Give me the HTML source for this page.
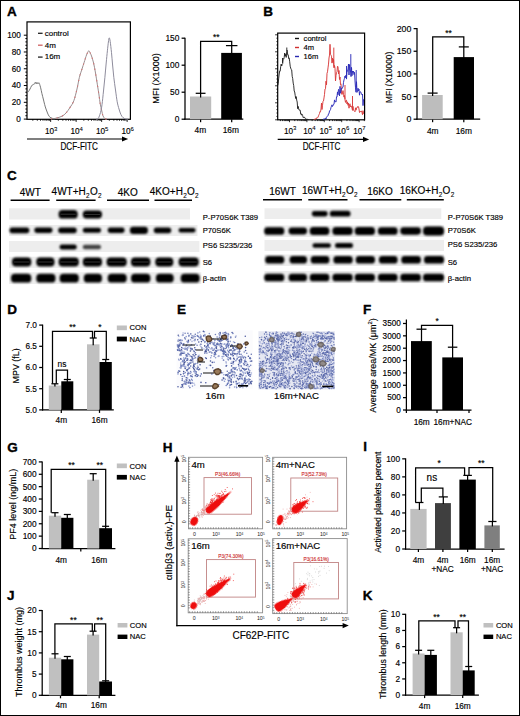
<!DOCTYPE html>
<html><head><meta charset="utf-8"><style>
html,body{margin:0;padding:0;background:#fff;}
body{width:520px;height:716px;overflow:hidden;position:relative;}
svg{position:absolute;left:0;top:0;}
text{font-family:"Liberation Sans",sans-serif;}
.frame{position:absolute;left:0;top:0;width:518px;height:714px;border:1px solid #000;pointer-events:none;}
</style></head><body>
<svg width="520" height="716" viewBox="0 0 520 716" font-family="Liberation Sans, sans-serif">
<defs><filter id="bl" x="-20%" y="-60%" width="140%" height="220%"><feGaussianBlur stdDeviation="0.85"/></filter><filter id="bl2" x="-5%" y="-30%" width="110%" height="160%"><feGaussianBlur stdDeviation="0.7"/></filter><filter id="bl3" x="-50%" y="-50%" width="200%" height="200%"><feGaussianBlur stdDeviation="0.5"/></filter></defs>
<text x="6.89" y="15.81" font-size="13.5" font-weight="bold" stroke="#000" stroke-width="0.35">A</text>
<rect x="27.00" y="21.90" width="103.40" height="97.40" fill="none" stroke="#000" stroke-width="1.2" />
<line x1="23.80" y1="119.10" x2="27.00" y2="119.10" stroke="#000" stroke-width="1.0" />
<line x1="25.40" y1="115.74" x2="27.00" y2="115.74" stroke="#000" stroke-width="1.0" />
<line x1="25.40" y1="112.39" x2="27.00" y2="112.39" stroke="#000" stroke-width="1.0" />
<line x1="25.40" y1="109.03" x2="27.00" y2="109.03" stroke="#000" stroke-width="1.0" />
<line x1="25.40" y1="105.68" x2="27.00" y2="105.68" stroke="#000" stroke-width="1.0" />
<line x1="23.80" y1="102.32" x2="27.00" y2="102.32" stroke="#000" stroke-width="1.0" />
<line x1="25.40" y1="98.96" x2="27.00" y2="98.96" stroke="#000" stroke-width="1.0" />
<line x1="25.40" y1="95.61" x2="27.00" y2="95.61" stroke="#000" stroke-width="1.0" />
<line x1="25.40" y1="92.25" x2="27.00" y2="92.25" stroke="#000" stroke-width="1.0" />
<line x1="25.40" y1="88.90" x2="27.00" y2="88.90" stroke="#000" stroke-width="1.0" />
<line x1="23.80" y1="85.54" x2="27.00" y2="85.54" stroke="#000" stroke-width="1.0" />
<line x1="25.40" y1="82.18" x2="27.00" y2="82.18" stroke="#000" stroke-width="1.0" />
<line x1="25.40" y1="78.83" x2="27.00" y2="78.83" stroke="#000" stroke-width="1.0" />
<line x1="25.40" y1="75.47" x2="27.00" y2="75.47" stroke="#000" stroke-width="1.0" />
<line x1="25.40" y1="72.12" x2="27.00" y2="72.12" stroke="#000" stroke-width="1.0" />
<line x1="23.80" y1="68.76" x2="27.00" y2="68.76" stroke="#000" stroke-width="1.0" />
<line x1="25.40" y1="65.40" x2="27.00" y2="65.40" stroke="#000" stroke-width="1.0" />
<line x1="25.40" y1="62.05" x2="27.00" y2="62.05" stroke="#000" stroke-width="1.0" />
<line x1="25.40" y1="58.69" x2="27.00" y2="58.69" stroke="#000" stroke-width="1.0" />
<line x1="25.40" y1="55.34" x2="27.00" y2="55.34" stroke="#000" stroke-width="1.0" />
<line x1="23.80" y1="51.98" x2="27.00" y2="51.98" stroke="#000" stroke-width="1.0" />
<line x1="25.40" y1="48.62" x2="27.00" y2="48.62" stroke="#000" stroke-width="1.0" />
<line x1="25.40" y1="45.27" x2="27.00" y2="45.27" stroke="#000" stroke-width="1.0" />
<line x1="25.40" y1="41.91" x2="27.00" y2="41.91" stroke="#000" stroke-width="1.0" />
<line x1="25.40" y1="38.56" x2="27.00" y2="38.56" stroke="#000" stroke-width="1.0" />
<line x1="23.80" y1="35.20" x2="27.00" y2="35.20" stroke="#000" stroke-width="1.0" />
<text x="20.90" y="121.93" font-size="8.2" text-anchor="end" font-weight="normal" fill="#000" stroke="#000" stroke-width="0.15" >0</text>
<text x="20.90" y="105.15" font-size="8.2" text-anchor="end" font-weight="normal" fill="#000" stroke="#000" stroke-width="0.15" >20</text>
<text x="20.90" y="88.37" font-size="8.2" text-anchor="end" font-weight="normal" fill="#000" stroke="#000" stroke-width="0.15" >40</text>
<text x="20.90" y="71.59" font-size="8.2" text-anchor="end" font-weight="normal" fill="#000" stroke="#000" stroke-width="0.15" >60</text>
<text x="20.90" y="54.81" font-size="8.2" text-anchor="end" font-weight="normal" fill="#000" stroke="#000" stroke-width="0.15" >80</text>
<text x="20.90" y="38.03" font-size="8.2" text-anchor="end" font-weight="normal" fill="#000" stroke="#000" stroke-width="0.15" >100</text>
<line x1="32.83" y1="119.30" x2="32.83" y2="120.70" stroke="#000" stroke-width="0.9" />
<line x1="37.32" y1="119.30" x2="37.32" y2="120.70" stroke="#000" stroke-width="0.9" />
<line x1="40.50" y1="119.30" x2="40.50" y2="120.70" stroke="#000" stroke-width="0.9" />
<line x1="42.97" y1="119.30" x2="42.97" y2="120.70" stroke="#000" stroke-width="0.9" />
<line x1="44.99" y1="119.30" x2="44.99" y2="120.70" stroke="#000" stroke-width="0.9" />
<line x1="46.70" y1="119.30" x2="46.70" y2="120.70" stroke="#000" stroke-width="0.9" />
<line x1="48.18" y1="119.30" x2="48.18" y2="120.70" stroke="#000" stroke-width="0.9" />
<line x1="49.48" y1="119.30" x2="49.48" y2="120.70" stroke="#000" stroke-width="0.9" />
<line x1="50.65" y1="119.30" x2="50.65" y2="121.90" stroke="#000" stroke-width="0.9" />
<line x1="58.33" y1="119.30" x2="58.33" y2="120.70" stroke="#000" stroke-width="0.9" />
<line x1="62.82" y1="119.30" x2="62.82" y2="120.70" stroke="#000" stroke-width="0.9" />
<line x1="66.00" y1="119.30" x2="66.00" y2="120.70" stroke="#000" stroke-width="0.9" />
<line x1="68.47" y1="119.30" x2="68.47" y2="120.70" stroke="#000" stroke-width="0.9" />
<line x1="70.49" y1="119.30" x2="70.49" y2="120.70" stroke="#000" stroke-width="0.9" />
<line x1="72.20" y1="119.30" x2="72.20" y2="120.70" stroke="#000" stroke-width="0.9" />
<line x1="73.68" y1="119.30" x2="73.68" y2="120.70" stroke="#000" stroke-width="0.9" />
<line x1="74.98" y1="119.30" x2="74.98" y2="120.70" stroke="#000" stroke-width="0.9" />
<line x1="76.15" y1="119.30" x2="76.15" y2="121.90" stroke="#000" stroke-width="0.9" />
<line x1="83.83" y1="119.30" x2="83.83" y2="120.70" stroke="#000" stroke-width="0.9" />
<line x1="88.32" y1="119.30" x2="88.32" y2="120.70" stroke="#000" stroke-width="0.9" />
<line x1="91.50" y1="119.30" x2="91.50" y2="120.70" stroke="#000" stroke-width="0.9" />
<line x1="93.97" y1="119.30" x2="93.97" y2="120.70" stroke="#000" stroke-width="0.9" />
<line x1="95.99" y1="119.30" x2="95.99" y2="120.70" stroke="#000" stroke-width="0.9" />
<line x1="97.70" y1="119.30" x2="97.70" y2="120.70" stroke="#000" stroke-width="0.9" />
<line x1="99.18" y1="119.30" x2="99.18" y2="120.70" stroke="#000" stroke-width="0.9" />
<line x1="100.48" y1="119.30" x2="100.48" y2="120.70" stroke="#000" stroke-width="0.9" />
<line x1="101.65" y1="119.30" x2="101.65" y2="121.90" stroke="#000" stroke-width="0.9" />
<line x1="109.33" y1="119.30" x2="109.33" y2="120.70" stroke="#000" stroke-width="0.9" />
<line x1="113.82" y1="119.30" x2="113.82" y2="120.70" stroke="#000" stroke-width="0.9" />
<line x1="117.00" y1="119.30" x2="117.00" y2="120.70" stroke="#000" stroke-width="0.9" />
<line x1="119.47" y1="119.30" x2="119.47" y2="120.70" stroke="#000" stroke-width="0.9" />
<line x1="121.49" y1="119.30" x2="121.49" y2="120.70" stroke="#000" stroke-width="0.9" />
<line x1="123.20" y1="119.30" x2="123.20" y2="120.70" stroke="#000" stroke-width="0.9" />
<line x1="124.68" y1="119.30" x2="124.68" y2="120.70" stroke="#000" stroke-width="0.9" />
<line x1="125.98" y1="119.30" x2="125.98" y2="120.70" stroke="#000" stroke-width="0.9" />
<line x1="127.15" y1="119.30" x2="127.15" y2="121.90" stroke="#000" stroke-width="0.9" />
<text x="51.15" y="134.20" font-size="8.2" text-anchor="middle" fill="#000" stroke="#000" stroke-width="0.15" >10<tspan dy="-3.4" font-size="6.0" stroke-width="0.08">3</tspan></text>
<text x="76.65" y="134.20" font-size="8.2" text-anchor="middle" fill="#000" stroke="#000" stroke-width="0.15" >10<tspan dy="-3.4" font-size="6.0" stroke-width="0.08">4</tspan></text>
<text x="102.15" y="134.20" font-size="8.2" text-anchor="middle" fill="#000" stroke="#000" stroke-width="0.15" >10<tspan dy="-3.4" font-size="6.0" stroke-width="0.08">5</tspan></text>
<text x="127.65" y="134.20" font-size="8.2" text-anchor="middle" fill="#000" stroke="#000" stroke-width="0.15" >10<tspan dy="-3.4" font-size="6.0" stroke-width="0.08">6</tspan></text>
<line x1="27.00" y1="139.00" x2="124.00" y2="139.00" stroke="#000" stroke-width="1.2" />
<path d="M122,136.4 L128.2,139 L122,141.6 Z" stroke="#000" stroke-width="0" fill="#000" />
<text transform="translate(79.20,149.82) scale(0.8,1)" font-size="10.2" text-anchor="middle" font-weight="normal" fill="#000" stroke="#000" stroke-width="0.15" >DCF-FITC</text>
<line x1="38.00" y1="33.30" x2="42.60" y2="33.30" stroke="#222" stroke-width="1.3" />
<text x="44.70" y="35.60" font-size="8.0" text-anchor="start" font-weight="normal" fill="#000" stroke="#000" stroke-width="0.15" >control</text>
<line x1="38.00" y1="45.20" x2="42.60" y2="45.20" stroke="#d06060" stroke-width="1.3" />
<text x="44.70" y="47.50" font-size="8.0" text-anchor="start" font-weight="normal" fill="#000" stroke="#000" stroke-width="0.15" >4m</text>
<line x1="38.00" y1="57.10" x2="42.60" y2="57.10" stroke="#222" stroke-width="1.3" />
<text x="44.70" y="59.40" font-size="8.0" text-anchor="start" font-weight="normal" fill="#000" stroke="#000" stroke-width="0.15" >16m</text>
<path d="M27.60,92.50 C27.77,92.32 28.20,91.98 28.60,91.40 C29.00,90.82 29.52,89.90 30.00,89.00 C30.48,88.10 31.00,86.75 31.50,86.00 C32.00,85.25 32.50,84.83 33.00,84.50 C33.50,84.17 34.08,84.42 34.50,84.00 C34.92,83.58 35.20,82.00 35.50,82.00 C35.80,82.00 36.05,83.93 36.30,84.00 C36.55,84.07 36.72,82.40 37.00,82.40 C37.28,82.40 37.67,83.93 38.00,84.00 C38.33,84.07 38.58,82.27 39.00,82.80 C39.42,83.33 40.02,85.42 40.50,87.20 C40.98,88.98 41.43,91.53 41.90,93.50 C42.37,95.47 42.83,97.13 43.30,99.00 C43.77,100.87 44.25,103.03 44.70,104.70 C45.15,106.37 45.53,107.62 46.00,109.00 C46.47,110.38 46.97,111.77 47.50,113.00 C48.03,114.23 48.62,115.60 49.20,116.40 C49.78,117.20 50.37,117.43 51.00,117.80 C51.63,118.17 52.33,118.43 53.00,118.60 C53.67,118.77 54.67,118.77 55.00,118.80" stroke="#777777" stroke-width="1.0" fill="none" />
<path d="M51.00,118.90 C51.83,118.78 54.17,118.65 56.00,118.20 C57.83,117.75 60.33,117.07 62.00,116.20 C63.67,115.33 64.67,114.45 66.00,113.00 C67.33,111.55 68.70,109.53 70.00,107.50 C71.30,105.47 72.63,103.88 73.80,100.80 C74.97,97.72 76.07,92.92 77.00,89.00 C77.93,85.08 78.57,80.63 79.40,77.30 C80.23,73.97 81.20,71.52 82.00,69.00 C82.80,66.48 83.45,64.53 84.20,62.20 C84.95,59.87 85.83,56.78 86.50,55.00 C87.17,53.22 87.78,52.20 88.20,51.50 C88.62,50.80 88.70,50.63 89.00,50.80 C89.30,50.97 89.58,51.63 90.00,52.50 C90.42,53.37 90.90,54.23 91.50,56.00 C92.10,57.77 92.93,60.27 93.60,63.10 C94.27,65.93 94.87,69.38 95.50,73.00 C96.13,76.62 96.82,81.13 97.40,84.80 C97.98,88.47 98.53,91.85 99.00,95.00 C99.47,98.15 99.73,101.03 100.20,103.70 C100.67,106.37 101.33,108.97 101.80,111.00 C102.27,113.03 102.47,114.63 103.00,115.90 C103.53,117.17 104.33,118.07 105.00,118.60 C105.67,119.13 106.67,119.02 107.00,119.10" stroke="#9a8e90" stroke-width="1.0" fill="none" />
<path d="M51.00,118.90 C51.83,118.78 54.17,118.65 56.00,118.20 C57.83,117.75 60.33,117.07 62.00,116.20 C63.67,115.33 64.67,114.45 66.00,113.00 C67.33,111.55 68.70,109.53 70.00,107.50 C71.30,105.47 72.63,103.88 73.80,100.80 C74.97,97.72 76.07,92.92 77.00,89.00 C77.93,85.08 78.57,80.63 79.40,77.30 C80.23,73.97 81.20,71.52 82.00,69.00 C82.80,66.48 83.45,64.53 84.20,62.20 C84.95,59.87 85.83,56.78 86.50,55.00 C87.17,53.22 87.78,52.20 88.20,51.50 C88.62,50.80 88.70,50.63 89.00,50.80 C89.30,50.97 89.58,51.63 90.00,52.50 C90.42,53.37 90.90,54.23 91.50,56.00 C92.10,57.77 92.93,60.27 93.60,63.10 C94.27,65.93 94.87,69.38 95.50,73.00 C96.13,76.62 96.82,81.13 97.40,84.80 C97.98,88.47 98.53,91.85 99.00,95.00 C99.47,98.15 99.73,101.03 100.20,103.70 C100.67,106.37 101.33,108.97 101.80,111.00 C102.27,113.03 102.47,114.63 103.00,115.90 C103.53,117.17 104.33,118.07 105.00,118.60 C105.67,119.13 106.67,119.02 107.00,119.10" stroke="#d87070" stroke-width="1.1" fill="none" stroke-dasharray="1.2,4.5"/>
<path d="M96.00,119.20 C96.38,119.07 97.55,119.52 98.30,118.40 C99.05,117.28 99.88,114.78 100.50,112.50 C101.12,110.22 101.50,108.28 102.00,104.70 C102.50,101.12 103.02,95.57 103.50,91.00 C103.98,86.43 104.45,81.97 104.90,77.30 C105.35,72.63 105.78,67.42 106.20,63.00 C106.62,58.58 107.03,54.30 107.40,50.80 C107.77,47.30 108.10,44.17 108.40,42.00 C108.70,39.83 108.90,37.88 109.20,37.80 C109.50,37.72 109.82,39.02 110.20,41.50 C110.58,43.98 111.10,48.78 111.50,52.70 C111.90,56.62 112.22,60.90 112.60,65.00 C112.98,69.10 113.32,73.13 113.80,77.30 C114.28,81.47 114.93,85.92 115.50,90.00 C116.07,94.08 116.62,98.63 117.20,101.80 C117.78,104.97 118.38,106.88 119.00,109.00 C119.62,111.12 120.23,113.07 120.90,114.50 C121.57,115.93 122.23,116.87 123.00,117.60 C123.77,118.33 124.67,118.63 125.50,118.90 C126.33,119.17 127.58,119.15 128.00,119.20" stroke="#8e8c9c" stroke-width="1.0" fill="none" />
<line x1="185.00" y1="37.70" x2="185.00" y2="119.80" stroke="#000" stroke-width="1.25" />
<line x1="181.60" y1="119.20" x2="185.00" y2="119.20" stroke="#000" stroke-width="1.25" />
<text x="179.40" y="122.10" font-size="8.4" text-anchor="end" font-weight="normal" fill="#000" stroke="#000" stroke-width="0.15" >0</text>
<line x1="181.60" y1="92.20" x2="185.00" y2="92.20" stroke="#000" stroke-width="1.25" />
<text x="179.40" y="95.10" font-size="8.4" text-anchor="end" font-weight="normal" fill="#000" stroke="#000" stroke-width="0.15" >50</text>
<line x1="181.60" y1="65.20" x2="185.00" y2="65.20" stroke="#000" stroke-width="1.25" />
<text x="179.40" y="68.10" font-size="8.4" text-anchor="end" font-weight="normal" fill="#000" stroke="#000" stroke-width="0.15" >100</text>
<line x1="181.60" y1="38.20" x2="185.00" y2="38.20" stroke="#000" stroke-width="1.25" />
<text x="179.40" y="41.10" font-size="8.4" text-anchor="end" font-weight="normal" fill="#000" stroke="#000" stroke-width="0.15" >150</text>
<line x1="184.40" y1="119.20" x2="243.30" y2="119.20" stroke="#000" stroke-width="1.25" />
<line x1="200.60" y1="119.20" x2="200.60" y2="122.20" stroke="#000" stroke-width="1.25" />
<line x1="231.70" y1="119.20" x2="231.70" y2="122.20" stroke="#000" stroke-width="1.25" />
<rect x="190.00" y="96.50" width="21.20" height="22.70" fill="#bdbdbd" stroke="none" stroke-width="1" />
<rect x="221.20" y="52.90" width="20.70" height="66.30" fill="#000" stroke="none" stroke-width="1" />
<line x1="200.60" y1="97.50" x2="200.60" y2="93.30" stroke="#000" stroke-width="1.25" />
<line x1="195.70" y1="93.30" x2="205.50" y2="93.30" stroke="#000" stroke-width="1.25" />
<line x1="231.70" y1="53.90" x2="231.70" y2="45.60" stroke="#000" stroke-width="1.25" />
<line x1="225.95" y1="45.60" x2="237.45" y2="45.60" stroke="#000" stroke-width="1.25" />
<path d="M200.6,93.3 L200.6,41.3 L231.7,41.3 L231.7,45.6" stroke="#000" stroke-width="1.25" fill="none" />
<text x="216.30" y="39.79" font-size="8.5" text-anchor="middle" font-weight="normal" fill="#000" stroke="#000" stroke-width="0.15" >**</text>
<text x="200.40" y="133.30" font-size="8.4" text-anchor="middle" font-weight="normal" fill="#000" stroke="#000" stroke-width="0.15" >4m</text>
<text x="230.80" y="133.30" font-size="8.4" text-anchor="middle" font-weight="normal" fill="#000" stroke="#000" stroke-width="0.15" >16m</text>
<text transform="translate(158.94,78.40) rotate(-90)" font-size="9.1" text-anchor="middle" font-weight="normal" fill="#000" stroke="#000" stroke-width="0.15" >MFI (X1000)</text>
<text x="263.20" y="15.71" font-size="13.5" font-weight="bold" stroke="#000" stroke-width="0.35">B</text>
<rect x="277.70" y="33.10" width="86.90" height="86.70" fill="none" stroke="#000" stroke-width="1.2" />
<line x1="275.10" y1="119.80" x2="277.70" y2="119.80" stroke="#000" stroke-width="0.8" />
<line x1="276.40" y1="116.40" x2="277.70" y2="116.40" stroke="#000" stroke-width="0.8" />
<line x1="276.40" y1="113.00" x2="277.70" y2="113.00" stroke="#000" stroke-width="0.8" />
<line x1="276.40" y1="109.60" x2="277.70" y2="109.60" stroke="#000" stroke-width="0.8" />
<line x1="276.40" y1="106.20" x2="277.70" y2="106.20" stroke="#000" stroke-width="0.8" />
<line x1="275.10" y1="102.80" x2="277.70" y2="102.80" stroke="#000" stroke-width="0.8" />
<line x1="276.40" y1="99.40" x2="277.70" y2="99.40" stroke="#000" stroke-width="0.8" />
<line x1="276.40" y1="96.00" x2="277.70" y2="96.00" stroke="#000" stroke-width="0.8" />
<line x1="276.40" y1="92.60" x2="277.70" y2="92.60" stroke="#000" stroke-width="0.8" />
<line x1="276.40" y1="89.20" x2="277.70" y2="89.20" stroke="#000" stroke-width="0.8" />
<line x1="275.10" y1="85.80" x2="277.70" y2="85.80" stroke="#000" stroke-width="0.8" />
<line x1="276.40" y1="82.40" x2="277.70" y2="82.40" stroke="#000" stroke-width="0.8" />
<line x1="276.40" y1="79.00" x2="277.70" y2="79.00" stroke="#000" stroke-width="0.8" />
<line x1="276.40" y1="75.60" x2="277.70" y2="75.60" stroke="#000" stroke-width="0.8" />
<line x1="276.40" y1="72.20" x2="277.70" y2="72.20" stroke="#000" stroke-width="0.8" />
<line x1="275.10" y1="68.80" x2="277.70" y2="68.80" stroke="#000" stroke-width="0.8" />
<line x1="276.40" y1="65.40" x2="277.70" y2="65.40" stroke="#000" stroke-width="0.8" />
<line x1="276.40" y1="62.00" x2="277.70" y2="62.00" stroke="#000" stroke-width="0.8" />
<line x1="276.40" y1="58.60" x2="277.70" y2="58.60" stroke="#000" stroke-width="0.8" />
<line x1="276.40" y1="55.20" x2="277.70" y2="55.20" stroke="#000" stroke-width="0.8" />
<line x1="275.10" y1="51.80" x2="277.70" y2="51.80" stroke="#000" stroke-width="0.8" />
<line x1="276.40" y1="48.40" x2="277.70" y2="48.40" stroke="#000" stroke-width="0.8" />
<line x1="276.40" y1="45.00" x2="277.70" y2="45.00" stroke="#000" stroke-width="0.8" />
<line x1="276.40" y1="41.60" x2="277.70" y2="41.60" stroke="#000" stroke-width="0.8" />
<line x1="276.40" y1="38.20" x2="277.70" y2="38.20" stroke="#000" stroke-width="0.8" />
<line x1="275.10" y1="34.80" x2="277.70" y2="34.80" stroke="#000" stroke-width="0.8" />
<line x1="280.40" y1="119.80" x2="280.40" y2="121.10" stroke="#000" stroke-width="0.8" />
<line x1="282.58" y1="119.80" x2="282.58" y2="121.10" stroke="#000" stroke-width="0.8" />
<line x1="284.26" y1="119.80" x2="284.26" y2="121.10" stroke="#000" stroke-width="0.8" />
<line x1="285.64" y1="119.80" x2="285.64" y2="121.10" stroke="#000" stroke-width="0.8" />
<line x1="286.80" y1="119.80" x2="286.80" y2="121.10" stroke="#000" stroke-width="0.8" />
<line x1="287.81" y1="119.80" x2="287.81" y2="121.10" stroke="#000" stroke-width="0.8" />
<line x1="288.70" y1="119.80" x2="288.70" y2="121.10" stroke="#000" stroke-width="0.8" />
<line x1="289.50" y1="119.80" x2="289.50" y2="122.20" stroke="#000" stroke-width="0.8" />
<line x1="294.74" y1="119.80" x2="294.74" y2="121.10" stroke="#000" stroke-width="0.8" />
<line x1="297.80" y1="119.80" x2="297.80" y2="121.10" stroke="#000" stroke-width="0.8" />
<line x1="299.98" y1="119.80" x2="299.98" y2="121.10" stroke="#000" stroke-width="0.8" />
<line x1="301.66" y1="119.80" x2="301.66" y2="121.10" stroke="#000" stroke-width="0.8" />
<line x1="303.04" y1="119.80" x2="303.04" y2="121.10" stroke="#000" stroke-width="0.8" />
<line x1="304.20" y1="119.80" x2="304.20" y2="121.10" stroke="#000" stroke-width="0.8" />
<line x1="305.21" y1="119.80" x2="305.21" y2="121.10" stroke="#000" stroke-width="0.8" />
<line x1="306.10" y1="119.80" x2="306.10" y2="121.10" stroke="#000" stroke-width="0.8" />
<line x1="306.90" y1="119.80" x2="306.90" y2="122.20" stroke="#000" stroke-width="0.8" />
<line x1="312.14" y1="119.80" x2="312.14" y2="121.10" stroke="#000" stroke-width="0.8" />
<line x1="315.20" y1="119.80" x2="315.20" y2="121.10" stroke="#000" stroke-width="0.8" />
<line x1="317.38" y1="119.80" x2="317.38" y2="121.10" stroke="#000" stroke-width="0.8" />
<line x1="319.06" y1="119.80" x2="319.06" y2="121.10" stroke="#000" stroke-width="0.8" />
<line x1="320.44" y1="119.80" x2="320.44" y2="121.10" stroke="#000" stroke-width="0.8" />
<line x1="321.60" y1="119.80" x2="321.60" y2="121.10" stroke="#000" stroke-width="0.8" />
<line x1="322.61" y1="119.80" x2="322.61" y2="121.10" stroke="#000" stroke-width="0.8" />
<line x1="323.50" y1="119.80" x2="323.50" y2="121.10" stroke="#000" stroke-width="0.8" />
<line x1="324.30" y1="119.80" x2="324.30" y2="122.20" stroke="#000" stroke-width="0.8" />
<line x1="329.54" y1="119.80" x2="329.54" y2="121.10" stroke="#000" stroke-width="0.8" />
<line x1="332.60" y1="119.80" x2="332.60" y2="121.10" stroke="#000" stroke-width="0.8" />
<line x1="334.78" y1="119.80" x2="334.78" y2="121.10" stroke="#000" stroke-width="0.8" />
<line x1="336.46" y1="119.80" x2="336.46" y2="121.10" stroke="#000" stroke-width="0.8" />
<line x1="337.84" y1="119.80" x2="337.84" y2="121.10" stroke="#000" stroke-width="0.8" />
<line x1="339.00" y1="119.80" x2="339.00" y2="121.10" stroke="#000" stroke-width="0.8" />
<line x1="340.01" y1="119.80" x2="340.01" y2="121.10" stroke="#000" stroke-width="0.8" />
<line x1="340.90" y1="119.80" x2="340.90" y2="121.10" stroke="#000" stroke-width="0.8" />
<line x1="341.70" y1="119.80" x2="341.70" y2="122.20" stroke="#000" stroke-width="0.8" />
<line x1="346.94" y1="119.80" x2="346.94" y2="121.10" stroke="#000" stroke-width="0.8" />
<line x1="350.00" y1="119.80" x2="350.00" y2="121.10" stroke="#000" stroke-width="0.8" />
<line x1="352.18" y1="119.80" x2="352.18" y2="121.10" stroke="#000" stroke-width="0.8" />
<line x1="353.86" y1="119.80" x2="353.86" y2="121.10" stroke="#000" stroke-width="0.8" />
<line x1="355.24" y1="119.80" x2="355.24" y2="121.10" stroke="#000" stroke-width="0.8" />
<line x1="356.40" y1="119.80" x2="356.40" y2="121.10" stroke="#000" stroke-width="0.8" />
<line x1="357.41" y1="119.80" x2="357.41" y2="121.10" stroke="#000" stroke-width="0.8" />
<line x1="358.30" y1="119.80" x2="358.30" y2="121.10" stroke="#000" stroke-width="0.8" />
<line x1="359.10" y1="119.80" x2="359.10" y2="122.20" stroke="#000" stroke-width="0.8" />
<line x1="364.34" y1="119.80" x2="364.34" y2="121.10" stroke="#000" stroke-width="0.8" />
<text x="290.20" y="133.80" font-size="8.2" text-anchor="middle" fill="#000" stroke="#000" stroke-width="0.15" >10<tspan dy="-3.4" font-size="6.0" stroke-width="0.08">3</tspan></text>
<text x="309.40" y="133.80" font-size="8.2" text-anchor="middle" fill="#000" stroke="#000" stroke-width="0.15" >10<tspan dy="-3.4" font-size="6.0" stroke-width="0.08">4</tspan></text>
<text x="325.80" y="133.80" font-size="8.2" text-anchor="middle" fill="#000" stroke="#000" stroke-width="0.15" >10<tspan dy="-3.4" font-size="6.0" stroke-width="0.08">5</tspan></text>
<text x="343.00" y="133.80" font-size="8.2" text-anchor="middle" fill="#000" stroke="#000" stroke-width="0.15" >10<tspan dy="-3.4" font-size="6.0" stroke-width="0.08">6</tspan></text>
<text x="359.40" y="133.80" font-size="8.2" text-anchor="middle" fill="#000" stroke="#000" stroke-width="0.15" >10<tspan dy="-3.4" font-size="6.0" stroke-width="0.08">7</tspan></text>
<line x1="277.70" y1="139.40" x2="365.00" y2="139.40" stroke="#000" stroke-width="1.2" />
<path d="M363,136.8 L369.2,139.4 L363,142 Z" stroke="#000" stroke-width="0" fill="#000" />
<text transform="translate(321.50,150.22) scale(0.8,1)" font-size="10.2" text-anchor="middle" font-weight="normal" fill="#000" stroke="#000" stroke-width="0.15" >DCF-FITC</text>
<line x1="295.00" y1="38.50" x2="299.00" y2="38.50" stroke="#111" stroke-width="1.4" />
<text x="303.60" y="40.78" font-size="7.6" text-anchor="start" font-weight="normal" fill="#000" stroke="#000" stroke-width="0.15" >control</text>
<line x1="295.00" y1="47.50" x2="299.00" y2="47.50" stroke="#d03030" stroke-width="1.4" />
<text x="303.60" y="49.78" font-size="7.6" text-anchor="start" font-weight="normal" fill="#000" stroke="#000" stroke-width="0.15" >4m</text>
<line x1="295.00" y1="56.50" x2="299.00" y2="56.50" stroke="#2828b0" stroke-width="1.4" />
<text x="303.60" y="58.78" font-size="7.6" text-anchor="start" font-weight="normal" fill="#000" stroke="#000" stroke-width="0.15" >16m</text>
<path d="M277.7,85.5 L278.2,83.6 L278.7,78.2 L279.2,74.0 L279.7,71.0 L280.2,71.1 L280.7,66.6 L281.2,64.1 L281.7,66.0 L282.2,64.2 L282.7,63.5 L283.2,58.6 L283.7,59.1 L284.2,57.5 L284.7,53.0 L285.2,56.1 L285.7,54.3 L286.2,57.4 L286.7,51.8 L287.2,50.3 L287.7,54.9 L288.2,54.8 L288.7,58.5 L289.2,57.9 L289.7,61.8 L290.2,66.2 L290.7,68.1 L291.2,69.5 L291.7,69.9 L292.2,76.3 L292.7,78.5 L293.2,83.1 L293.7,85.5 L294.2,91.0 L294.7,92.0 L295.2,95.4 L295.7,98.5 L296.2,96.6 L296.7,100.1 L297.2,102.0 L297.7,108.7 L298.2,106.4 L298.7,108.9 L299.2,110.1 L299.7,110.2 L300.2,110.2 L300.7,114.1 L301.2,113.7 L301.7,115.2 L302.2,114.4 L302.7,115.7 L303.2,117.4 L303.7,118.0 L304.2,117.0 L304.7,117.4 L305.2,118.3 L305.7,118.9 L306.2,119.0 L306.7,119.3 L307.2,119.0 L307.7,119.5 L308.2,119.7 L308.7,119.4 M286.8,51.2 L286.8,47.5 M282.5,62.9 L282.5,58.0" stroke="#1a1a1a" stroke-width="0.9" fill="none" />
<path d="M314.0,119.8 L314.5,119.1 L315.0,119.3 L315.5,119.0 L316.0,119.1 L316.5,117.9 L317.0,118.2 L317.5,117.8 L318.0,117.2 L318.5,115.8 L319.0,114.7 L319.5,113.5 L320.0,111.4 L320.5,111.8 L321.0,109.0 L321.5,103.1 L322.0,109.5 L322.5,105.2 L323.0,101.5 L323.5,101.0 L324.0,97.9 L324.5,94.4 L325.0,89.0 L325.5,88.7 L326.0,81.2 L326.5,84.8 L327.0,73.4 L327.5,71.8 L328.0,67.9 L328.5,64.1 L329.0,58.0 L329.5,55.1 L330.0,44.3 L330.5,54.3 L331.0,55.2 L331.5,56.2 L332.0,63.1 L332.5,58.2 L333.0,62.3 L333.5,59.4 L334.0,67.9 L334.5,65.5 L335.0,68.2 L335.5,81.0 L336.0,75.5 L336.5,72.4 L337.0,71.6 L337.5,66.2 L338.0,66.8 L338.5,73.9 L339.0,70.5 L339.5,79.5 L340.0,77.0 L340.5,84.6 L341.0,83.9 L341.5,93.9 L342.0,94.5 L342.5,93.0 L343.0,90.6 L343.5,94.3 L344.0,97.1 L344.5,95.5 L345.0,99.7 L345.5,102.4 L346.0,100.5 L346.5,100.2 L347.0,104.0 L347.5,101.9 L348.0,105.3 L348.5,103.2 L349.0,108.2 L349.5,104.7 L350.0,103.8 L350.5,106.8 L351.0,106.0 L351.5,106.2 L352.0,108.3 L352.5,110.4 L353.0,106.4 L353.5,110.3 L354.0,110.8 L354.5,111.0 L355.0,111.7 L355.5,107.8 L356.0,110.2 L356.5,108.0 L357.0,108.0 L357.5,106.6 L358.0,106.3 L358.5,106.7 L359.0,109.0 L359.5,112.5 L360.0,111.3 L360.5,111.6 L361.0,111.8 L361.5,110.9 L362.0,112.6 L362.5,114.7 L363.0,110.7 L363.5,113.6 L364.0,114.0 M333.8,66.6 L333.8,47.6 M345.0,99.3 L345.0,85.0 M352.5,109.3 L352.5,96.0" stroke="#d83a3a" stroke-width="0.95" fill="none" />
<path d="M323.0,119.5 L323.5,119.7 L324.0,118.7 L324.5,119.2 L325.0,118.4 L325.5,118.2 L326.0,119.0 L326.5,117.4 L327.0,116.4 L327.5,116.2 L328.0,115.7 L328.5,113.8 L329.0,113.7 L329.5,110.9 L330.0,110.7 L330.5,109.7 L331.0,107.4 L331.5,106.1 L332.0,104.8 L332.5,106.5 L333.0,105.7 L333.5,104.4 L334.0,104.3 L334.5,99.9 L335.0,101.9 L335.5,101.7 L336.0,102.1 L336.5,96.9 L337.0,97.1 L337.5,91.9 L338.0,94.8 L338.5,89.4 L339.0,90.4 L339.5,96.0 L340.0,86.4 L340.5,93.2 L341.0,91.0 L341.5,88.2 L342.0,88.7 L342.5,87.3 L343.0,87.2 L343.5,82.3 L344.0,79.9 L344.5,78.3 L345.0,76.0 L345.5,77.7 L346.0,75.1 L346.5,79.1 L347.0,70.8 L347.5,71.3 L348.0,69.0 L348.5,64.0 L349.0,75.0 L349.5,64.5 L350.0,70.6 L350.5,70.6 L351.0,76.6 L351.5,67.4 L352.0,75.7 L352.5,71.0 L353.0,72.5 L353.5,71.2 L354.0,74.6 L354.5,72.3 L355.0,80.9 L355.5,87.8 L356.0,92.2 L356.5,81.7 L357.0,92.4 L357.5,91.5 L358.0,88.2 L358.5,90.8 L359.0,89.2 L359.5,95.2 L360.0,92.0 L360.5,91.7 L361.0,92.6 L361.5,93.7 L362.0,94.8 L362.5,94.0 L363.0,105.6 L363.5,99.7 L364.0,99.0 M350.8,72.2 L350.8,54.1 M356.2,87.6 L356.2,70.0 M346.5,76.4 L346.5,66.0" stroke="#2c2cb8" stroke-width="0.95" fill="none" />
<line x1="417.00" y1="28.10" x2="417.00" y2="119.80" stroke="#000" stroke-width="1.25" />
<line x1="413.60" y1="119.20" x2="417.00" y2="119.20" stroke="#000" stroke-width="1.25" />
<text x="411.40" y="122.24" font-size="8.8" text-anchor="end" font-weight="normal" fill="#000" stroke="#000" stroke-width="0.15" >0</text>
<line x1="413.60" y1="96.55" x2="417.00" y2="96.55" stroke="#000" stroke-width="1.25" />
<text x="411.40" y="99.59" font-size="8.8" text-anchor="end" font-weight="normal" fill="#000" stroke="#000" stroke-width="0.15" >50</text>
<line x1="413.60" y1="73.90" x2="417.00" y2="73.90" stroke="#000" stroke-width="1.25" />
<text x="411.40" y="76.94" font-size="8.8" text-anchor="end" font-weight="normal" fill="#000" stroke="#000" stroke-width="0.15" >100</text>
<line x1="413.60" y1="51.25" x2="417.00" y2="51.25" stroke="#000" stroke-width="1.25" />
<text x="411.40" y="54.29" font-size="8.8" text-anchor="end" font-weight="normal" fill="#000" stroke="#000" stroke-width="0.15" >150</text>
<line x1="413.60" y1="28.60" x2="417.00" y2="28.60" stroke="#000" stroke-width="1.25" />
<text x="411.40" y="31.64" font-size="8.8" text-anchor="end" font-weight="normal" fill="#000" stroke="#000" stroke-width="0.15" >200</text>
<line x1="416.40" y1="119.20" x2="480.20" y2="119.20" stroke="#000" stroke-width="1.25" />
<line x1="432.60" y1="119.20" x2="432.60" y2="122.20" stroke="#000" stroke-width="1.25" />
<line x1="463.80" y1="119.20" x2="463.80" y2="122.20" stroke="#000" stroke-width="1.25" />
<rect x="422.10" y="95.00" width="20.60" height="24.20" fill="#bdbdbd" stroke="none" stroke-width="1" />
<rect x="453.70" y="57.10" width="20.30" height="62.10" fill="#000" stroke="none" stroke-width="1" />
<line x1="432.60" y1="96.00" x2="432.60" y2="93.10" stroke="#000" stroke-width="1.25" />
<line x1="427.60" y1="93.10" x2="437.60" y2="93.10" stroke="#000" stroke-width="1.25" />
<line x1="463.80" y1="58.10" x2="463.80" y2="46.90" stroke="#000" stroke-width="1.25" />
<line x1="458.80" y1="46.90" x2="468.80" y2="46.90" stroke="#000" stroke-width="1.25" />
<path d="M432.7,93.1 L432.7,36.9 L463.8,36.9 L463.8,46.9" stroke="#000" stroke-width="1.25" fill="none" />
<text x="448.50" y="35.89" font-size="8.5" text-anchor="middle" font-weight="normal" fill="#000" stroke="#000" stroke-width="0.15" >**</text>
<text x="432.70" y="133.50" font-size="8.4" text-anchor="middle" font-weight="normal" fill="#000" stroke="#000" stroke-width="0.15" >4m</text>
<text x="463.80" y="133.50" font-size="8.4" text-anchor="middle" font-weight="normal" fill="#000" stroke="#000" stroke-width="0.15" >16m</text>
<text transform="translate(392.10,77.30) rotate(-90)" font-size="8.4" text-anchor="middle" font-weight="normal" fill="#000" stroke="#000" stroke-width="0.15" >MFI (X10000)</text>
<text x="7.00" y="179.56" font-size="13.5" font-weight="bold" stroke="#000" stroke-width="0.35">C</text>
<text x="30.30" y="196.05" font-size="10.0" text-anchor="middle" font-weight="normal" fill="#000" stroke="#000" stroke-width="0.15" >4WT</text>
<text x="51.60" y="194.60" font-size="10.0" stroke="#000" stroke-width="0.15">4WT+H<tspan dy="3.0" dx="0.3" font-size="6.4" stroke-width="0.1">2</tspan><tspan dy="-3.0" dx="0.3">O</tspan><tspan dy="3.0" dx="0.3" font-size="6.4" stroke-width="0.1">2</tspan></text>
<text x="127.70" y="196.05" font-size="10.0" text-anchor="middle" font-weight="normal" fill="#000" stroke="#000" stroke-width="0.15" >4KO</text>
<text x="149.80" y="194.60" font-size="10.0" stroke="#000" stroke-width="0.15">4KO+H<tspan dy="3.0" dx="0.3" font-size="6.4" stroke-width="0.1">2</tspan><tspan dy="-3.0" dx="0.3">O</tspan><tspan dy="3.0" dx="0.3" font-size="6.4" stroke-width="0.1">2</tspan></text>
<line x1="10.60" y1="200.20" x2="49.60" y2="200.20" stroke="#000" stroke-width="1.6" />
<line x1="56.20" y1="200.20" x2="95.60" y2="200.20" stroke="#000" stroke-width="1.6" />
<line x1="107.00" y1="200.20" x2="149.00" y2="200.20" stroke="#000" stroke-width="1.6" />
<line x1="154.50" y1="200.20" x2="192.00" y2="200.20" stroke="#000" stroke-width="1.6" />
<text x="282.50" y="195.45" font-size="10.0" text-anchor="middle" font-weight="normal" fill="#000" stroke="#000" stroke-width="0.15" >16WT</text>
<text x="302.00" y="194.20" font-size="10.0" stroke="#000" stroke-width="0.15">16WT+H<tspan dy="3.0" dx="0.3" font-size="6.4" stroke-width="0.1">2</tspan><tspan dy="-3.0" dx="0.3">O</tspan><tspan dy="3.0" dx="0.3" font-size="6.4" stroke-width="0.1">2</tspan></text>
<text x="380.00" y="195.45" font-size="10.0" text-anchor="middle" font-weight="normal" fill="#000" stroke="#000" stroke-width="0.15" >16KO</text>
<text x="399.80" y="194.20" font-size="10.0" stroke="#000" stroke-width="0.15">16KO+H<tspan dy="3.0" dx="0.3" font-size="6.4" stroke-width="0.1">2</tspan><tspan dy="-3.0" dx="0.3">O</tspan><tspan dy="3.0" dx="0.3" font-size="6.4" stroke-width="0.1">2</tspan></text>
<line x1="263.00" y1="199.80" x2="302.00" y2="199.80" stroke="#000" stroke-width="1.6" />
<line x1="308.30" y1="199.80" x2="347.50" y2="199.80" stroke="#000" stroke-width="1.6" />
<line x1="359.50" y1="199.80" x2="401.30" y2="199.80" stroke="#000" stroke-width="1.6" />
<line x1="406.80" y1="199.80" x2="443.80" y2="199.80" stroke="#000" stroke-width="1.6" />
<rect x="9.00" y="208.30" width="181.00" height="11.20" fill="#ededed" stroke="none" stroke-width="1" filter="url(#bl2)"/>
<rect x="58.60" y="209.90" width="19.10" height="8.60" rx="3.87" fill="#000" opacity="1.0" filter="url(#bl)"/>
<rect x="60.60" y="213.70" width="15.10" height="1" fill="#555" opacity="0.6" filter="url(#bl3)"/>
<rect x="82.80" y="210.40" width="19.20" height="8.00" rx="3.60" fill="#000" opacity="1.0" filter="url(#bl)"/>
<rect x="84.80" y="213.90" width="15.20" height="1" fill="#555" opacity="0.6" filter="url(#bl3)"/>
<rect x="9.00" y="225.00" width="188.50" height="11.00" fill="#ededed" stroke="none" stroke-width="1" filter="url(#bl2)"/>
<rect x="9.50" y="227.40" width="19.80" height="5.80" rx="2.61" fill="#000" opacity="1.0" filter="url(#bl)"/>
<rect x="34.30" y="227.55" width="18.20" height="5.50" rx="2.48" fill="#000" opacity="1.0" filter="url(#bl)"/>
<rect x="58.20" y="227.40" width="18.50" height="5.80" rx="2.61" fill="#000" opacity="1.0" filter="url(#bl)"/>
<rect x="82.80" y="227.80" width="18.20" height="5.00" rx="2.25" fill="#000" opacity="1.0" filter="url(#bl)"/>
<rect x="107.70" y="227.60" width="16.90" height="5.40" rx="2.43" fill="#000" opacity="1.0" filter="url(#bl)"/>
<rect x="129.90" y="226.70" width="18.00" height="7.20" rx="3.24" fill="#000" opacity="1.0" filter="url(#bl)"/>
<rect x="153.80" y="227.40" width="17.40" height="5.80" rx="2.61" fill="#000" opacity="1.0" filter="url(#bl)"/>
<rect x="178.60" y="228.10" width="16.90" height="4.40" rx="1.98" fill="#000" opacity="1.0" filter="url(#bl)"/>
<rect x="9.00" y="241.00" width="190.40" height="11.00" fill="#ededed" stroke="none" stroke-width="1" filter="url(#bl2)"/>
<rect x="59.60" y="244.40" width="17.10" height="5.20" rx="2.34" fill="#000" opacity="1.0" filter="url(#bl)"/>
<rect x="82.80" y="244.70" width="18.20" height="4.60" rx="2.07" fill="#000" opacity="0.72" filter="url(#bl)"/>
<rect x="9.00" y="256.70" width="191.40" height="11.10" fill="#ededed" stroke="none" stroke-width="1" filter="url(#bl2)"/>
<rect x="12.00" y="257.60" width="19.30" height="8.80" rx="3.96" fill="#000" opacity="1.0" filter="url(#bl)"/>
<rect x="14.00" y="261.50" width="15.30" height="1" fill="#555" opacity="0.6" filter="url(#bl3)"/>
<rect x="36.30" y="257.60" width="18.20" height="8.80" rx="3.96" fill="#000" opacity="1.0" filter="url(#bl)"/>
<rect x="38.30" y="261.50" width="14.20" height="1" fill="#555" opacity="0.6" filter="url(#bl3)"/>
<rect x="58.60" y="257.60" width="20.20" height="8.80" rx="3.96" fill="#000" opacity="1.0" filter="url(#bl)"/>
<rect x="60.60" y="261.50" width="16.20" height="1" fill="#555" opacity="0.6" filter="url(#bl3)"/>
<rect x="82.80" y="257.60" width="19.20" height="8.80" rx="3.96" fill="#000" opacity="1.0" filter="url(#bl)"/>
<rect x="84.80" y="261.50" width="15.20" height="1" fill="#555" opacity="0.6" filter="url(#bl3)"/>
<rect x="106.60" y="257.60" width="20.10" height="8.80" rx="3.96" fill="#000" opacity="1.0" filter="url(#bl)"/>
<rect x="108.60" y="261.50" width="16.10" height="1" fill="#555" opacity="0.6" filter="url(#bl3)"/>
<rect x="131.00" y="257.60" width="19.40" height="8.80" rx="3.96" fill="#000" opacity="1.0" filter="url(#bl)"/>
<rect x="133.00" y="261.50" width="15.40" height="1" fill="#555" opacity="0.6" filter="url(#bl3)"/>
<rect x="155.30" y="257.60" width="18.00" height="8.80" rx="3.96" fill="#000" opacity="1.0" filter="url(#bl)"/>
<rect x="157.30" y="261.50" width="14.00" height="1" fill="#555" opacity="0.6" filter="url(#bl3)"/>
<rect x="178.60" y="257.60" width="20.10" height="8.80" rx="3.96" fill="#000" opacity="1.0" filter="url(#bl)"/>
<rect x="180.60" y="261.50" width="16.10" height="1" fill="#555" opacity="0.6" filter="url(#bl3)"/>
<rect x="9.00" y="272.30" width="192.30" height="11.70" fill="#ededed" stroke="none" stroke-width="1" filter="url(#bl2)"/>
<rect x="11.00" y="273.80" width="20.30" height="8.80" rx="3.96" fill="#000" opacity="1.0" filter="url(#bl)"/>
<rect x="36.30" y="273.80" width="19.20" height="8.80" rx="3.96" fill="#000" opacity="1.0" filter="url(#bl)"/>
<rect x="59.60" y="273.80" width="19.20" height="8.80" rx="3.96" fill="#000" opacity="1.0" filter="url(#bl)"/>
<rect x="83.80" y="273.80" width="18.20" height="8.80" rx="3.96" fill="#000" opacity="1.0" filter="url(#bl)"/>
<rect x="107.70" y="273.80" width="19.00" height="8.80" rx="3.96" fill="#000" opacity="1.0" filter="url(#bl)"/>
<rect x="131.00" y="273.80" width="19.40" height="8.80" rx="3.96" fill="#000" opacity="1.0" filter="url(#bl)"/>
<rect x="155.90" y="273.80" width="17.80" height="8.80" rx="3.96" fill="#000" opacity="1.0" filter="url(#bl)"/>
<rect x="180.70" y="273.80" width="19.00" height="8.80" rx="3.96" fill="#000" opacity="1.0" filter="url(#bl)"/>
<rect x="264.50" y="208.30" width="176.80" height="10.70" fill="#ededed" stroke="none" stroke-width="1" filter="url(#bl2)"/>
<rect x="311.80" y="211.00" width="15.90" height="5.40" rx="2.43" fill="#000" opacity="1.0" filter="url(#bl)"/>
<rect x="329.80" y="210.80" width="20.70" height="5.80" rx="2.61" fill="#000" opacity="1.0" filter="url(#bl)"/>
<rect x="264.50" y="225.40" width="179.50" height="11.60" fill="#ededed" stroke="none" stroke-width="1" filter="url(#bl2)"/>
<rect x="264.20" y="227.20" width="20.10" height="7.60" rx="3.42" fill="#000" opacity="1.0" filter="url(#bl)"/>
<rect x="288.60" y="227.50" width="18.40" height="7.00" rx="3.15" fill="#000" opacity="1.0" filter="url(#bl)"/>
<rect x="309.70" y="227.10" width="19.70" height="7.80" rx="3.51" fill="#000" opacity="1.0" filter="url(#bl)"/>
<rect x="332.40" y="227.10" width="20.30" height="7.80" rx="3.51" fill="#000" opacity="1.0" filter="url(#bl)"/>
<rect x="354.70" y="227.10" width="20.30" height="7.80" rx="3.51" fill="#000" opacity="1.0" filter="url(#bl)"/>
<rect x="377.90" y="227.20" width="19.70" height="7.60" rx="3.42" fill="#000" opacity="1.0" filter="url(#bl)"/>
<rect x="400.30" y="227.30" width="20.60" height="7.40" rx="3.33" fill="#000" opacity="1.0" filter="url(#bl)"/>
<rect x="423.00" y="226.60" width="21.10" height="8.80" rx="3.96" fill="#000" opacity="1.0" filter="url(#bl)"/>
<rect x="264.50" y="240.00" width="179.50" height="11.00" fill="#ededed" stroke="none" stroke-width="1" filter="url(#bl2)"/>
<rect x="312.50" y="243.20" width="18.40" height="4.60" rx="2.07" fill="#000" opacity="1.0" filter="url(#bl)"/>
<rect x="335.00" y="243.00" width="18.00" height="5.00" rx="2.25" fill="#000" opacity="1.0" filter="url(#bl)"/>
<rect x="264.50" y="254.50" width="179.50" height="11.50" fill="#ededed" stroke="none" stroke-width="1" filter="url(#bl2)"/>
<rect x="265.20" y="256.00" width="19.10" height="7.60" rx="3.42" fill="#000" opacity="1.0" filter="url(#bl)"/>
<rect x="289.60" y="256.00" width="17.40" height="7.60" rx="3.42" fill="#000" opacity="1.0" filter="url(#bl)"/>
<rect x="310.70" y="256.00" width="18.70" height="7.60" rx="3.42" fill="#000" opacity="1.0" filter="url(#bl)"/>
<rect x="333.40" y="256.00" width="19.30" height="7.60" rx="3.42" fill="#000" opacity="1.0" filter="url(#bl)"/>
<rect x="355.70" y="256.00" width="19.30" height="7.60" rx="3.42" fill="#000" opacity="1.0" filter="url(#bl)"/>
<rect x="378.90" y="256.00" width="18.70" height="7.60" rx="3.42" fill="#000" opacity="1.0" filter="url(#bl)"/>
<rect x="401.30" y="256.00" width="19.60" height="7.60" rx="3.42" fill="#000" opacity="1.0" filter="url(#bl)"/>
<rect x="424.00" y="256.00" width="20.10" height="7.60" rx="3.42" fill="#000" opacity="1.0" filter="url(#bl)"/>
<rect x="264.50" y="271.00" width="179.50" height="12.00" fill="#ededed" stroke="none" stroke-width="1" filter="url(#bl2)"/>
<rect x="264.20" y="273.70" width="20.10" height="7.60" rx="3.42" fill="#000" opacity="1.0" filter="url(#bl)"/>
<rect x="288.60" y="273.70" width="18.40" height="7.60" rx="3.42" fill="#000" opacity="1.0" filter="url(#bl)"/>
<rect x="309.70" y="273.70" width="19.70" height="7.60" rx="3.42" fill="#000" opacity="1.0" filter="url(#bl)"/>
<rect x="332.40" y="273.70" width="20.30" height="7.60" rx="3.42" fill="#000" opacity="1.0" filter="url(#bl)"/>
<rect x="354.70" y="273.70" width="20.30" height="7.60" rx="3.42" fill="#000" opacity="1.0" filter="url(#bl)"/>
<rect x="377.90" y="273.70" width="19.70" height="7.60" rx="3.42" fill="#000" opacity="1.0" filter="url(#bl)"/>
<rect x="400.30" y="273.70" width="20.60" height="7.60" rx="3.42" fill="#000" opacity="1.0" filter="url(#bl)"/>
<rect x="423.00" y="273.70" width="21.10" height="7.60" rx="3.42" fill="#000" opacity="1.0" filter="url(#bl)"/>
<text x="202.70" y="219.96" font-size="7.7" text-anchor="start" font-weight="normal" fill="#000" stroke="#000" stroke-width="0.15" >P-P70S6K T389</text>
<text x="202.70" y="233.46" font-size="7.7" text-anchor="start" font-weight="normal" fill="#000" stroke="#000" stroke-width="0.15" >P70S6K</text>
<text x="202.70" y="247.86" font-size="7.7" text-anchor="start" font-weight="normal" fill="#000" stroke="#000" stroke-width="0.15" >PS6 S235/236</text>
<text x="202.70" y="265.16" font-size="7.7" text-anchor="start" font-weight="normal" fill="#000" stroke="#000" stroke-width="0.15" >S6</text>
<text x="202.70" y="280.56" font-size="7.7" text-anchor="start" font-weight="normal" fill="#000" stroke="#000" stroke-width="0.15" >β-actin</text>
<text x="447.70" y="219.96" font-size="7.7" text-anchor="start" font-weight="normal" fill="#000" stroke="#000" stroke-width="0.15" >P-P70S6K T389</text>
<text x="447.70" y="233.46" font-size="7.7" text-anchor="start" font-weight="normal" fill="#000" stroke="#000" stroke-width="0.15" >P70S6K</text>
<text x="447.70" y="247.46" font-size="7.7" text-anchor="start" font-weight="normal" fill="#000" stroke="#000" stroke-width="0.15" >PS6 S235/236</text>
<text x="447.70" y="264.96" font-size="7.7" text-anchor="start" font-weight="normal" fill="#000" stroke="#000" stroke-width="0.15" >S6</text>
<text x="447.70" y="280.56" font-size="7.7" text-anchor="start" font-weight="normal" fill="#000" stroke="#000" stroke-width="0.15" >β-actin</text>
<text x="7.16" y="314.16" font-size="13.5" font-weight="bold" stroke="#000" stroke-width="0.35">D</text>
<line x1="42.60" y1="324.60" x2="42.60" y2="410.50" stroke="#000" stroke-width="1.25" />
<line x1="39.20" y1="409.90" x2="42.60" y2="409.90" stroke="#000" stroke-width="1.25" />
<text x="37.00" y="412.76" font-size="8.3" text-anchor="end" font-weight="normal" fill="#000" stroke="#000" stroke-width="0.15" >5.0</text>
<line x1="39.20" y1="388.70" x2="42.60" y2="388.70" stroke="#000" stroke-width="1.25" />
<text x="37.00" y="391.56" font-size="8.3" text-anchor="end" font-weight="normal" fill="#000" stroke="#000" stroke-width="0.15" >5.5</text>
<line x1="39.20" y1="367.50" x2="42.60" y2="367.50" stroke="#000" stroke-width="1.25" />
<text x="37.00" y="370.36" font-size="8.3" text-anchor="end" font-weight="normal" fill="#000" stroke="#000" stroke-width="0.15" >6.0</text>
<line x1="39.20" y1="346.30" x2="42.60" y2="346.30" stroke="#000" stroke-width="1.25" />
<text x="37.00" y="349.16" font-size="8.3" text-anchor="end" font-weight="normal" fill="#000" stroke="#000" stroke-width="0.15" >6.5</text>
<line x1="39.20" y1="325.10" x2="42.60" y2="325.10" stroke="#000" stroke-width="1.25" />
<text x="37.00" y="327.96" font-size="8.3" text-anchor="end" font-weight="normal" fill="#000" stroke="#000" stroke-width="0.15" >7.0</text>
<line x1="42.00" y1="409.90" x2="113.80" y2="409.90" stroke="#000" stroke-width="1.25" />
<line x1="61.30" y1="409.90" x2="61.30" y2="412.90" stroke="#000" stroke-width="1.25" />
<line x1="99.50" y1="409.90" x2="99.50" y2="412.90" stroke="#000" stroke-width="1.25" />
<rect x="48.80" y="385.50" width="12.50" height="24.40" fill="#c0c0c0" stroke="none" stroke-width="1" />
<rect x="61.30" y="381.30" width="12.00" height="28.60" fill="#000" stroke="none" stroke-width="1" />
<rect x="87.00" y="344.30" width="12.50" height="65.60" fill="#c0c0c0" stroke="none" stroke-width="1" />
<rect x="99.50" y="362.00" width="12.30" height="47.90" fill="#000" stroke="none" stroke-width="1" />
<line x1="54.90" y1="386.50" x2="54.90" y2="383.80" stroke="#000" stroke-width="1.25" />
<line x1="51.40" y1="383.80" x2="58.40" y2="383.80" stroke="#000" stroke-width="1.25" />
<line x1="67.30" y1="382.30" x2="67.30" y2="379.50" stroke="#000" stroke-width="1.25" />
<line x1="63.80" y1="379.50" x2="70.80" y2="379.50" stroke="#000" stroke-width="1.25" />
<line x1="93.20" y1="345.30" x2="93.20" y2="338.00" stroke="#000" stroke-width="1.25" />
<line x1="89.70" y1="338.00" x2="96.70" y2="338.00" stroke="#000" stroke-width="1.25" />
<line x1="105.70" y1="363.00" x2="105.70" y2="359.50" stroke="#000" stroke-width="1.25" />
<line x1="102.20" y1="359.50" x2="109.20" y2="359.50" stroke="#000" stroke-width="1.25" />
<path d="M52.5,383.8 L52.5,331.3 L92.5,331.3 L92.5,338" stroke="#000" stroke-width="1.25" fill="none" />
<path d="M94.5,338 L94.5,331.3 L106.3,331.3 L106.3,359.5" stroke="#000" stroke-width="1.25" fill="none" />
<path d="M56.3,383.8 L56.3,370 L67.5,370 L67.5,379.5" stroke="#000" stroke-width="1.25" fill="none" />
<text x="72.50" y="329.50" font-size="8.5" text-anchor="middle" font-weight="normal" fill="#000" stroke="#000" stroke-width="0.15" >**</text>
<text x="100.00" y="329.50" font-size="8.5" text-anchor="middle" font-weight="normal" fill="#000" stroke="#000" stroke-width="0.15" >*</text>
<text x="62.00" y="366.53" font-size="8.4" text-anchor="middle" font-weight="normal" fill="#000" stroke="#000" stroke-width="0.15" >ns</text>
<text x="61.30" y="422.86" font-size="8.3" text-anchor="middle" font-weight="normal" fill="#000" stroke="#000" stroke-width="0.15" >4m</text>
<text x="99.50" y="422.86" font-size="8.3" text-anchor="middle" font-weight="normal" fill="#000" stroke="#000" stroke-width="0.15" >16m</text>
<text transform="translate(19.37,365.90) rotate(-90)" font-size="8.9" text-anchor="middle" font-weight="normal" fill="#000" stroke="#000" stroke-width="0.15" >MPV (fL)</text>
<rect x="116.80" y="325.50" width="10.10" height="4.70" fill="#c0c0c0" stroke="none" stroke-width="1" />
<rect x="116.80" y="336.60" width="10.10" height="4.80" fill="#000" stroke="none" stroke-width="1" />
<text x="129.60" y="330.42" font-size="7.6" text-anchor="start" font-weight="normal" fill="#000" stroke="#000" stroke-width="0.15" >CON</text>
<text x="129.60" y="341.52" font-size="7.6" text-anchor="start" font-weight="normal" fill="#000" stroke="#000" stroke-width="0.15" >NAC</text>
<text x="176.89" y="314.16" font-size="13.5" font-weight="bold" stroke="#000" stroke-width="0.35">E</text>
<rect x="176.60" y="330.40" width="76.10" height="58.20" fill="#fbfbfd" stroke="none" stroke-width="1" />
<path d="M223.8 378.3h0M194.8 347.8h0M200.9 344.2h0M241.8 386.4h0M201.9 348.0h0M206.3 358.5h0M178.3 335.3h0M201.0 338.9h0M192.3 358.1h0M211.0 342.3h0M245.2 379.6h0M214.5 354.5h0M179.6 345.9h0M251.2 383.7h0M187.4 369.7h0M184.5 376.0h0M191.2 376.3h0M232.4 345.7h0M183.1 365.0h0M181.1 387.2h0M196.1 374.0h0M245.6 380.9h0M178.1 345.9h0M185.0 361.9h0M193.7 368.4h0M249.5 372.5h0M203.4 331.4h0M225.7 375.1h0M250.1 376.2h0M230.4 358.1h0M231.3 350.0h0M206.2 350.0h0M236.1 354.0h0M200.1 364.8h0M189.6 368.0h0M217.1 344.6h0M198.0 367.4h0M193.9 364.0h0M231.3 379.7h0M195.1 339.5h0M180.4 354.0h0M181.5 353.5h0M231.0 381.4h0M179.7 371.2h0M194.4 369.7h0M190.6 360.3h0M227.3 344.3h0M228.0 339.1h0M204.7 345.9h0M233.5 348.7h0M201.4 341.6h0M214.8 352.5h0M216.0 350.9h0M223.8 348.6h0M239.3 360.4h0M186.3 377.7h0M213.1 350.2h0M187.8 374.0h0M193.1 354.7h0M241.1 374.9h0M213.7 344.3h0M187.8 342.1h0M242.1 385.4h0M220.1 332.5h0M227.6 375.9h0M228.4 359.7h0M182.5 386.3h0M179.2 350.6h0M198.3 356.3h0M225.4 334.9h0M195.4 349.7h0M251.7 361.1h0M197.4 376.3h0M182.8 353.3h0M181.2 343.4h0M228.1 354.3h0M224.9 332.7h0M222.1 380.0h0M221.5 346.4h0M244.2 364.7h0M234.1 372.1h0M188.4 340.4h0M215.2 353.2h0M191.7 356.5h0M248.4 356.3h0M210.6 365.4h0M202.4 339.3h0M223.4 349.3h0M242.1 384.2h0M196.4 374.2h0M184.1 362.7h0M241.6 385.7h0M206.2 351.5h0M180.7 358.9h0M221.7 372.7h0M210.5 361.0h0M242.9 375.2h0M239.7 378.6h0M192.3 349.1h0M238.5 364.6h0M223.1 351.3h0M206.8 346.7h0M184.2 360.1h0M205.5 350.8h0M184.1 364.1h0M204.7 342.0h0M197.6 336.0h0M245.6 383.5h0M231.5 384.5h0M219.8 334.9h0M233.7 358.4h0M241.0 357.1h0M187.6 360.0h0M247.7 364.7h0M200.7 337.2h0M223.7 353.0h0M248.2 373.2h0M231.7 344.8h0M181.5 349.9h0M233.3 355.5h0M194.0 366.5h0M234.9 349.7h0M244.8 361.1h0M227.0 339.2h0M220.7 339.6h0M190.6 383.5h0M178.1 372.2h0M216.2 347.6h0M241.6 359.9h0M178.1 341.0h0M244.2 380.9h0M245.6 347.6h0M245.6 361.2h0M219.6 340.9h0M223.3 353.8h0M193.7 365.4h0M218.6 344.4h0M242.6 368.3h0M208.3 350.1h0M225.6 354.9h0M195.3 375.8h0M196.2 372.0h0M228.0 374.2h0M190.4 351.0h0M249.9 374.5h0M205.0 351.9h0M230.5 350.0h0M249.3 372.2h0M183.7 371.5h0M237.4 378.2h0M210.3 336.0h0M224.3 338.3h0M182.5 385.8h0M181.7 347.6h0M234.8 353.9h0" stroke="#34448c" stroke-width="1.6" stroke-linecap="round" opacity="0.9"/>
<path d="M191.2 360.2h0M190.6 362.9h0M226.1 366.1h0M183.0 335.0h0M207.6 345.4h0M230.4 385.0h0M200.4 376.0h0M225.1 352.1h0M233.7 361.5h0M183.9 384.0h0M236.9 383.5h0M251.8 381.4h0M191.5 337.7h0M232.5 354.1h0M247.2 372.1h0M186.2 379.9h0M233.1 353.3h0M237.9 343.7h0M188.1 373.4h0M226.6 374.9h0M188.2 382.6h0M192.9 362.0h0M221.6 336.3h0M231.6 365.9h0M249.9 358.1h0M239.8 351.2h0M248.7 375.3h0M250.2 381.9h0M230.7 346.4h0M231.6 375.2h0M191.4 360.3h0M239.6 361.5h0M205.8 382.7h0M244.8 378.3h0M177.7 350.2h0M223.3 378.0h0M228.1 341.2h0M240.0 374.3h0M212.3 362.4h0M233.5 382.0h0M182.3 384.5h0M241.8 378.4h0M186.9 370.5h0M185.2 368.4h0M184.0 360.2h0M195.8 354.6h0M221.3 340.8h0M226.4 354.9h0M186.1 348.8h0M233.9 350.7h0M198.7 369.7h0M239.3 349.8h0M237.2 345.6h0M226.9 339.2h0M197.7 339.8h0M214.6 352.7h0M249.0 383.9h0M228.6 345.4h0M240.1 359.7h0M199.7 369.0h0M194.2 371.4h0M241.2 361.3h0M215.3 354.4h0M229.5 350.3h0M236.1 381.4h0M220.8 341.0h0M245.8 369.4h0M188.5 364.7h0M194.2 355.9h0M198.8 342.0h0M188.1 354.0h0M224.9 334.9h0M179.3 344.2h0M236.5 375.5h0M183.6 373.6h0M180.0 355.0h0M192.9 338.0h0M245.3 336.3h0M231.3 376.0h0M245.0 378.1h0M230.7 354.1h0M240.0 387.2h0M232.1 332.5h0M223.6 360.3h0M238.5 379.3h0M203.7 335.9h0M194.2 351.5h0M243.6 368.7h0M220.8 345.2h0M189.8 380.6h0M190.7 375.9h0M232.1 371.9h0M223.6 348.1h0M214.2 356.3h0M188.1 383.0h0M231.1 354.7h0M180.8 374.6h0M191.2 360.7h0M190.2 382.3h0M178.2 346.9h0M244.6 382.3h0M228.3 341.3h0M189.0 363.9h0M229.2 352.3h0M235.9 347.5h0M191.0 360.0h0M201.0 382.4h0M246.4 369.0h0M211.9 348.0h0M224.4 351.5h0M216.4 348.4h0M178.0 386.7h0M220.3 343.4h0M209.2 341.4h0M245.6 350.5h0M233.5 347.8h0M228.6 380.9h0M230.8 337.8h0M210.1 343.7h0M203.9 335.5h0M183.3 361.1h0M245.5 357.7h0M250.8 382.9h0M230.2 358.5h0M178.3 349.3h0M247.6 373.5h0M240.8 374.0h0M180.1 340.4h0M244.9 378.9h0M215.0 345.4h0M233.3 362.6h0" stroke="#3e4e98" stroke-width="1.6" stroke-linecap="round" opacity="0.9"/>
<path d="M219.4 337.3h0M186.1 355.0h0M193.0 367.2h0M245.7 342.7h0M208.1 345.3h0M187.9 333.2h0M229.8 376.1h0M226.6 356.2h0M230.8 378.9h0M207.6 341.9h0M180.2 350.6h0M182.2 376.5h0M183.8 343.7h0M248.5 380.4h0M180.1 340.0h0M180.4 342.5h0M221.0 350.5h0M187.3 349.9h0M234.1 367.9h0M231.4 370.8h0M250.5 358.6h0M209.3 352.1h0M219.3 341.2h0M230.5 358.9h0M234.4 353.5h0M243.4 357.9h0M237.0 348.9h0M221.7 343.9h0M241.0 358.6h0M222.6 340.1h0M226.6 365.6h0M208.5 350.1h0M190.0 373.4h0M222.2 338.1h0M228.4 351.8h0M216.1 346.1h0M177.4 345.0h0M250.2 358.0h0M241.4 370.4h0M225.8 348.5h0M180.8 365.1h0M190.8 362.7h0M201.3 358.6h0M229.2 377.6h0M231.3 382.5h0M186.4 382.7h0M225.2 338.3h0M251.3 354.3h0M190.8 333.9h0M201.3 373.9h0M239.2 376.3h0M182.2 380.4h0M228.9 372.9h0M234.7 342.5h0M220.6 347.3h0M195.6 354.5h0M209.7 340.0h0M247.8 381.9h0M206.8 348.1h0M194.0 336.8h0M221.6 337.1h0M181.0 366.6h0M189.9 387.6h0M187.2 358.6h0M189.1 382.9h0M234.5 369.2h0M239.5 354.3h0M226.1 345.9h0M231.4 369.5h0M194.9 364.2h0M198.6 336.7h0M197.3 374.9h0M209.8 343.2h0M218.9 356.1h0M239.1 352.7h0M213.8 370.6h0M194.0 366.3h0M245.6 369.5h0M222.4 350.9h0M178.9 345.3h0M243.9 343.9h0M246.3 365.4h0M179.6 340.5h0M226.2 333.2h0M186.5 345.5h0M226.9 340.3h0M195.3 334.2h0M232.1 363.3h0M225.7 352.4h0M240.5 376.5h0M200.9 336.9h0M213.1 343.1h0M190.7 366.1h0M198.2 375.3h0M184.3 381.2h0M244.1 369.0h0M179.6 349.1h0M223.5 350.2h0M205.6 357.8h0M192.3 376.7h0M182.7 345.1h0M184.3 366.4h0M197.8 369.3h0M184.8 337.9h0M229.6 373.2h0M227.3 371.2h0M223.0 351.8h0M216.9 344.0h0M241.1 365.8h0M211.9 352.9h0M243.6 383.4h0M186.8 360.4h0M178.5 347.2h0M233.1 347.0h0M216.6 346.8h0M249.8 379.6h0M180.9 367.9h0M192.3 359.0h0M216.5 351.4h0M230.6 359.0h0M248.6 369.6h0M229.8 377.7h0M226.5 347.4h0M227.3 384.4h0M190.6 348.4h0M217.6 340.0h0M206.5 349.5h0M228.5 334.4h0M186.6 370.1h0M197.4 335.5h0M212.7 367.8h0M217.5 343.2h0M237.8 383.6h0M220.3 333.5h0M186.9 380.7h0M181.8 365.6h0M231.1 363.3h0M188.9 336.1h0M186.4 355.9h0M233.1 367.9h0M183.7 353.3h0M224.3 350.6h0M223.8 353.3h0M208.1 344.4h0M182.3 378.7h0M227.4 345.9h0M228.1 342.1h0" stroke="#5868aa" stroke-width="1.6" stroke-linecap="round" opacity="0.9"/>
<path d="M191.6 344.9h0M197.5 336.1h0M250.8 374.8h0M183.7 358.0h0M213.2 344.2h0M185.8 357.9h0M244.5 360.5h0M240.2 362.9h0M182.3 361.7h0M197.5 358.0h0M245.3 373.3h0M214.5 343.3h0M207.1 348.9h0M228.4 334.2h0M222.4 337.7h0M186.7 356.3h0M187.6 347.6h0M223.9 374.7h0M237.2 348.4h0M204.4 331.8h0M207.2 343.5h0M226.4 344.6h0M244.8 356.7h0M230.8 336.7h0M247.9 385.8h0M239.2 368.2h0M185.6 348.7h0M230.2 341.4h0M187.7 374.0h0M192.5 386.1h0M178.7 359.3h0M187.9 353.4h0M199.4 337.9h0M243.3 383.5h0M228.0 380.0h0M239.9 356.7h0M196.7 376.5h0M181.9 352.9h0M195.3 336.5h0M181.5 359.2h0M196.9 369.0h0M208.4 346.8h0M228.3 346.6h0M228.0 333.5h0M240.2 378.1h0M185.4 384.0h0M197.5 363.4h0M234.6 387.0h0M205.2 341.5h0M181.5 366.1h0M232.8 355.9h0M225.4 335.4h0M223.2 333.0h0M194.2 358.2h0M222.2 356.6h0M229.6 387.7h0M188.9 386.1h0M225.3 379.2h0M236.1 367.6h0M189.0 346.7h0M203.6 340.2h0M236.5 384.6h0M214.6 342.4h0M241.4 384.1h0M227.7 356.9h0M190.5 339.7h0M243.1 372.3h0M238.7 385.6h0M236.9 359.5h0M177.6 346.2h0M223.5 337.9h0M236.2 383.1h0M211.4 355.7h0M195.7 363.5h0M210.8 351.9h0M248.2 368.3h0M246.1 376.1h0M179.2 349.5h0M199.7 332.0h0M238.2 351.7h0M206.6 367.9h0M196.2 371.7h0M224.2 352.9h0M219.3 344.9h0M239.1 382.8h0M225.3 335.4h0M232.8 374.2h0M186.2 336.6h0M209.3 333.6h0M240.5 361.6h0M237.5 353.8h0M246.3 361.7h0M227.6 350.2h0M184.6 353.1h0M189.7 363.1h0M185.8 367.1h0M221.2 370.9h0M213.1 350.3h0M195.6 344.0h0M197.4 368.0h0M228.7 347.8h0M231.6 345.0h0M229.1 343.9h0M187.6 348.4h0M193.5 350.7h0M187.6 378.0h0M215.6 357.8h0M218.6 344.6h0M228.4 376.2h0M241.5 362.2h0M197.9 332.9h0M227.6 344.8h0M188.4 372.6h0M234.6 377.0h0M232.8 371.3h0M230.0 378.8h0M178.0 373.9h0M248.7 379.0h0M232.5 352.4h0M210.7 357.7h0M219.0 384.5h0M225.6 339.5h0M249.4 366.5h0M232.6 351.1h0M209.2 347.7h0M214.4 349.3h0M204.9 334.6h0M235.1 372.9h0M247.2 379.6h0M183.1 361.1h0M224.5 381.2h0M242.6 379.2h0M245.7 379.5h0M234.2 375.7h0M195.3 373.2h0M226.5 335.2h0M192.3 380.4h0M194.9 340.6h0M205.1 335.9h0M215.8 354.4h0M214.3 345.4h0" stroke="#8090c8" stroke-width="1.6" stroke-linecap="round" opacity="0.9"/>
<path d="M195.2 371.1h0M244.2 352.0h0M228.6 383.0h0M239.3 363.0h0M240.8 386.0h0M185.2 372.6h0M217.2 343.6h0M224.2 350.9h0M224.3 354.1h0M249.7 379.6h0M181.8 384.7h0M185.9 381.7h0M244.6 370.1h0M206.9 353.1h0M204.8 353.3h0M243.6 385.4h0M183.6 373.6h0M191.5 348.6h0M238.9 365.8h0M244.7 362.2h0M192.1 335.9h0M189.2 354.5h0M241.1 354.4h0M185.9 384.3h0M190.2 356.1h0M188.6 382.0h0M234.4 359.4h0M229.8 385.4h0M232.9 333.4h0M181.1 354.9h0M237.3 358.4h0M237.3 358.3h0M246.4 386.7h0M237.5 353.6h0M214.8 354.0h0M241.2 366.8h0M197.3 368.7h0M206.3 347.0h0M189.0 335.3h0M232.1 371.5h0M223.5 354.1h0M221.3 349.0h0M239.6 385.3h0M203.2 340.5h0M237.2 369.9h0M222.8 338.0h0M197.1 345.3h0M243.7 369.0h0M189.3 379.9h0M232.7 348.3h0M235.9 360.7h0M228.0 336.1h0M236.7 387.6h0M188.5 341.7h0M181.0 352.1h0M214.9 340.3h0M185.2 358.6h0M246.5 382.8h0M242.9 356.9h0M183.0 344.0h0M183.7 364.4h0M192.0 382.9h0M188.2 365.5h0M240.4 370.9h0M198.4 359.8h0M232.9 374.6h0M201.4 357.7h0M217.2 350.2h0M227.6 343.5h0M182.9 360.8h0M186.4 354.7h0M235.3 368.3h0M191.5 379.3h0M177.5 349.8h0M226.2 385.5h0M215.4 334.5h0M190.2 360.5h0M222.5 338.5h0M186.6 345.4h0M250.4 361.3h0M235.3 369.1h0M185.4 339.0h0M229.8 380.6h0M249.8 370.7h0M201.2 336.2h0M238.4 379.8h0M222.0 338.7h0M220.7 338.4h0M238.7 357.3h0M178.2 349.6h0M182.0 340.4h0M189.3 364.1h0M217.1 337.0h0M215.3 350.7h0M195.4 357.8h0M243.6 363.5h0M218.6 340.2h0M220.8 349.5h0M249.7 358.4h0M190.6 371.5h0M222.0 346.6h0M185.1 333.2h0M221.3 349.8h0M235.5 337.1h0M228.3 355.3h0M226.6 345.2h0M250.7 365.3h0M187.5 365.1h0M188.4 368.9h0M227.6 383.4h0M187.8 359.0h0M192.9 358.9h0M234.7 349.9h0M215.1 352.5h0M248.3 374.3h0M195.4 352.7h0M185.1 383.4h0M192.1 357.1h0M246.8 353.3h0M180.1 344.7h0M187.6 356.0h0M187.3 341.8h0M191.1 349.7h0M230.6 372.9h0M224.8 344.1h0M227.8 345.1h0M185.0 349.2h0M228.9 357.7h0M178.8 370.9h0M192.8 360.1h0M225.5 332.3h0M214.1 362.3h0M211.9 374.1h0" stroke="#6676b6" stroke-width="1.6" stroke-linecap="round" opacity="0.9"/>
<path d="M184.4 348.4h0M238.3 345.3h0M229.6 385.7h0M195.1 339.2h0M236.8 384.6h0M238.9 366.1h0M223.0 379.7h0M209.4 365.2h0M234.6 374.5h0M223.9 344.3h0M226.2 362.9h0M233.5 341.9h0M226.7 335.8h0M236.1 336.0h0M185.3 349.0h0M227.5 359.1h0M182.8 366.2h0M183.1 348.5h0M182.4 335.4h0M227.1 345.7h0M185.0 366.4h0M187.8 342.8h0M247.1 363.3h0M183.1 333.0h0M242.9 387.8h0M242.2 371.6h0M192.0 341.4h0M194.9 356.1h0M245.0 363.4h0M190.2 345.6h0M212.2 348.7h0M248.1 366.3h0M187.5 371.2h0M248.6 380.4h0M192.4 374.7h0M234.5 346.2h0M214.3 348.6h0M194.3 353.2h0M210.9 348.9h0M201.4 336.5h0M188.4 367.1h0M251.4 373.0h0M184.0 351.8h0M219.4 335.0h0M233.5 364.0h0M230.4 371.0h0M229.4 344.4h0M228.0 359.5h0M184.1 376.5h0M226.0 361.9h0M194.7 385.0h0M187.4 348.2h0M193.9 383.2h0M205.7 347.4h0M194.0 335.5h0M212.0 342.0h0M181.3 340.4h0M226.8 353.9h0M219.8 334.4h0M179.1 360.2h0M200.9 346.6h0M224.9 350.2h0M223.7 336.2h0M250.1 375.7h0M233.0 364.0h0M187.6 375.4h0M194.4 371.9h0M218.7 333.7h0M243.5 373.9h0M239.7 369.9h0M178.4 339.6h0M184.9 367.2h0M194.1 340.6h0M201.2 337.7h0M180.7 363.1h0M229.2 352.8h0M195.4 367.8h0M236.4 354.4h0M222.7 372.7h0M191.1 372.6h0M239.7 384.5h0M213.4 338.7h0M199.1 355.2h0M242.3 376.8h0M187.3 348.8h0M192.2 382.9h0M178.8 336.3h0M218.2 356.4h0M225.0 335.0h0M182.3 351.0h0M187.2 379.0h0M214.4 356.5h0M227.9 337.8h0M186.4 384.1h0M197.6 366.1h0M181.0 342.5h0M190.0 362.7h0M228.2 378.0h0M183.3 360.8h0M223.0 347.9h0M218.1 350.2h0M223.7 356.4h0M214.1 353.8h0M178.7 349.3h0M187.6 362.7h0M204.7 342.5h0M183.0 387.6h0M182.5 348.1h0M212.2 342.8h0M200.0 345.0h0M184.4 376.2h0M230.6 379.0h0M222.2 358.2h0M184.6 382.3h0M200.4 335.1h0M190.5 376.4h0M245.1 363.2h0M219.9 346.1h0M187.0 341.2h0M184.5 366.2h0M204.0 349.1h0M221.8 339.3h0M180.1 367.7h0M217.8 338.7h0M245.1 372.3h0M214.7 348.8h0M242.4 355.8h0M236.4 386.5h0M245.2 359.9h0M181.3 342.5h0M241.0 378.9h0M197.4 360.6h0M220.7 345.7h0M185.6 347.0h0M223.0 333.4h0M232.6 368.7h0M237.0 356.1h0M219.1 349.9h0M180.2 343.9h0M232.5 377.5h0M249.3 370.8h0M232.2 361.5h0M223.4 359.9h0" stroke="#a0aad6" stroke-width="1.6" stroke-linecap="round" opacity="0.9"/>
<path d="M211.8,338.8 L211.4,340.5 L209.8,341.6 L207.8,341.6 L206.7,340.2 L206.3,338.8 L206.2,337.1 L207.8,336.0 L209.8,336.1 L210.9,337.4Z" fill="#8e6c4a" stroke="#4a2e14" stroke-width="1.4" stroke-linejoin="round" opacity="0.9" filter="url(#bl3)"/>
<path d="M226.5,337.2 L226.1,338.5 L224.9,339.1 L223.5,339.2 L222.5,338.3 L221.6,337.2 L222.2,335.9 L223.5,335.3 L225.0,335.1 L226.2,335.9Z" fill="#8e6c4a" stroke="#4a2e14" stroke-width="1.4" stroke-linejoin="round" opacity="0.9" filter="url(#bl3)"/>
<path d="M242.3,346.5 L241.5,347.7 L240.5,348.9 L238.9,348.5 L237.7,347.7 L236.7,346.5 L237.3,345.0 L238.7,344.1 L240.5,344.1 L241.6,345.2Z" fill="#8e6c4a" stroke="#4a2e14" stroke-width="1.4" stroke-linejoin="round" opacity="0.9" filter="url(#bl3)"/>
<path d="M202.8,359.5 L202.5,360.9 L201.0,361.3 L199.7,361.4 L198.4,360.8 L198.0,359.5 L198.4,358.2 L199.6,357.2 L201.0,357.7 L202.3,358.3Z" fill="#8e6c4a" stroke="#4a2e14" stroke-width="1.4" stroke-linejoin="round" opacity="0.9" filter="url(#bl3)"/>
<path d="M220.7,371.8 L219.8,373.5 L218.3,374.5 L216.3,374.5 L215.1,373.2 L214.0,371.8 L214.6,370.1 L216.3,369.1 L218.4,368.8 L220.3,369.8Z" fill="#8e6c4a" stroke="#4a2e14" stroke-width="1.4" stroke-linejoin="round" opacity="0.9" filter="url(#bl3)"/>
<path d="M218.5,386.2 L217.1,387.4 L216.1,388.3 L214.4,388.7 L212.9,387.8 L212.6,386.2 L213.3,384.9 L214.3,383.6 L216.2,383.8 L217.8,384.6Z" fill="#8e6c4a" stroke="#4a2e14" stroke-width="1.4" stroke-linejoin="round" opacity="0.9" filter="url(#bl3)"/>
<path d="M248.3,343.4 L247.7,344.2 L247.0,344.7 L245.9,345.2 L245.2,344.2 L245.0,343.4 L245.1,342.5 L246.0,342.1 L247.0,341.9 L247.7,342.6Z" fill="#8e6c4a" stroke="#4a2e14" stroke-width="1.4" stroke-linejoin="round" opacity="0.9" filter="url(#bl3)"/>
<line x1="183.00" y1="345.00" x2="195.00" y2="345.00" stroke="#111" stroke-width="1.0" />
<line x1="196.00" y1="350.00" x2="203.00" y2="350.00" stroke="#111" stroke-width="1.0" />
<line x1="197.00" y1="362.00" x2="205.00" y2="362.00" stroke="#111" stroke-width="1.0" />
<line x1="212.00" y1="339.00" x2="222.00" y2="339.00" stroke="#111" stroke-width="1.0" />
<line x1="203.00" y1="373.00" x2="214.00" y2="373.00" stroke="#111" stroke-width="1.0" />
<line x1="230.00" y1="346.00" x2="236.00" y2="346.00" stroke="#111" stroke-width="1.0" />
<line x1="200.00" y1="386.00" x2="212.00" y2="386.00" stroke="#111" stroke-width="1.0" />
<line x1="238.00" y1="385.80" x2="248.00" y2="385.80" stroke="#000" stroke-width="1.6" />
<rect x="258.40" y="331.20" width="76.50" height="58.30" fill="#e6e8f2" stroke="none" stroke-width="1" />
<path d="M310.2 377.2h0M314.2 361.5h0M283.4 370.9h0M308.6 385.0h0M274.9 367.3h0M322.3 346.2h0M298.3 356.9h0M315.3 380.7h0M317.1 363.0h0M286.5 360.3h0M277.3 336.9h0M300.5 361.0h0M333.1 351.3h0M327.8 333.4h0M270.5 357.2h0M271.6 355.9h0M259.6 368.2h0M299.1 384.0h0M275.8 347.1h0M320.3 353.2h0M306.1 384.1h0M310.3 383.4h0M281.6 338.1h0M283.0 374.2h0M326.7 374.3h0M277.4 334.9h0M331.5 375.6h0M334.0 350.9h0M316.6 340.6h0M279.1 358.4h0M282.1 357.0h0M293.8 355.8h0M313.3 339.9h0M270.7 365.5h0M323.8 345.1h0M277.1 354.3h0M323.6 375.7h0M330.2 359.6h0M266.1 388.5h0M274.4 350.6h0M265.4 363.3h0M302.7 381.0h0M261.6 373.3h0M325.5 361.0h0M306.9 339.0h0M311.0 351.3h0M262.3 363.9h0M326.4 338.2h0M267.9 347.8h0M297.9 333.6h0M306.5 340.4h0M328.2 369.0h0M280.8 386.7h0M321.1 361.8h0M275.0 351.8h0M271.1 354.7h0M279.3 356.3h0M263.4 361.6h0M316.2 335.2h0M281.1 335.0h0M275.5 361.4h0M278.3 374.1h0M322.3 353.8h0M295.8 379.3h0M327.5 352.2h0M333.1 350.2h0M332.8 368.0h0M286.6 334.0h0M326.8 372.4h0M333.0 333.3h0M280.5 364.2h0M290.0 333.6h0M319.3 381.2h0M305.9 381.2h0M300.9 335.2h0M324.8 337.2h0M279.0 371.9h0M312.6 360.2h0M321.7 333.1h0M321.2 374.9h0M276.6 373.9h0M321.6 342.6h0M295.3 371.9h0M308.0 371.2h0M318.7 361.7h0M290.0 388.7h0M329.2 355.8h0M317.8 355.8h0M300.1 340.3h0M331.3 333.3h0M307.8 362.1h0M328.0 356.4h0M297.5 356.9h0M319.8 376.6h0M293.4 378.8h0M292.8 367.4h0M275.2 369.2h0M316.0 381.4h0M299.2 353.9h0M278.6 367.0h0M321.0 369.5h0M286.8 339.3h0M294.3 385.3h0M262.2 375.1h0M281.9 369.0h0M305.6 373.5h0M286.3 341.7h0M260.3 388.3h0M331.2 350.8h0M292.0 377.8h0M289.9 377.2h0M297.8 352.4h0M269.5 387.2h0M317.6 338.4h0M318.2 354.8h0M328.0 368.0h0M281.0 334.0h0M333.4 360.0h0M276.1 382.5h0M299.9 371.8h0M285.5 375.8h0M294.5 346.5h0M304.1 353.6h0M274.0 369.6h0M280.0 381.4h0M310.4 355.5h0M307.8 365.0h0M297.1 373.7h0M311.2 345.3h0M309.2 360.7h0M284.0 368.6h0M260.6 351.1h0M316.9 338.2h0M284.0 372.5h0M308.8 364.2h0M325.3 347.9h0M262.9 351.7h0M326.8 351.4h0M293.0 354.7h0M278.4 363.1h0M276.2 369.6h0M297.5 370.5h0M305.0 364.9h0M291.6 356.6h0M323.2 338.8h0M281.1 338.8h0M321.0 333.6h0M277.3 336.9h0M278.3 364.1h0M295.2 354.5h0M287.0 358.4h0M267.5 383.2h0M279.6 363.1h0M286.6 345.2h0M318.1 356.8h0M319.2 335.7h0M281.9 373.2h0M281.0 334.2h0M295.1 336.6h0M294.3 342.2h0M318.6 360.3h0M324.0 361.5h0M322.4 363.9h0M261.5 339.5h0M271.8 362.2h0M314.6 372.7h0M324.8 353.7h0M305.2 341.1h0M308.8 386.6h0M323.0 336.0h0M273.6 340.1h0M331.8 336.4h0M274.1 375.3h0M267.2 388.6h0M276.7 338.8h0M309.3 369.1h0M312.5 382.0h0M277.7 359.9h0M282.6 353.9h0M298.9 350.2h0M322.9 376.7h0M304.8 367.8h0M275.2 378.4h0M312.7 370.5h0M316.9 337.3h0M328.4 371.7h0M264.6 374.1h0M315.6 344.8h0M301.8 378.4h0M281.4 383.4h0M303.6 362.6h0M286.5 334.1h0M282.6 333.0h0M281.8 341.2h0M283.7 341.7h0M283.2 343.9h0M295.0 336.6h0M296.7 387.1h0M314.5 336.6h0M320.4 366.0h0M270.9 366.2h0M313.3 347.6h0M287.2 353.3h0M293.5 359.8h0M288.5 342.7h0M301.9 373.9h0M289.2 367.7h0M281.6 343.4h0M274.8 345.5h0M302.8 338.6h0M310.4 366.5h0M326.8 369.7h0M267.9 340.4h0M265.9 332.1h0M280.6 378.1h0M299.0 366.5h0M279.1 353.2h0M273.2 383.0h0M308.1 376.9h0M272.8 349.4h0M291.9 386.4h0M295.2 371.9h0M326.6 367.3h0M262.1 367.1h0M277.1 361.4h0M330.0 360.4h0M293.7 346.9h0M332.0 359.8h0M333.0 388.0h0M279.5 381.5h0M277.8 339.4h0M322.4 365.6h0M294.0 351.0h0M273.2 333.8h0M306.7 355.3h0M286.2 360.3h0M286.2 383.1h0M331.9 376.1h0M298.3 386.2h0M329.3 381.2h0M276.6 357.2h0M303.3 351.3h0M293.5 336.9h0M290.8 341.3h0M325.6 377.0h0M306.9 375.0h0M298.0 355.1h0M296.2 336.5h0M265.3 357.1h0M274.1 367.7h0M313.6 366.4h0M274.2 363.2h0M268.1 351.2h0M308.4 374.7h0M282.2 336.3h0M328.7 381.5h0M270.4 348.1h0M275.3 335.8h0M272.6 377.7h0M324.5 345.2h0M332.0 373.6h0M323.6 387.3h0M298.2 379.6h0M282.7 352.8h0M271.5 368.3h0M282.7 384.8h0M261.7 378.3h0M265.7 371.2h0M325.8 346.1h0M309.9 368.5h0M323.8 368.0h0M328.3 358.2h0M267.2 355.5h0M272.7 368.9h0M310.2 373.7h0M310.8 338.6h0M280.1 357.7h0M283.1 335.6h0M262.6 361.4h0M278.9 347.7h0M328.8 388.0h0M292.3 376.4h0M270.7 386.4h0M276.3 384.8h0M324.9 373.3h0M304.6 349.3h0M295.7 368.4h0M264.1 380.6h0M301.6 339.3h0M283.1 337.6h0M325.4 381.0h0M326.3 384.3h0M287.9 345.8h0M274.7 384.3h0M319.0 348.3h0M330.0 339.2h0M330.0 364.2h0M266.0 366.0h0M278.7 358.7h0M317.2 362.7h0M326.3 354.6h0M301.9 373.1h0M292.9 342.6h0M316.2 359.1h0M303.3 337.2h0M273.2 358.4h0M317.8 378.7h0M323.7 384.0h0M294.3 387.5h0M294.3 343.9h0M259.9 346.1h0M283.3 368.7h0M295.4 353.6h0M269.5 363.1h0M302.2 355.8h0M283.5 335.7h0M300.5 344.3h0M322.2 337.0h0M281.4 362.6h0M267.4 359.2h0M311.1 348.8h0M286.9 351.9h0M320.6 342.7h0M281.5 380.8h0M259.6 345.4h0M265.5 338.7h0M317.5 387.7h0M280.5 356.5h0M278.5 358.4h0M327.0 339.3h0M316.1 364.0h0M333.3 385.7h0M317.7 371.9h0M331.5 384.0h0M303.3 338.9h0M317.8 339.4h0M316.6 384.2h0M286.4 368.0h0M280.0 336.5h0M313.3 349.1h0M334.1 339.0h0M268.7 341.6h0M302.4 384.9h0M293.2 336.0h0M303.3 343.2h0M289.1 386.0h0M315.1 388.4h0M260.1 365.7h0M273.5 368.6h0M281.9 356.6h0M322.8 339.2h0M288.5 353.0h0M264.5 337.2h0M259.5 370.1h0M308.4 369.1h0M272.6 378.3h0M269.4 350.0h0M313.3 333.6h0M271.4 361.7h0M320.6 338.6h0M315.5 359.0h0M333.9 337.7h0M272.0 339.1h0M312.7 339.5h0M291.1 345.0h0M285.9 377.7h0M262.3 362.1h0M271.9 342.2h0M281.5 371.4h0M329.5 367.5h0M326.2 373.4h0" stroke="#3e4e94" stroke-width="1.45" stroke-linecap="round" opacity="0.9"/>
<path d="M330.1 338.4h0M316.9 380.7h0M261.3 379.9h0M331.3 353.3h0M304.1 369.9h0M327.1 338.2h0M267.8 377.8h0M269.2 386.8h0M300.3 382.9h0M277.1 362.9h0M308.7 359.2h0M296.2 377.8h0M297.9 356.6h0M323.6 346.8h0M297.4 377.0h0M331.3 345.4h0M284.5 333.2h0M332.8 367.0h0M285.6 359.1h0M298.8 360.2h0M283.0 341.7h0M260.8 384.6h0M299.3 362.7h0M280.2 363.6h0M310.1 377.8h0M277.2 360.4h0M297.7 368.7h0M327.6 387.2h0M279.9 355.1h0M283.7 375.7h0M323.8 374.5h0M297.8 370.0h0M283.3 351.3h0M303.3 333.9h0M292.6 347.4h0M280.7 364.4h0M316.2 369.5h0M297.0 347.9h0M259.8 337.6h0M263.1 377.7h0M273.1 372.4h0M333.4 367.1h0M320.1 383.8h0M329.8 368.0h0M329.7 338.2h0M278.4 337.6h0M266.5 368.4h0M288.9 333.9h0M260.3 373.9h0M329.1 332.1h0M296.8 385.9h0M333.3 334.4h0M325.0 374.8h0M309.3 360.0h0M278.4 335.7h0M276.6 335.7h0M304.8 379.4h0M312.8 365.3h0M325.6 358.1h0M294.7 381.0h0M303.9 373.3h0M333.6 342.1h0M259.5 365.8h0M269.4 334.6h0M301.9 375.7h0M271.9 343.2h0M285.4 351.0h0M271.6 357.6h0M301.0 345.0h0M278.5 341.0h0M262.5 370.7h0M326.1 350.4h0M288.6 382.2h0M330.4 374.7h0M278.6 375.2h0M327.6 380.1h0M301.4 362.0h0M316.8 383.7h0M299.6 370.7h0M321.2 356.1h0M276.3 377.9h0M298.9 368.0h0M299.7 345.9h0M329.7 353.2h0M315.0 346.0h0M326.2 354.5h0M327.3 343.3h0M280.4 383.3h0M286.8 345.5h0M317.6 344.5h0M286.9 370.8h0M302.6 343.5h0M333.0 370.4h0M261.5 339.8h0M273.8 339.4h0M284.3 387.7h0M323.3 356.8h0M275.1 343.9h0M279.8 385.1h0M315.8 346.3h0M302.3 362.2h0M269.9 368.9h0M282.7 360.2h0M259.4 384.0h0M300.6 373.9h0M266.9 368.6h0M316.5 342.3h0M287.0 347.8h0M315.9 334.8h0M331.5 368.0h0M305.9 363.2h0M277.8 359.1h0M287.6 380.8h0M297.7 342.5h0M288.7 382.1h0M325.4 333.6h0M270.8 341.1h0M277.9 340.1h0M317.7 375.7h0M328.9 353.0h0M301.2 332.2h0M276.7 359.9h0M265.8 386.4h0M323.1 366.3h0M286.4 378.1h0M332.6 363.7h0M305.6 361.0h0M306.5 387.4h0M331.2 376.7h0M277.8 381.3h0M274.7 358.4h0M330.7 379.2h0M322.1 387.9h0M262.5 371.9h0M295.3 372.4h0M284.6 375.7h0M331.5 364.5h0M274.0 338.5h0M329.6 388.6h0M289.1 361.0h0M303.5 334.1h0M302.8 364.7h0M306.3 357.9h0M261.6 374.8h0M274.3 373.9h0M306.2 367.6h0M287.4 384.8h0M309.2 383.5h0M278.7 380.4h0M306.5 348.7h0M308.4 355.3h0M279.4 386.6h0M277.2 362.0h0M329.6 349.4h0M325.6 368.6h0M266.6 360.4h0M324.3 374.9h0M295.9 377.0h0M322.7 335.4h0M326.0 352.6h0M289.4 368.8h0M269.3 376.2h0M262.6 370.2h0M301.4 388.4h0M311.6 385.3h0M328.4 341.2h0M328.9 386.6h0M305.8 388.1h0M311.7 341.1h0M300.4 359.6h0M313.2 388.2h0M317.9 336.4h0M317.9 383.9h0M307.5 360.4h0M282.9 340.5h0M288.1 359.1h0M333.4 358.0h0M295.6 340.6h0M315.9 371.8h0M312.5 363.7h0M302.3 385.4h0M281.7 358.0h0M278.9 346.8h0M319.1 351.0h0M329.4 379.7h0M316.2 367.0h0M305.0 344.6h0M272.1 388.3h0M301.0 344.2h0M311.2 371.2h0M320.2 361.7h0M266.9 343.5h0M277.6 387.5h0M259.4 351.6h0M305.9 371.9h0M310.0 361.8h0M300.6 388.2h0M310.2 366.2h0M277.1 336.8h0M332.9 382.7h0M302.6 348.5h0M285.4 362.9h0M313.0 371.9h0M260.0 376.2h0M325.1 359.9h0M328.4 336.9h0M310.9 360.2h0M283.4 367.1h0M275.7 350.3h0M306.0 357.6h0M318.4 342.5h0M314.3 385.9h0M283.5 359.6h0M283.2 363.4h0M293.3 381.3h0M263.3 363.3h0M317.3 364.2h0M281.7 384.2h0M329.1 336.5h0M283.8 359.0h0M280.2 358.1h0M311.3 362.1h0M314.8 378.7h0M304.6 387.5h0M296.8 334.5h0M276.0 342.3h0M309.2 351.4h0M314.2 345.8h0M269.2 366.3h0M330.9 333.0h0M320.4 361.1h0M288.4 357.3h0M308.4 376.7h0M303.9 363.0h0M281.9 366.2h0M324.6 350.2h0M301.3 369.8h0M293.2 337.0h0M283.0 356.2h0M271.5 350.7h0M267.6 382.7h0M294.7 368.6h0M306.6 362.4h0M263.6 382.6h0M334.0 387.9h0M284.5 338.5h0M308.6 385.8h0M320.7 377.1h0M327.8 332.9h0M284.8 376.5h0M296.9 342.0h0M298.7 370.4h0M331.2 374.0h0M329.1 372.0h0M287.7 353.8h0M276.1 388.7h0M280.3 344.5h0M312.2 379.5h0M275.2 358.9h0M272.7 341.3h0M315.6 379.8h0M306.1 355.8h0M312.8 340.2h0M293.2 347.7h0M309.6 377.9h0M285.3 382.3h0M319.1 363.3h0M299.3 351.6h0M329.9 371.3h0M276.7 381.1h0M259.5 385.8h0M270.1 338.0h0M268.9 374.6h0M272.7 346.8h0M312.1 346.2h0M270.6 356.7h0M323.9 353.8h0M281.4 379.2h0M300.5 381.0h0M269.4 382.9h0M272.0 341.5h0M299.2 381.3h0M277.8 369.9h0M323.4 386.8h0M328.0 337.2h0M260.1 379.2h0M314.1 372.3h0M289.4 376.8h0M301.4 353.1h0M280.2 384.3h0M327.2 337.0h0M323.2 377.9h0M284.1 350.6h0M271.4 350.6h0M306.1 351.7h0M304.1 358.9h0M303.9 347.9h0M274.7 381.1h0M298.8 376.3h0M296.2 376.8h0M274.0 361.3h0M323.1 372.3h0M277.0 347.4h0M289.3 377.9h0M259.7 350.1h0M315.6 336.1h0M314.1 341.4h0M274.2 341.7h0M329.7 374.2h0M266.1 346.3h0M263.5 387.6h0M307.2 385.9h0M310.2 367.0h0M306.9 358.4h0M259.7 375.0h0M308.8 348.6h0M332.1 354.7h0M299.3 387.1h0M283.0 365.6h0M275.4 382.8h0M305.7 372.8h0M306.3 369.7h0M264.0 365.2h0M266.5 336.4h0M276.9 357.8h0M268.0 338.2h0M307.6 365.2h0M310.1 383.0h0M280.1 373.5h0M299.5 372.8h0M273.5 341.7h0M295.6 355.9h0M287.9 380.4h0M288.8 383.3h0M290.1 368.0h0M271.1 336.2h0M271.8 362.9h0M326.1 338.4h0M276.2 374.9h0M312.2 362.7h0M260.4 373.8h0M324.4 364.8h0M316.3 363.6h0M313.4 337.2h0M331.6 338.3h0M273.3 338.4h0M334.0 344.7h0M287.2 370.9h0M272.6 341.0h0M302.5 352.2h0M277.6 343.6h0M285.5 385.5h0M285.1 358.0h0M321.4 338.9h0M321.3 337.4h0M298.5 341.7h0M323.8 352.4h0M282.4 380.0h0M322.7 338.2h0M276.4 332.3h0M327.4 374.8h0M280.2 337.4h0M320.3 384.9h0M327.6 351.2h0M317.0 332.3h0M306.2 372.5h0M293.8 356.8h0M325.6 377.8h0M284.1 346.5h0M270.9 348.9h0M309.2 383.4h0M283.3 349.5h0M298.1 379.4h0M308.2 368.4h0M329.3 359.5h0M332.1 371.4h0M317.7 335.3h0" stroke="#5262a6" stroke-width="1.45" stroke-linecap="round" opacity="0.9"/>
<path d="M269.9 332.6h0M320.5 336.2h0M288.1 349.6h0M315.6 344.5h0M313.6 361.1h0M327.5 332.4h0M330.1 382.7h0M318.3 364.9h0M318.6 372.3h0M309.2 351.3h0M286.6 380.1h0M269.3 360.0h0M279.9 351.0h0M264.7 370.1h0M271.5 359.5h0M275.1 342.4h0M305.4 372.5h0M270.5 379.4h0M327.3 384.8h0M310.0 347.7h0M324.3 368.9h0M301.8 371.8h0M287.1 352.2h0M282.8 385.1h0M259.8 373.6h0M270.5 336.5h0M317.9 353.1h0M315.0 378.9h0M259.6 358.2h0M308.0 372.1h0M277.2 349.9h0M297.4 351.2h0M278.0 353.6h0M326.8 337.4h0M297.8 336.1h0M296.2 381.1h0M329.0 338.4h0M289.5 380.2h0M266.3 387.0h0M302.9 388.6h0M274.2 341.1h0M288.7 339.4h0M261.4 384.7h0M331.5 380.9h0M311.7 385.2h0M320.3 388.7h0M316.5 361.0h0M280.1 354.2h0M264.3 339.9h0M279.6 347.9h0M288.9 363.5h0M277.1 377.3h0M314.9 374.9h0M329.3 383.9h0M317.3 382.2h0M278.2 336.2h0M296.7 354.7h0M325.3 364.6h0M305.3 375.2h0M290.5 336.1h0M274.8 346.5h0M331.9 379.5h0M297.2 333.0h0M274.1 360.3h0M328.9 351.3h0M283.4 333.8h0M274.1 338.8h0M301.9 368.2h0M304.0 372.5h0M325.3 357.3h0M286.7 377.5h0M263.5 352.3h0M280.8 348.8h0M302.7 338.2h0M272.5 381.1h0M271.8 346.1h0M334.1 386.9h0M302.3 384.9h0M319.1 372.4h0M318.2 336.4h0M311.2 359.2h0M301.9 388.7h0M259.9 349.6h0M301.1 357.5h0M288.1 383.6h0M269.7 332.9h0M321.8 349.1h0M287.3 387.2h0M285.0 367.0h0M319.7 383.5h0M333.5 383.7h0M311.4 358.7h0M320.8 382.6h0M298.8 346.7h0M260.6 371.9h0M312.6 341.1h0M277.5 368.7h0M296.3 365.7h0M300.3 333.0h0M307.9 387.7h0M309.9 378.7h0M278.0 339.0h0M278.0 344.5h0M275.7 359.7h0M298.4 344.5h0M329.1 386.9h0M299.5 346.5h0M300.7 371.3h0M286.4 348.7h0M296.7 333.5h0M287.0 347.7h0M279.7 383.5h0M320.7 336.4h0M311.1 361.5h0M320.8 362.4h0M289.5 378.3h0M260.5 383.3h0M319.9 352.4h0M274.6 373.1h0M302.7 378.0h0M299.6 380.6h0M331.3 366.9h0M300.1 332.2h0M290.8 337.4h0M281.8 363.3h0M325.4 363.0h0M260.7 361.9h0M263.8 376.5h0M261.3 386.7h0M300.6 345.4h0M303.4 346.8h0M286.2 379.0h0M288.0 384.7h0M316.4 355.1h0M276.6 379.6h0M322.3 372.8h0M273.8 374.9h0M308.4 369.7h0M333.8 334.4h0M323.0 358.4h0M309.6 369.3h0M331.2 388.4h0M332.2 373.9h0M272.6 337.1h0M314.9 375.7h0M285.3 367.4h0M312.2 361.3h0M308.0 377.8h0M330.5 347.9h0M261.5 363.2h0M314.9 359.2h0M331.8 352.8h0M329.8 348.5h0M307.9 385.9h0M292.5 350.3h0M312.4 360.0h0M262.9 350.8h0M265.2 348.8h0M261.4 384.3h0M310.9 366.6h0M323.3 378.5h0M289.5 378.9h0M288.6 383.4h0M278.2 380.9h0M326.7 350.7h0M273.1 361.9h0M317.1 381.9h0M278.6 367.4h0M312.6 375.9h0M302.9 384.5h0M282.8 367.7h0M262.3 343.8h0M286.2 373.6h0M314.8 340.6h0M264.8 375.1h0M333.9 383.5h0M297.7 370.8h0M299.8 353.3h0M294.3 359.8h0M295.9 335.1h0M260.5 382.9h0M303.3 358.8h0M274.1 388.1h0M266.5 354.0h0M273.5 341.6h0M259.6 363.9h0M281.9 353.5h0M330.2 340.9h0M327.7 338.4h0M310.4 354.8h0M274.3 385.4h0M273.0 348.3h0M289.7 347.6h0M282.6 375.6h0M280.0 373.5h0M321.5 351.1h0M312.3 375.4h0M306.6 363.9h0M318.6 335.9h0M306.9 384.7h0M332.4 346.1h0M310.7 365.1h0M279.8 339.7h0M275.9 344.7h0M329.6 375.2h0M306.5 387.4h0M271.6 364.2h0M301.0 336.6h0M312.1 387.4h0M318.6 370.0h0M273.1 361.2h0M318.9 384.4h0M281.4 346.9h0M311.5 369.5h0M297.5 333.7h0M332.3 333.1h0M263.8 387.1h0M313.0 337.5h0M261.7 369.7h0M306.1 387.2h0M302.0 348.0h0M307.6 364.5h0M323.0 366.8h0M319.6 332.6h0M324.5 341.1h0M309.8 373.0h0M316.8 377.4h0M319.6 352.7h0M288.2 382.8h0M264.4 376.9h0M330.6 373.2h0M329.1 352.8h0M333.3 374.5h0M272.8 361.3h0M323.4 377.3h0M298.5 375.1h0M279.4 365.7h0M320.3 336.2h0M331.2 369.6h0M291.5 358.4h0M289.0 352.1h0M267.4 339.7h0M331.8 341.3h0M278.3 368.0h0M308.2 339.8h0M318.2 337.5h0M295.6 341.6h0M301.2 351.0h0M267.5 358.8h0M307.7 361.3h0M284.3 352.4h0M263.5 361.0h0M288.1 364.7h0M283.7 385.7h0M319.1 356.3h0M327.8 357.4h0M278.7 374.8h0M322.1 375.8h0M281.7 377.6h0M317.1 387.0h0M271.3 370.2h0M293.0 337.4h0M295.2 384.3h0M273.0 380.9h0M276.0 360.2h0M275.6 340.7h0M328.5 352.5h0M320.2 386.8h0M306.3 379.4h0M293.9 353.0h0M298.2 353.7h0M276.6 360.1h0M260.0 370.5h0M308.9 338.1h0M310.5 364.0h0M301.3 351.3h0M314.2 354.3h0M307.1 378.3h0M302.5 381.5h0M322.8 350.0h0M272.2 338.9h0M265.1 337.7h0M331.4 381.5h0M294.4 340.9h0M325.2 380.8h0M298.1 371.7h0M307.7 383.8h0M280.6 379.8h0M272.1 387.6h0M274.4 375.6h0M262.0 373.1h0M266.9 334.2h0M328.8 332.0h0M311.2 367.2h0M265.4 386.7h0M308.4 369.9h0M328.1 365.6h0M278.2 345.3h0M309.6 370.4h0M288.0 332.3h0M316.3 383.0h0M326.6 371.9h0M307.6 363.9h0M278.5 342.9h0M313.5 356.2h0M328.2 361.1h0M320.5 338.7h0M332.6 377.8h0M278.7 385.3h0M281.1 362.7h0M333.9 369.3h0M277.8 336.1h0M259.5 375.1h0M277.4 383.6h0M285.2 352.1h0M307.7 381.5h0M310.0 383.1h0M263.3 341.0h0M333.9 337.8h0M275.9 364.1h0M322.2 376.7h0M259.5 354.4h0M261.0 368.9h0M317.2 353.9h0M330.8 352.4h0M324.5 374.1h0M277.6 381.5h0M294.2 369.1h0M306.8 364.7h0M319.7 362.4h0M260.1 361.6h0M259.8 383.3h0M302.9 386.2h0M316.6 388.4h0M291.9 375.6h0M324.1 336.5h0M322.7 358.8h0M307.1 372.2h0M300.6 363.9h0M301.8 339.0h0M327.8 377.1h0M315.7 361.2h0M274.8 337.7h0M266.1 370.9h0M276.7 358.0h0M276.1 343.8h0M328.8 370.7h0M331.3 385.1h0M316.6 382.4h0M333.9 334.2h0M329.3 357.9h0M282.0 377.6h0M330.5 373.4h0M282.9 362.7h0M264.6 352.9h0M332.9 370.8h0M273.3 387.4h0M297.1 346.2h0M263.6 347.4h0M269.6 335.2h0M311.7 342.6h0M322.9 352.6h0M323.3 365.2h0M289.4 334.0h0M290.2 357.4h0M323.7 384.2h0M277.0 382.2h0M333.8 372.4h0M294.6 353.1h0M298.7 355.0h0M280.7 358.5h0M299.0 365.0h0M293.0 380.3h0M328.1 354.8h0M312.0 372.6h0M312.0 346.5h0M295.2 340.7h0M275.0 351.9h0M263.5 376.1h0M328.7 356.8h0M303.7 339.8h0M259.5 358.3h0M279.4 367.1h0M287.7 335.3h0M284.6 378.1h0M330.6 342.8h0" stroke="#6e7cba" stroke-width="1.45" stroke-linecap="round" opacity="0.9"/>
<path d="M276.3 332.1h0M320.6 369.5h0M291.4 361.4h0M326.4 383.6h0M321.5 344.9h0M280.6 385.1h0M330.8 370.7h0M305.1 339.2h0M281.1 370.1h0M289.1 332.5h0M321.5 333.1h0M310.0 365.5h0M271.9 345.2h0M295.1 351.3h0M290.2 336.5h0M299.3 337.0h0M262.4 351.8h0M263.6 375.9h0M268.0 348.8h0M311.3 379.2h0M293.6 388.6h0M320.4 356.2h0M262.0 380.9h0M300.1 386.6h0M302.5 381.8h0M274.4 376.0h0M270.3 370.1h0M282.0 384.7h0M271.9 333.8h0M315.1 338.4h0M302.7 362.1h0M297.0 345.5h0M311.8 343.6h0M328.6 380.0h0M312.5 360.6h0M276.3 356.0h0M289.0 375.8h0M281.4 380.3h0M282.0 360.6h0M294.1 374.3h0M274.4 381.8h0M313.2 381.2h0M267.3 338.4h0M329.4 369.2h0M306.5 364.1h0M283.8 377.7h0M284.5 347.9h0M271.3 358.3h0M262.8 366.6h0M269.3 382.4h0M280.7 356.4h0M309.0 350.2h0M293.3 339.6h0M294.6 334.3h0M290.7 378.2h0M313.3 386.2h0M299.1 366.5h0M331.7 380.7h0M319.0 380.1h0M297.7 347.0h0M279.6 363.3h0M329.6 348.4h0M280.3 374.1h0M272.9 332.7h0M303.2 346.4h0M286.3 345.3h0M260.3 348.2h0M260.6 368.1h0M302.1 334.9h0M301.5 340.9h0M281.3 370.9h0M305.3 343.0h0M297.6 376.9h0M277.5 332.5h0M294.9 385.2h0M305.1 335.1h0M286.8 354.0h0M329.4 372.1h0M314.3 380.1h0M279.8 382.2h0M282.7 351.6h0M311.0 384.1h0M327.8 374.2h0M325.6 387.4h0M313.4 348.3h0M293.0 350.2h0M284.3 375.4h0M320.8 348.9h0M315.2 366.5h0M277.9 346.3h0M305.1 343.2h0M281.3 354.2h0M277.2 379.5h0M272.5 339.7h0M329.2 384.3h0M311.7 345.6h0M328.3 337.4h0M321.1 341.6h0M281.6 384.7h0M306.3 356.6h0M307.9 339.4h0M272.8 334.1h0M332.3 375.2h0M304.9 385.4h0M268.6 350.1h0M322.3 360.5h0M298.2 388.6h0M332.9 363.7h0M311.9 359.9h0M280.9 366.5h0M265.3 354.2h0M333.9 385.0h0M301.7 370.6h0M318.0 351.8h0M310.5 344.0h0M303.9 383.2h0M300.7 347.3h0M283.9 383.6h0M290.8 378.5h0M327.8 354.9h0M283.4 385.6h0M266.0 344.3h0M306.8 368.1h0M328.0 338.2h0M302.5 370.3h0M266.0 352.3h0M274.9 356.7h0M283.7 356.6h0M327.7 345.6h0M271.9 367.6h0M275.9 342.1h0M295.5 378.0h0M318.8 362.1h0M312.6 382.1h0M275.1 354.0h0M332.6 379.4h0M320.7 354.6h0M276.0 386.5h0M320.9 371.5h0M294.4 345.7h0M259.4 352.5h0M285.3 382.1h0M259.4 363.4h0M306.0 334.1h0M267.5 362.4h0M283.7 369.1h0M271.5 347.2h0M319.7 379.3h0M329.4 372.4h0M291.4 366.0h0M317.2 359.5h0M265.5 363.6h0M270.4 381.8h0M310.7 366.2h0M272.4 343.6h0M268.2 383.4h0M320.0 384.6h0M322.5 339.3h0M295.1 339.3h0M306.3 382.8h0M300.3 351.5h0M324.5 353.0h0M327.8 343.5h0M273.4 339.1h0M286.7 373.7h0M271.0 364.6h0M287.3 335.3h0M316.5 372.2h0M330.7 340.5h0M288.8 378.3h0M299.1 375.3h0M326.4 354.3h0M333.9 353.8h0M277.5 357.4h0M288.1 347.4h0M329.2 357.0h0M264.3 343.0h0M326.6 378.6h0M269.0 361.5h0M272.7 349.2h0M281.8 344.0h0M277.5 348.7h0M323.5 347.7h0M275.6 369.5h0M266.1 363.2h0M270.8 353.0h0M324.4 369.0h0M299.9 356.7h0M317.6 342.3h0M300.4 376.7h0M286.1 357.5h0M321.9 378.3h0M298.5 356.6h0M272.9 352.1h0M305.4 363.6h0M326.6 386.8h0M306.1 356.1h0M299.4 387.0h0M278.0 346.4h0M306.3 357.0h0M282.4 350.4h0M323.2 344.5h0M331.4 350.0h0M319.2 335.7h0M309.3 355.1h0M323.8 365.3h0M275.3 351.6h0M312.9 382.6h0M319.8 345.8h0M272.5 354.2h0M323.8 356.6h0M300.7 340.6h0M289.3 345.9h0M320.3 355.1h0M265.6 358.5h0M304.9 346.6h0M290.1 363.0h0M308.9 373.5h0M273.8 367.3h0M272.1 364.9h0M326.9 350.4h0M321.6 339.5h0M328.0 361.2h0M311.7 353.3h0M297.1 343.8h0M326.9 355.1h0M290.0 377.4h0M299.9 380.5h0M308.7 345.8h0M325.6 356.1h0M305.1 379.2h0M307.0 379.4h0M276.1 334.2h0M286.0 386.5h0M333.8 360.1h0M301.8 352.5h0M323.8 380.1h0M285.8 337.6h0M284.2 384.0h0M312.2 359.8h0M270.4 339.1h0M297.9 369.4h0M290.8 367.8h0M327.3 337.1h0M287.8 372.6h0M281.3 341.4h0M271.8 337.9h0M315.0 334.1h0M265.6 385.6h0M288.8 360.1h0M306.4 361.4h0M330.8 369.8h0M328.2 376.2h0M294.3 339.4h0M276.6 336.5h0M320.9 382.4h0M303.8 340.7h0M302.7 342.3h0M311.1 377.9h0M299.3 386.8h0M324.4 384.2h0M319.3 349.8h0M289.5 374.8h0M325.4 375.1h0M296.7 353.4h0M320.0 336.1h0M298.7 342.8h0M309.9 358.2h0M268.3 368.9h0M287.5 356.9h0M326.9 374.7h0M273.6 357.8h0M290.2 335.9h0M329.1 343.1h0M302.2 346.8h0M294.6 348.1h0M269.4 346.7h0M321.8 336.5h0M323.8 352.1h0M291.9 333.8h0M259.8 365.5h0M322.5 358.6h0M274.2 338.3h0M311.8 381.0h0M262.7 370.1h0M318.3 349.2h0M301.5 373.6h0M282.6 343.4h0M293.7 360.6h0M300.0 345.2h0M288.0 352.6h0M277.9 353.7h0M296.6 348.3h0M284.8 358.5h0M284.6 355.9h0M274.2 366.0h0M313.0 333.0h0M318.2 388.3h0M317.7 372.4h0M289.3 372.4h0M313.8 335.5h0M301.1 344.1h0M326.3 358.7h0M274.4 384.0h0M285.3 339.7h0M320.8 335.8h0M259.8 351.0h0M262.8 351.0h0M260.1 380.0h0M302.6 342.0h0M313.1 376.8h0M271.1 352.2h0M322.9 362.1h0M299.9 370.6h0M304.9 380.5h0M326.3 381.2h0M320.8 383.5h0M263.2 385.6h0M287.7 333.4h0M276.4 380.2h0M294.6 346.4h0M276.3 356.7h0M266.9 377.3h0M312.3 372.9h0M282.5 342.0h0M303.1 369.3h0M266.6 359.3h0M328.6 358.0h0M324.4 338.7h0M334.0 352.9h0M326.0 384.1h0M322.0 333.1h0M333.2 379.9h0M299.9 338.8h0M280.6 353.7h0M315.5 372.5h0M274.6 384.8h0M303.4 376.8h0M285.5 350.9h0M268.2 368.7h0M303.1 368.2h0M310.3 366.7h0M298.6 351.0h0M281.5 379.6h0M261.5 365.4h0M330.1 355.6h0" stroke="#96a0d0" stroke-width="1.45" stroke-linecap="round" opacity="0.9"/>
<path d="M286.7 351.3h0M332.3 382.2h0M320.3 354.7h0M295.2 386.2h0M277.7 338.6h0M321.5 368.3h0M305.4 334.6h0M329.2 371.1h0M284.1 360.4h0M306.6 341.7h0M304.8 376.5h0M284.9 382.4h0M272.1 363.1h0M329.9 365.9h0M329.1 340.3h0M318.0 339.1h0M267.3 345.6h0M288.0 379.7h0M328.1 361.6h0M326.6 333.4h0M291.7 341.6h0M326.1 361.3h0M300.3 383.9h0M309.4 356.2h0M268.6 343.3h0M305.8 337.2h0M300.2 355.0h0M323.4 375.3h0M282.7 380.0h0M264.2 342.7h0M278.4 339.2h0M274.0 374.1h0M282.3 382.7h0M302.3 347.9h0M305.6 350.1h0M291.5 339.9h0M326.7 352.1h0M317.5 355.6h0M260.1 363.7h0M307.8 337.7h0M294.3 369.9h0M304.5 370.0h0M284.2 378.2h0M271.6 349.2h0M310.4 336.9h0M300.9 342.0h0M275.1 356.2h0M306.3 383.6h0M277.9 341.0h0M263.0 352.4h0M322.8 342.8h0M329.0 384.2h0M295.4 347.3h0M290.2 356.5h0M299.3 346.5h0M304.8 381.9h0M327.1 356.9h0M261.1 352.7h0M317.7 337.8h0M269.6 359.0h0M287.6 347.8h0M314.8 379.9h0M325.8 354.3h0M285.9 351.5h0M285.2 382.4h0M298.0 334.0h0M292.7 353.8h0M283.3 378.2h0M259.5 349.1h0M281.8 335.9h0M278.3 355.1h0M319.0 376.5h0M302.3 352.3h0M326.7 370.6h0M273.2 361.2h0M282.9 375.4h0M295.3 373.5h0M329.8 364.2h0M322.0 338.3h0M316.3 366.8h0M280.3 383.3h0M333.7 385.6h0M287.6 381.4h0M293.3 337.1h0M261.3 382.0h0M284.8 376.8h0M281.4 341.6h0M281.4 373.5h0M326.7 347.3h0M322.7 359.1h0M318.7 356.7h0M277.1 356.1h0M266.9 347.5h0M321.6 374.5h0M316.0 336.4h0M302.1 337.6h0M277.6 363.7h0M277.0 354.9h0M324.2 370.0h0M290.1 378.2h0M333.6 385.5h0M270.5 335.9h0M321.9 349.9h0M332.7 374.6h0M292.1 332.9h0M333.6 371.6h0M307.5 349.6h0M301.6 357.4h0M274.6 372.6h0M303.6 336.7h0M265.3 384.2h0M295.6 358.8h0M304.6 363.3h0M317.3 362.6h0M328.7 382.8h0M287.0 335.8h0M311.7 344.7h0M324.1 387.3h0M274.1 357.0h0M279.4 339.0h0M303.1 384.5h0M269.1 345.0h0M322.4 355.9h0M283.4 351.8h0M290.2 355.4h0M315.0 388.5h0M263.6 384.4h0M283.9 374.0h0M290.2 369.5h0M285.8 357.1h0M288.0 351.2h0M276.2 377.9h0M312.5 346.5h0M264.3 347.6h0M299.5 378.4h0M323.0 359.2h0M279.8 340.3h0M299.2 368.4h0M283.1 364.7h0M290.1 388.5h0M290.4 355.4h0M295.6 359.6h0M301.1 334.7h0M331.6 338.8h0M333.7 362.9h0M303.1 371.8h0M265.4 381.0h0M298.9 345.6h0M310.3 364.2h0M298.6 334.4h0M304.9 336.7h0M307.5 345.3h0M259.4 369.4h0M301.8 388.4h0M298.7 347.1h0M278.3 375.8h0M323.6 352.7h0M278.9 340.1h0M302.5 364.6h0M294.1 383.4h0M294.3 352.5h0M277.0 339.2h0M309.0 342.0h0M327.3 361.3h0M309.1 342.0h0M316.8 384.7h0M296.8 350.3h0M316.3 338.5h0M321.4 384.3h0M293.9 366.9h0M329.7 359.6h0M307.3 368.4h0M296.2 357.4h0M285.9 335.2h0M272.0 350.4h0M324.6 354.8h0M318.8 361.2h0M281.6 369.4h0M315.0 354.9h0M277.1 361.3h0M277.8 375.5h0M270.8 382.8h0M325.7 338.5h0M281.0 375.2h0M331.1 361.9h0M325.8 352.4h0M332.3 385.1h0M320.9 359.4h0M293.1 375.0h0M333.4 366.5h0M305.8 350.0h0M278.1 361.3h0M293.4 348.0h0M277.1 360.6h0M306.0 386.2h0M327.4 359.5h0M330.5 336.7h0M271.0 353.9h0M325.3 340.8h0M305.7 358.9h0M303.8 383.3h0M278.2 359.9h0M279.1 339.0h0M264.1 386.1h0M261.1 371.1h0M302.1 387.1h0M289.1 381.3h0M318.6 341.6h0M320.1 364.5h0M313.2 384.5h0M260.7 367.4h0M262.6 387.7h0M289.5 350.5h0M259.9 372.2h0M260.8 388.1h0M260.5 348.9h0M308.7 387.8h0M324.8 348.5h0M261.8 376.1h0M268.3 378.3h0M321.5 387.9h0M266.5 362.2h0M327.4 348.8h0M273.5 342.0h0M266.9 350.4h0M323.1 353.5h0M259.4 385.8h0M282.2 340.4h0M267.5 374.8h0M268.6 384.1h0M264.5 333.9h0M296.7 367.1h0M324.3 376.0h0M278.0 361.6h0M322.3 378.3h0M299.7 349.6h0M266.9 387.4h0M260.1 367.4h0M285.3 353.8h0M312.2 338.3h0M283.9 340.6h0M299.9 373.4h0M297.1 356.4h0M284.6 387.0h0M263.4 352.0h0M298.9 347.4h0M274.0 337.3h0M277.7 379.5h0M298.4 365.6h0M272.2 343.9h0M287.0 355.7h0M289.9 354.1h0M308.0 380.1h0M281.7 345.0h0M261.8 337.1h0M300.0 378.2h0M320.9 333.3h0M270.4 357.2h0M300.8 368.0h0M296.9 382.9h0M324.0 379.3h0M285.7 377.8h0M308.0 377.7h0M276.0 333.8h0M305.3 367.7h0M292.9 362.6h0M331.0 336.0h0M302.6 382.7h0M277.2 365.3h0M294.8 354.9h0M303.0 336.6h0M333.0 337.5h0M332.7 336.2h0M281.0 355.6h0M278.5 335.1h0M283.9 385.7h0M310.6 377.7h0M297.1 349.9h0M265.6 386.0h0M284.2 338.7h0M280.2 354.6h0M326.4 355.2h0M294.4 388.5h0M270.0 362.4h0M300.3 333.1h0M322.0 333.6h0M328.4 347.3h0M303.2 361.6h0M277.1 365.4h0M318.1 332.2h0M285.3 388.0h0M297.0 335.5h0M261.5 346.1h0M264.8 382.2h0M273.4 333.4h0M276.5 382.2h0M317.1 359.1h0M328.7 355.2h0M300.0 386.2h0M274.1 337.2h0M259.5 387.1h0M273.7 387.7h0M310.6 384.4h0M312.8 351.0h0M325.3 362.3h0M291.3 335.8h0M272.2 366.7h0M301.1 365.4h0M267.4 386.0h0M309.0 366.5h0M324.6 371.3h0M268.0 339.8h0M310.0 343.9h0M296.4 352.7h0M268.9 350.5h0M273.8 383.9h0M331.4 372.9h0M322.3 365.6h0M266.0 332.2h0M322.0 370.9h0M292.7 347.7h0M311.4 336.1h0M299.7 346.1h0M271.4 382.5h0M331.2 370.7h0M274.9 341.9h0M285.2 334.2h0M298.4 356.6h0M310.6 365.0h0M331.1 384.4h0M261.9 377.0h0M273.4 357.6h0M259.6 371.3h0M305.2 354.8h0M260.6 373.4h0M325.3 347.5h0M267.5 358.8h0M293.2 333.9h0M293.1 374.5h0M324.4 378.6h0M294.3 379.1h0M268.5 359.1h0M307.8 335.7h0M319.8 348.0h0M276.5 369.3h0M291.4 333.1h0M259.3 349.2h0M331.4 353.9h0M284.3 340.2h0M280.4 375.4h0M328.1 370.5h0M299.6 379.8h0M310.6 381.3h0M269.5 383.8h0M308.1 338.3h0M314.4 387.1h0M329.0 365.5h0M269.9 360.8h0M297.1 360.1h0M306.5 350.7h0M332.9 360.4h0M278.7 351.0h0M321.2 364.2h0M279.7 384.5h0M309.1 346.4h0M327.6 346.3h0M314.7 361.5h0M281.5 384.4h0M328.1 346.1h0M298.5 357.6h0M318.2 335.9h0M317.6 355.7h0M262.6 364.6h0M293.1 354.2h0" stroke="#5a6aac" stroke-width="1.45" stroke-linecap="round" opacity="0.9"/>
<path d="M307.2 336.7h0M262.0 347.7h0M296.9 333.4h0M296.8 359.8h0M307.0 353.8h0M305.0 344.0h0M313.2 349.6h0M275.7 384.1h0M300.7 370.6h0M270.3 346.7h0M260.2 341.7h0M297.0 368.0h0M261.5 370.9h0M272.1 356.8h0M276.7 343.1h0M312.9 387.9h0M272.6 364.7h0M278.9 372.9h0M334.0 338.0h0M282.8 354.3h0M279.1 335.4h0M313.1 351.1h0M283.8 339.1h0M266.7 382.4h0M331.4 376.1h0M311.4 369.6h0M283.2 338.2h0M300.4 366.6h0M295.7 352.9h0M317.8 352.8h0M269.2 360.1h0M276.2 363.3h0M314.7 382.2h0M277.0 376.4h0M301.9 375.7h0M275.8 357.1h0M327.0 372.6h0M294.9 354.2h0M280.7 379.3h0M300.6 356.2h0M312.1 338.1h0M261.3 349.5h0M302.1 357.7h0M277.7 379.2h0M315.6 380.0h0M330.7 352.9h0M302.9 341.0h0M283.9 341.7h0M266.9 353.6h0M294.8 387.5h0M294.9 379.3h0M286.2 354.1h0M306.6 347.6h0M274.2 345.5h0M316.0 379.7h0M332.9 364.2h0M322.5 381.2h0M275.1 369.7h0M301.9 375.0h0M283.2 333.3h0M319.4 375.3h0M331.6 379.6h0M283.7 377.7h0M317.1 387.3h0M302.3 366.2h0M319.9 354.8h0M283.5 333.1h0M333.9 377.8h0M309.0 367.8h0M331.5 383.4h0M311.9 377.4h0M297.8 343.9h0M329.0 357.8h0M284.8 375.5h0M324.1 383.0h0M324.3 332.7h0M333.7 374.4h0M277.7 342.8h0M263.3 376.1h0M277.6 372.3h0M329.6 353.2h0M305.0 379.4h0M274.2 352.5h0M292.3 342.3h0M278.7 378.6h0M277.0 356.5h0M300.2 339.8h0M272.8 363.1h0M321.3 336.0h0M277.5 347.6h0M309.8 384.6h0M270.1 373.5h0M273.2 375.1h0M276.9 349.1h0M284.2 374.7h0M268.5 374.9h0M304.0 373.4h0M298.0 371.2h0M263.5 362.8h0M284.8 334.7h0M295.0 368.8h0M259.2 341.8h0M304.3 359.7h0M262.8 348.5h0M303.8 337.1h0M274.9 386.7h0M304.1 347.4h0M285.3 379.8h0M265.9 347.5h0M327.3 371.3h0M315.1 360.9h0M283.4 356.8h0M279.6 384.0h0M327.1 339.4h0M316.3 342.5h0M260.8 388.0h0M299.1 348.1h0M307.1 374.9h0M331.3 381.7h0M260.6 375.6h0M329.0 370.9h0M275.4 367.9h0M299.1 373.7h0M262.9 380.4h0M305.6 364.0h0M333.9 362.9h0M289.9 373.4h0M283.1 375.4h0M314.5 347.8h0M287.4 371.5h0M316.0 334.9h0M331.7 386.8h0M271.5 340.2h0M325.1 335.9h0M333.8 371.2h0M274.0 341.8h0M322.7 359.6h0M319.8 362.8h0M308.4 355.2h0M300.4 340.7h0M272.8 363.8h0M275.4 367.2h0M272.1 357.6h0M297.7 340.3h0M319.4 380.2h0M284.7 373.9h0M307.6 358.4h0M328.6 348.3h0M301.0 335.6h0M320.8 353.4h0M321.8 333.1h0M278.9 358.2h0M315.0 336.9h0M279.6 370.3h0M321.6 346.6h0M272.3 360.8h0M329.7 380.8h0M266.7 378.4h0M290.0 383.0h0M323.3 357.8h0M317.0 338.8h0M268.7 345.2h0M260.2 343.0h0M304.7 383.2h0M320.4 355.4h0M308.0 374.1h0M270.4 363.7h0M288.1 387.5h0M275.6 359.7h0M307.5 345.6h0M300.9 364.9h0M282.1 351.4h0M274.5 339.9h0M271.2 383.7h0M306.1 375.7h0M330.9 348.5h0M324.5 372.5h0M327.6 356.3h0M317.0 344.0h0M298.9 360.7h0M322.4 334.5h0M326.4 386.5h0M311.2 377.4h0M298.4 346.7h0M316.1 388.0h0M328.9 333.1h0M323.5 379.0h0M329.1 354.6h0M304.1 356.4h0M326.5 353.7h0M282.8 384.0h0M301.9 377.8h0M269.5 343.4h0M328.8 374.2h0M316.0 347.2h0M314.8 343.8h0M276.1 352.1h0M322.7 363.9h0M321.7 365.9h0M324.6 334.9h0M312.2 386.1h0M276.7 378.5h0M303.6 371.9h0M301.1 362.6h0M324.0 358.6h0M259.8 351.1h0M276.7 362.7h0M314.1 384.5h0M318.0 354.9h0M283.2 367.3h0M307.0 369.9h0M303.4 362.0h0M327.2 343.6h0M283.2 382.5h0M280.4 383.1h0M281.9 339.2h0M313.9 335.2h0M289.6 333.7h0M307.9 368.0h0M329.8 372.1h0M279.8 361.0h0M287.2 350.7h0M317.7 344.0h0M309.0 356.8h0M330.3 355.7h0M306.2 350.1h0M270.8 361.6h0M304.9 362.9h0M315.8 338.4h0M309.6 358.3h0M262.6 368.9h0M299.6 362.4h0M264.5 361.8h0M310.3 385.0h0M286.5 377.0h0M286.4 376.2h0M330.7 374.3h0M319.9 353.6h0M305.4 351.1h0M268.8 374.4h0M289.6 369.5h0M299.0 351.3h0M291.2 377.1h0M323.9 332.5h0M302.8 375.0h0M326.4 333.9h0M305.0 368.4h0M296.8 368.8h0M286.6 373.2h0M312.6 376.6h0M289.8 338.1h0M304.6 386.4h0M321.4 335.9h0M287.4 359.7h0M292.8 338.0h0M278.2 367.3h0M304.7 345.2h0M266.2 344.3h0M310.4 349.7h0M279.6 381.7h0M326.2 350.5h0M315.2 381.1h0M283.3 385.0h0M319.9 333.2h0M259.3 350.1h0M307.1 365.0h0M302.4 349.2h0M325.7 335.7h0M313.7 388.6h0M305.2 370.7h0M265.0 365.8h0M329.8 362.3h0M284.8 371.3h0M332.4 346.8h0M330.8 358.7h0M302.3 359.3h0M289.2 371.5h0M279.4 346.5h0M262.8 353.7h0M274.2 366.3h0M267.5 343.9h0M285.8 371.6h0M276.3 370.6h0M300.5 335.7h0M291.9 366.3h0M318.8 372.3h0M322.0 345.4h0M268.8 342.6h0M303.5 368.9h0M274.7 341.3h0M261.6 364.0h0M324.2 342.0h0M279.9 340.1h0M322.5 356.2h0M300.4 368.3h0M293.4 338.5h0M317.0 384.3h0M282.2 334.9h0M306.8 359.9h0M333.4 353.4h0M309.6 386.6h0M260.4 383.5h0M264.6 347.9h0M260.3 375.8h0M334.0 335.9h0M272.4 385.7h0M316.9 345.5h0M278.6 364.8h0M302.6 352.4h0M305.9 346.2h0M289.7 350.3h0M289.8 380.0h0M288.4 373.9h0M299.2 378.7h0M312.0 344.2h0M332.7 356.8h0M263.0 343.2h0M260.8 372.9h0M299.9 346.0h0M317.7 335.3h0M316.5 338.2h0M326.2 385.6h0M326.0 376.6h0M271.4 341.4h0M290.8 345.1h0M285.7 363.5h0M283.6 340.6h0M283.7 369.9h0M275.6 360.9h0M297.9 362.7h0M278.9 369.4h0M318.6 359.6h0M328.2 381.3h0M329.3 384.6h0M314.3 380.4h0M275.2 360.5h0M302.2 345.6h0M287.1 377.0h0M328.6 364.4h0M289.8 346.5h0M280.1 380.1h0M300.4 370.9h0M260.1 372.9h0M286.4 382.5h0M283.3 375.1h0M322.5 369.6h0" stroke="#b0b8de" stroke-width="1.45" stroke-linecap="round" opacity="0.9"/>
<path d="M274.1,339.8 L273.7,341.1 L272.5,341.7 L271.2,341.6 L269.9,341.1 L269.1,339.8 L270.1,338.7 L270.9,337.4 L272.5,337.8 L273.6,338.6Z" fill="#8e8680" stroke="#6a625c" stroke-width="1.4" stroke-linejoin="round" opacity="0.9" filter="url(#bl3)"/>
<path d="M300.4,334.3 L300.5,335.5 L299.3,336.3 L297.9,336.2 L296.6,335.6 L296.6,334.3 L296.8,333.1 L298.0,332.6 L299.3,332.2 L300.4,333.1Z" fill="#8e8680" stroke="#6a625c" stroke-width="1.4" stroke-linejoin="round" opacity="0.9" filter="url(#bl3)"/>
<path d="M323.6,344.6 L322.5,345.8 L321.6,347.0 L319.9,346.9 L318.7,345.9 L317.8,344.6 L318.7,343.3 L320.0,342.6 L321.3,342.8 L322.9,343.2Z" fill="#8e8680" stroke="#6a625c" stroke-width="1.4" stroke-linejoin="round" opacity="0.9" filter="url(#bl3)"/>
<path d="M335.0,349.3 L334.9,350.3 L334.0,351.2 L332.8,350.8 L331.5,350.5 L331.2,349.3 L331.6,348.2 L332.6,347.5 L333.9,347.6 L335.1,348.1Z" fill="#8e8680" stroke="#6a625c" stroke-width="1.4" stroke-linejoin="round" opacity="0.9" filter="url(#bl3)"/>
<path d="M319.3,359.5 L318.0,360.8 L316.8,361.6 L315.2,361.7 L313.9,360.9 L312.9,359.5 L313.6,357.9 L315.1,356.9 L316.9,356.9 L318.0,358.2Z" fill="#8e8680" stroke="#6a625c" stroke-width="1.4" stroke-linejoin="round" opacity="0.9" filter="url(#bl3)"/>
<path d="M326.3,363.5 L325.4,365.0 L323.9,366.0 L322.2,365.6 L320.4,365.2 L319.7,363.5 L320.3,361.7 L322.0,360.8 L323.9,361.0 L325.0,362.2Z" fill="#8e8680" stroke="#6a625c" stroke-width="1.4" stroke-linejoin="round" opacity="0.9" filter="url(#bl3)"/>
<path d="M264.5,370.6 L263.7,371.5 L262.9,372.3 L261.7,372.1 L260.5,371.8 L260.3,370.6 L260.9,369.7 L261.6,368.7 L262.9,369.0 L263.6,369.7Z" fill="#8e8680" stroke="#6a625c" stroke-width="1.4" stroke-linejoin="round" opacity="0.9" filter="url(#bl3)"/>
<path d="M313.1,386.4 L313.1,387.6 L311.9,388.3 L310.4,388.7 L309.3,387.6 L309.1,386.4 L309.1,385.0 L310.4,384.2 L311.8,384.8 L313.0,385.2Z" fill="#8e8680" stroke="#6a625c" stroke-width="1.4" stroke-linejoin="round" opacity="0.9" filter="url(#bl3)"/>
<line x1="322.20" y1="386.40" x2="333.30" y2="386.40" stroke="#000" stroke-width="1.6" />
<text x="215.20" y="399.02" font-size="9.9" text-anchor="middle" font-weight="normal" fill="#000" stroke="#000" stroke-width="0.15" >16m</text>
<text x="296.50" y="399.15" font-size="9.7" text-anchor="middle" font-weight="normal" fill="#000" stroke="#000" stroke-width="0.15" >16m+NAC</text>
<text x="363.08" y="314.16" font-size="13.5" font-weight="bold" stroke="#000" stroke-width="0.35">F</text>
<line x1="406.40" y1="319.50" x2="406.40" y2="410.60" stroke="#000" stroke-width="1.25" />
<line x1="403.00" y1="410.00" x2="406.40" y2="410.00" stroke="#000" stroke-width="1.25" />
<text x="400.80" y="412.83" font-size="8.2" text-anchor="end" font-weight="normal" fill="#000" stroke="#000" stroke-width="0.15" >0</text>
<line x1="403.00" y1="397.64" x2="406.40" y2="397.64" stroke="#000" stroke-width="1.25" />
<text x="400.80" y="400.47" font-size="8.2" text-anchor="end" font-weight="normal" fill="#000" stroke="#000" stroke-width="0.15" >500</text>
<line x1="403.00" y1="385.28" x2="406.40" y2="385.28" stroke="#000" stroke-width="1.25" />
<text x="400.80" y="388.11" font-size="8.2" text-anchor="end" font-weight="normal" fill="#000" stroke="#000" stroke-width="0.15" >1000</text>
<line x1="403.00" y1="372.92" x2="406.40" y2="372.92" stroke="#000" stroke-width="1.25" />
<text x="400.80" y="375.75" font-size="8.2" text-anchor="end" font-weight="normal" fill="#000" stroke="#000" stroke-width="0.15" >1500</text>
<line x1="403.00" y1="360.56" x2="406.40" y2="360.56" stroke="#000" stroke-width="1.25" />
<text x="400.80" y="363.39" font-size="8.2" text-anchor="end" font-weight="normal" fill="#000" stroke="#000" stroke-width="0.15" >2000</text>
<line x1="403.00" y1="348.20" x2="406.40" y2="348.20" stroke="#000" stroke-width="1.25" />
<text x="400.80" y="351.03" font-size="8.2" text-anchor="end" font-weight="normal" fill="#000" stroke="#000" stroke-width="0.15" >2500</text>
<line x1="403.00" y1="335.84" x2="406.40" y2="335.84" stroke="#000" stroke-width="1.25" />
<text x="400.80" y="338.67" font-size="8.2" text-anchor="end" font-weight="normal" fill="#000" stroke="#000" stroke-width="0.15" >3000</text>
<line x1="403.00" y1="323.48" x2="406.40" y2="323.48" stroke="#000" stroke-width="1.25" />
<text x="400.80" y="326.31" font-size="8.2" text-anchor="end" font-weight="normal" fill="#000" stroke="#000" stroke-width="0.15" >3500</text>
<line x1="405.80" y1="410.00" x2="471.50" y2="410.00" stroke="#000" stroke-width="1.25" />
<line x1="406.40" y1="410.00" x2="406.40" y2="413.00" stroke="#000" stroke-width="1.25" />
<line x1="437.00" y1="410.00" x2="437.00" y2="413.00" stroke="#000" stroke-width="1.25" />
<line x1="469.00" y1="410.00" x2="469.00" y2="413.00" stroke="#000" stroke-width="1.25" />
<rect x="411.00" y="341.10" width="20.80" height="68.90" fill="#000" stroke="none" stroke-width="1" />
<rect x="442.30" y="357.40" width="20.70" height="52.60" fill="#000" stroke="none" stroke-width="1" />
<line x1="421.50" y1="342.10" x2="421.50" y2="329.20" stroke="#000" stroke-width="1.25" />
<line x1="416.50" y1="329.20" x2="426.50" y2="329.20" stroke="#000" stroke-width="1.25" />
<line x1="452.60" y1="358.40" x2="452.60" y2="347.20" stroke="#000" stroke-width="1.25" />
<line x1="447.85" y1="347.20" x2="457.35" y2="347.20" stroke="#000" stroke-width="1.25" />
<path d="M421.5,329.2 L421.5,325.4 L452.6,325.4 L452.6,347.2" stroke="#000" stroke-width="1.25" fill="none" />
<text x="437.20" y="324.30" font-size="8.5" text-anchor="middle" font-weight="normal" fill="#000" stroke="#000" stroke-width="0.15" >*</text>
<text x="421.70" y="424.86" font-size="8.3" text-anchor="middle" font-weight="normal" fill="#000" stroke="#000" stroke-width="0.15" >16m</text>
<text x="452.70" y="424.86" font-size="8.3" text-anchor="middle" font-weight="normal" fill="#000" stroke="#000" stroke-width="0.15" >16m+NAC</text>
<text transform="translate(375.50,365.5) rotate(-90)" font-size="9.0" text-anchor="middle" stroke="#000" stroke-width="0.15">Average area/MK (μm<tspan dy="-3.2" font-size="5.8">2</tspan><tspan dy="3.2">)</tspan></text>
<text x="7.27" y="451.56" font-size="13.5" font-weight="bold" stroke="#000" stroke-width="0.35">G</text>
<line x1="42.20" y1="461.41" x2="42.20" y2="549.10" stroke="#000" stroke-width="1.25" />
<line x1="38.80" y1="548.50" x2="42.20" y2="548.50" stroke="#000" stroke-width="1.25" />
<text x="36.60" y="551.36" font-size="8.3" text-anchor="end" font-weight="normal" fill="#000" stroke="#000" stroke-width="0.15" >0</text>
<line x1="38.80" y1="536.13" x2="42.20" y2="536.13" stroke="#000" stroke-width="1.25" />
<text x="36.60" y="538.99" font-size="8.3" text-anchor="end" font-weight="normal" fill="#000" stroke="#000" stroke-width="0.15" >100</text>
<line x1="38.80" y1="523.76" x2="42.20" y2="523.76" stroke="#000" stroke-width="1.25" />
<text x="36.60" y="526.62" font-size="8.3" text-anchor="end" font-weight="normal" fill="#000" stroke="#000" stroke-width="0.15" >200</text>
<line x1="38.80" y1="511.39" x2="42.20" y2="511.39" stroke="#000" stroke-width="1.25" />
<text x="36.60" y="514.25" font-size="8.3" text-anchor="end" font-weight="normal" fill="#000" stroke="#000" stroke-width="0.15" >300</text>
<line x1="38.80" y1="499.02" x2="42.20" y2="499.02" stroke="#000" stroke-width="1.25" />
<text x="36.60" y="501.88" font-size="8.3" text-anchor="end" font-weight="normal" fill="#000" stroke="#000" stroke-width="0.15" >400</text>
<line x1="38.80" y1="486.65" x2="42.20" y2="486.65" stroke="#000" stroke-width="1.25" />
<text x="36.60" y="489.51" font-size="8.3" text-anchor="end" font-weight="normal" fill="#000" stroke="#000" stroke-width="0.15" >500</text>
<line x1="38.80" y1="474.28" x2="42.20" y2="474.28" stroke="#000" stroke-width="1.25" />
<text x="36.60" y="477.14" font-size="8.3" text-anchor="end" font-weight="normal" fill="#000" stroke="#000" stroke-width="0.15" >600</text>
<line x1="38.80" y1="461.91" x2="42.20" y2="461.91" stroke="#000" stroke-width="1.25" />
<text x="36.60" y="464.77" font-size="8.3" text-anchor="end" font-weight="normal" fill="#000" stroke="#000" stroke-width="0.15" >700</text>
<line x1="41.60" y1="548.50" x2="115.40" y2="548.50" stroke="#000" stroke-width="1.25" />
<line x1="80.80" y1="548.50" x2="80.80" y2="551.50" stroke="#000" stroke-width="1.25" />
<rect x="48.90" y="515.70" width="12.30" height="32.80" fill="#c0c0c0" stroke="none" stroke-width="1" />
<rect x="61.20" y="517.80" width="12.20" height="30.70" fill="#000" stroke="none" stroke-width="1" />
<rect x="87.20" y="479.70" width="12.00" height="68.80" fill="#c0c0c0" stroke="none" stroke-width="1" />
<rect x="99.20" y="528.20" width="12.80" height="20.30" fill="#000" stroke="none" stroke-width="1" />
<line x1="55.00" y1="516.70" x2="55.00" y2="512.70" stroke="#000" stroke-width="1.25" />
<line x1="51.50" y1="512.70" x2="58.50" y2="512.70" stroke="#000" stroke-width="1.25" />
<line x1="67.30" y1="518.80" x2="67.30" y2="514.50" stroke="#000" stroke-width="1.25" />
<line x1="63.80" y1="514.50" x2="70.80" y2="514.50" stroke="#000" stroke-width="1.25" />
<line x1="93.20" y1="480.70" x2="93.20" y2="473.70" stroke="#000" stroke-width="1.25" />
<line x1="89.70" y1="473.70" x2="96.70" y2="473.70" stroke="#000" stroke-width="1.25" />
<line x1="105.60" y1="529.20" x2="105.60" y2="526.30" stroke="#000" stroke-width="1.25" />
<line x1="102.10" y1="526.30" x2="109.10" y2="526.30" stroke="#000" stroke-width="1.25" />
<path d="M51.2,512.7 L51.2,469.3 L105.7,469.3 L105.7,526.3" stroke="#000" stroke-width="1.25" fill="none" />
<text x="71.50" y="467.80" font-size="8.5" text-anchor="middle" font-weight="normal" fill="#000" stroke="#000" stroke-width="0.15" >**</text>
<text x="99.70" y="467.80" font-size="8.5" text-anchor="middle" font-weight="normal" fill="#000" stroke="#000" stroke-width="0.15" >**</text>
<text x="61.20" y="562.86" font-size="8.3" text-anchor="middle" font-weight="normal" fill="#000" stroke="#000" stroke-width="0.15" >4m</text>
<text x="99.20" y="562.86" font-size="8.3" text-anchor="middle" font-weight="normal" fill="#000" stroke="#000" stroke-width="0.15" >16m</text>
<text transform="translate(15.70,504.20) rotate(-90)" font-size="9.0" text-anchor="middle" font-weight="normal" fill="#000" stroke="#000" stroke-width="0.15" >PF4 level (ng/mL)</text>
<rect x="116.80" y="463.50" width="10.10" height="4.70" fill="#c0c0c0" stroke="none" stroke-width="1" />
<rect x="116.80" y="474.90" width="10.10" height="4.70" fill="#000" stroke="none" stroke-width="1" />
<text x="129.60" y="468.62" font-size="7.6" text-anchor="start" font-weight="normal" fill="#000" stroke="#000" stroke-width="0.15" >CON</text>
<text x="129.60" y="479.62" font-size="7.6" text-anchor="start" font-weight="normal" fill="#000" stroke="#000" stroke-width="0.15" >NAC</text>
<text x="162.84" y="451.51" font-size="13.5" font-weight="bold" stroke="#000" stroke-width="0.35">H</text>
<line x1="176.90" y1="459.00" x2="176.90" y2="626.20" stroke="#000" stroke-width="1.3" />
<path d="M174.3,461.8 L176.9,455.6 L179.5,461.8 Z" stroke="#000" stroke-width="0" fill="#000" />
<line x1="176.30" y1="625.60" x2="345.50" y2="625.60" stroke="#000" stroke-width="1.3" />
<path d="M342.6,623 L348.8,625.6 L342.6,628.2 Z" stroke="#000" stroke-width="0" fill="#000" />
<text x="260.80" y="638.85" font-size="10.0" text-anchor="middle" font-weight="normal" fill="#000" stroke="#000" stroke-width="0.15" >CF62P-FITC</text>
<text transform="translate(171.88,542.7) rotate(-90)" font-size="9.8" text-anchor="middle" stroke="#000" stroke-width="0.15">αIIbβ3 (activ.)-PE</text>
<rect x="188.50" y="457.30" width="74.10" height="71.50" fill="none" stroke="#8c8c8c" stroke-width="0.9" />
<path d="M190.0 527.2v1.6M192.6 527.2v1.6M195.2 527.2v1.6M197.8 527.2v1.6M200.4 527.2v1.6M203.0 527.2v1.6M205.6 527.2v1.6M208.2 527.2v1.6M210.8 527.2v1.6M213.4 527.2v1.6M216.0 527.2v1.6M218.6 527.2v1.6M221.2 527.2v1.6M223.8 527.2v1.6M226.4 527.2v1.6M229.0 527.2v1.6M231.6 527.2v1.6M234.2 527.2v1.6M236.8 527.2v1.6M239.4 527.2v1.6M242.0 527.2v1.6M244.6 527.2v1.6M247.2 527.2v1.6M249.8 527.2v1.6M252.4 527.2v1.6M255.0 527.2v1.6M257.6 527.2v1.6M188.5 458.8h1.6M188.5 461.4h1.6M188.5 464.0h1.6M188.5 466.6h1.6M188.5 469.2h1.6M188.5 471.8h1.6M188.5 474.4h1.6M188.5 477.0h1.6M188.5 479.6h1.6M188.5 482.2h1.6M188.5 484.8h1.6M188.5 487.4h1.6M188.5 490.0h1.6M188.5 492.6h1.6M188.5 495.2h1.6M188.5 497.8h1.6M188.5 500.4h1.6M188.5 503.0h1.6M188.5 505.6h1.6M188.5 508.2h1.6M188.5 510.8h1.6M188.5 513.4h1.6M188.5 516.0h1.6M188.5 518.6h1.6M188.5 521.2h1.6M188.5 523.8h1.6" stroke="#555" stroke-width="0.6"/>
<text x="191.50" y="467.61" font-size="9.6" text-anchor="start" font-weight="normal" fill="#000" stroke="#000" stroke-width="0.15" >4m</text>
<rect x="204.00" y="477.60" width="47.50" height="36.60" fill="none" stroke="#c08484" stroke-width="0.9" />
<text x="227.75" y="475.60" font-size="4.8" text-anchor="middle" fill="#cc2a2a" stroke="#cc2a2a" stroke-width="0.12">P3(46.66%)</text>
<text x="194.50" y="536.40" font-size="5.2" text-anchor="middle" fill="#222">0</text>
<text x="216.00" y="536.40" font-size="5.2" text-anchor="middle" fill="#222">10<tspan dy="-1.5" font-size="3.2">3</tspan></text>
<text x="239.50" y="536.40" font-size="5.2" text-anchor="middle" fill="#222">10<tspan dy="-1.5" font-size="3.2">4</tspan></text>
<text x="261.00" y="536.40" font-size="5.2" text-anchor="middle" fill="#222">10<tspan dy="-1.5" font-size="3.2">5</tspan></text>
<text transform="translate(185.50,521.80) rotate(-90)" font-size="5.2" text-anchor="middle" fill="#222">0</text>
<text transform="translate(185.50,500.80) rotate(-90)" font-size="5.2" text-anchor="middle" fill="#222">10<tspan dy="-1.5" font-size="3.2">3</tspan></text>
<text transform="translate(185.50,478.80) rotate(-90)" font-size="5.2" text-anchor="middle" fill="#222">10<tspan dy="-1.5" font-size="3.2">4</tspan></text>
<text transform="translate(185.50,458.80) rotate(-90)" font-size="5.2" text-anchor="middle" fill="#222">10<tspan dy="-1.5" font-size="3.2">5</tspan></text>
<path d="M216.5 503.5h0M205.6 507.6h0M198.5 515.4h0M197.3 512.9h0M207.5 508.0h0M208.7 504.6h0M206.0 508.9h0M196.3 518.5h0M211.0 510.4h0M207.2 507.6h0M214.7 502.1h0M211.8 503.2h0M208.7 509.1h0M210.9 505.1h0M199.1 515.9h0M207.4 509.5h0M208.8 509.2h0M205.9 509.6h0M209.3 503.6h0M202.7 510.6h0M219.5 497.4h0M211.2 506.1h0M202.3 508.5h0M212.2 502.8h0M209.4 503.0h0M204.4 513.3h0M214.3 498.9h0M196.8 516.7h0M211.2 505.0h0M206.9 505.9h0M211.3 507.1h0M201.3 509.6h0M201.7 514.4h0M194.0 518.9h0M199.0 514.6h0M204.3 510.4h0M216.8 500.9h0M215.0 501.1h0M203.1 512.3h0M205.7 506.4h0M208.5 505.5h0M198.7 514.0h0M206.4 511.6h0M206.7 508.4h0M206.6 504.2h0M213.3 500.3h0M207.7 504.9h0M198.8 514.1h0M219.9 499.0h0M201.5 512.1h0M198.0 515.6h0M202.9 513.3h0M196.3 516.4h0M199.4 512.9h0M211.0 505.1h0M211.4 507.2h0M212.3 500.4h0M207.7 503.5h0M207.8 512.0h0M204.2 509.6h0M207.2 508.0h0M205.3 507.8h0M214.5 504.0h0M204.9 510.7h0M211.7 506.6h0M209.5 507.7h0M202.9 509.1h0M203.8 513.3h0M212.9 503.5h0M202.5 512.7h0M219.0 501.2h0M201.2 512.9h0M194.7 515.9h0M207.3 507.9h0M214.1 505.2h0M213.3 506.0h0M200.9 510.6h0M212.6 509.8h0M207.1 505.3h0M209.3 509.6h0M199.8 516.1h0M203.3 514.3h0M211.8 504.9h0M219.3 496.8h0M203.4 515.5h0M202.5 517.1h0M204.5 507.8h0M206.1 509.2h0M207.2 507.6h0M210.8 499.5h0M201.9 511.9h0M216.2 495.7h0M202.3 509.4h0M202.2 513.7h0M210.5 508.6h0M202.2 512.8h0M215.1 503.4h0M205.0 512.5h0M201.7 516.8h0M206.9 507.9h0M208.8 508.6h0M217.8 498.7h0M204.1 511.9h0M198.0 511.7h0M211.3 503.6h0M212.6 501.1h0M208.9 510.3h0M210.0 506.4h0M209.6 505.1h0M205.0 506.7h0M208.6 504.9h0M203.7 512.5h0M211.1 502.3h0M219.1 496.6h0M212.9 505.5h0M207.7 507.9h0M219.4 499.8h0M207.0 503.9h0M202.2 514.9h0M206.2 506.6h0M201.2 512.3h0M211.2 505.6h0M211.9 502.1h0M212.2 502.6h0M206.0 513.1h0M206.3 508.4h0M204.1 509.7h0M218.3 501.9h0M211.1 505.1h0M213.1 502.8h0M209.6 506.9h0M208.5 510.8h0M219.6 500.6h0M195.0 522.6h0M210.3 504.3h0M207.2 510.7h0M215.1 503.4h0" stroke="#e8a0a0" stroke-width="0.8" stroke-linecap="round" opacity="1.0"/>
<path d="M217.8 499.4h0M221.3 496.1h0M211.3 503.0h0M216.7 501.2h0M227.2 487.5h0M219.4 497.7h0M220.5 500.9h0M223.4 494.1h0M212.1 500.2h0M218.4 502.4h0M216.6 502.4h0M221.4 497.5h0M222.6 494.9h0M210.9 501.8h0M221.4 495.2h0M216.5 502.8h0M215.3 506.5h0M219.8 496.1h0M215.1 504.7h0M209.8 504.3h0M217.3 500.3h0M217.6 500.6h0M214.9 501.4h0M224.7 495.4h0M217.0 504.9h0M206.5 509.1h0M222.0 498.6h0M217.1 498.8h0M219.9 497.0h0M215.5 493.1h0M217.9 496.9h0M223.1 497.0h0M220.3 496.0h0M218.8 497.5h0M218.0 498.8h0M215.1 507.3h0M218.0 493.3h0M219.8 493.6h0M214.9 500.1h0M214.5 502.8h0M213.2 499.0h0M217.5 500.6h0M225.9 491.3h0M210.1 504.7h0M219.2 495.6h0M213.9 504.2h0M217.3 500.4h0M212.5 501.4h0M215.0 501.2h0M215.8 502.2h0M220.7 498.5h0M218.3 496.3h0M212.1 506.4h0M217.2 500.1h0M210.5 504.9h0M212.4 501.4h0M211.5 500.3h0M219.1 501.6h0M213.3 503.4h0M212.1 506.1h0M225.2 489.5h0M217.8 503.4h0M219.1 498.5h0M205.8 509.0h0M224.0 498.3h0M219.6 496.1h0M210.7 500.0h0M212.8 506.7h0M214.5 498.3h0M221.7 491.2h0M223.3 493.8h0M219.8 499.6h0M220.2 501.0h0M216.6 499.4h0M211.4 500.6h0M214.7 504.8h0M223.4 498.6h0M232.6 488.9h0M217.8 495.5h0M218.8 504.8h0M219.6 497.4h0M216.0 495.4h0M210.7 501.6h0M206.6 510.9h0M221.9 495.3h0M217.4 496.7h0M220.5 499.2h0M227.4 495.7h0M219.4 497.6h0M211.7 502.7h0M221.1 498.2h0M219.5 502.7h0M220.5 497.1h0M216.1 501.0h0M210.5 502.6h0M218.0 497.4h0M217.3 503.3h0M217.8 503.1h0M219.1 502.6h0M217.0 494.9h0M223.3 494.1h0M206.6 509.0h0M216.0 497.1h0M214.5 503.7h0M226.2 495.6h0M225.1 496.4h0M202.7 510.0h0M214.2 494.6h0M222.4 498.0h0M212.3 502.9h0M211.9 504.2h0M216.8 500.2h0M212.1 505.3h0M216.5 503.1h0M216.6 496.1h0M209.4 506.6h0M215.1 503.0h0M221.3 496.4h0M206.3 505.6h0M218.6 495.7h0M222.8 494.8h0M218.5 496.2h0M212.3 495.5h0M216.7 501.9h0M211.0 502.6h0M216.8 500.3h0M213.6 504.8h0M209.8 509.3h0M208.3 504.9h0M222.7 492.3h0M208.3 507.6h0M210.5 502.3h0M212.2 501.9h0M210.3 502.7h0M224.7 491.6h0M220.2 493.3h0M218.1 495.4h0M215.4 503.1h0M211.4 499.1h0M213.8 502.2h0M218.7 495.7h0M215.5 501.5h0M208.0 507.3h0M213.2 504.5h0M216.2 500.2h0M203.9 510.7h0M213.7 500.1h0M212.5 500.2h0M218.9 500.3h0M219.5 496.4h0M227.2 493.9h0M211.7 504.0h0M208.1 507.1h0M222.6 498.9h0M212.2 498.9h0M218.0 503.1h0M219.6 501.5h0M223.6 498.9h0M219.3 496.2h0M223.0 502.3h0" stroke="#ee3030" stroke-width="0.9" stroke-linecap="round" opacity="1.0"/>
<path d="M194.6 515.2h0M204.8 511.0h0M195.5 516.9h0M194.0 520.8h0M197.8 514.9h0M196.3 516.6h0M201.1 513.0h0M201.4 511.5h0M195.7 517.0h0M196.3 517.3h0M202.3 514.7h0M196.0 520.2h0M199.8 517.6h0M196.7 515.5h0M201.0 514.7h0M196.6 517.2h0M198.7 516.0h0M191.6 519.0h0M198.4 516.2h0M194.7 515.3h0M201.8 512.2h0M196.3 520.5h0M202.5 514.3h0M201.1 514.5h0M195.1 518.5h0M199.7 515.8h0M198.5 513.6h0M195.8 517.2h0M196.6 515.5h0M191.2 519.3h0M198.9 515.2h0M198.0 512.3h0M197.6 518.1h0M191.0 519.8h0M194.1 521.7h0M197.5 515.3h0M198.4 515.5h0M201.9 515.0h0M201.1 514.0h0M201.1 515.0h0" stroke="#d0a0a0" stroke-width="0.7" stroke-linecap="round" opacity="1.0"/>
<path d="M0,0 C0,-3.24 2.65,-3.60 6.61,-3.60 C14.88,-3.60 26.46,-1.26 33.07,0 C26.46,1.26 14.88,3.60 6.61,3.60 C2.65,3.60 0,3.24 0,0 Z" transform="translate(206.50,512.30) rotate(-40.1)" fill="#ee1010" opacity="1.0" filter="url(#bl3)"/>
<ellipse cx="194.20" cy="521.30" rx="3.60" ry="4.50" transform="rotate(30.0 194.20 521.30)" fill="#ee1010" opacity="1.0" filter="url(#bl3)"/>
<rect x="272.70" y="457.30" width="73.90" height="71.50" fill="none" stroke="#8c8c8c" stroke-width="0.9" />
<path d="M274.2 527.2v1.6M276.8 527.2v1.6M279.4 527.2v1.6M282.0 527.2v1.6M284.6 527.2v1.6M287.2 527.2v1.6M289.8 527.2v1.6M292.4 527.2v1.6M295.0 527.2v1.6M297.6 527.2v1.6M300.2 527.2v1.6M302.8 527.2v1.6M305.4 527.2v1.6M308.0 527.2v1.6M310.6 527.2v1.6M313.2 527.2v1.6M315.8 527.2v1.6M318.4 527.2v1.6M321.0 527.2v1.6M323.6 527.2v1.6M326.2 527.2v1.6M328.8 527.2v1.6M331.4 527.2v1.6M334.0 527.2v1.6M336.6 527.2v1.6M339.2 527.2v1.6M341.8 527.2v1.6M272.7 458.8h1.6M272.7 461.4h1.6M272.7 464.0h1.6M272.7 466.6h1.6M272.7 469.2h1.6M272.7 471.8h1.6M272.7 474.4h1.6M272.7 477.0h1.6M272.7 479.6h1.6M272.7 482.2h1.6M272.7 484.8h1.6M272.7 487.4h1.6M272.7 490.0h1.6M272.7 492.6h1.6M272.7 495.2h1.6M272.7 497.8h1.6M272.7 500.4h1.6M272.7 503.0h1.6M272.7 505.6h1.6M272.7 508.2h1.6M272.7 510.8h1.6M272.7 513.4h1.6M272.7 516.0h1.6M272.7 518.6h1.6M272.7 521.2h1.6M272.7 523.8h1.6" stroke="#555" stroke-width="0.6"/>
<text x="275.70" y="467.61" font-size="9.6" text-anchor="start" font-weight="normal" fill="#000" stroke="#000" stroke-width="0.15" >4m+NAC</text>
<rect x="290.80" y="478.00" width="46.90" height="33.20" fill="none" stroke="#c08484" stroke-width="0.9" />
<text x="314.25" y="476.00" font-size="4.8" text-anchor="middle" fill="#cc2a2a" stroke="#cc2a2a" stroke-width="0.12">P3(52.73%)</text>
<text x="278.70" y="536.40" font-size="5.2" text-anchor="middle" fill="#222">0</text>
<text x="300.20" y="536.40" font-size="5.2" text-anchor="middle" fill="#222">10<tspan dy="-1.5" font-size="3.2">3</tspan></text>
<text x="323.70" y="536.40" font-size="5.2" text-anchor="middle" fill="#222">10<tspan dy="-1.5" font-size="3.2">4</tspan></text>
<text x="345.20" y="536.40" font-size="5.2" text-anchor="middle" fill="#222">10<tspan dy="-1.5" font-size="3.2">5</tspan></text>
<text transform="translate(269.70,521.80) rotate(-90)" font-size="5.2" text-anchor="middle" fill="#222">0</text>
<text transform="translate(269.70,500.80) rotate(-90)" font-size="5.2" text-anchor="middle" fill="#222">10<tspan dy="-1.5" font-size="3.2">3</tspan></text>
<text transform="translate(269.70,478.80) rotate(-90)" font-size="5.2" text-anchor="middle" fill="#222">10<tspan dy="-1.5" font-size="3.2">4</tspan></text>
<text transform="translate(269.70,458.80) rotate(-90)" font-size="5.2" text-anchor="middle" fill="#222">10<tspan dy="-1.5" font-size="3.2">5</tspan></text>
<path d="M307.0 497.2h0M295.0 510.0h0M295.5 504.5h0M287.9 513.0h0M283.2 516.6h0M288.0 514.4h0M286.4 518.1h0M283.1 509.1h0M299.6 504.3h0M287.3 516.8h0M293.7 510.8h0M286.4 517.3h0M283.7 523.7h0M283.0 518.9h0M292.5 512.3h0M291.1 514.4h0M289.1 512.6h0M299.9 501.8h0M287.0 509.1h0M290.1 507.8h0M283.8 526.2h0M295.7 508.4h0M289.7 508.7h0M284.3 519.5h0M276.6 525.4h0M279.0 522.9h0M286.0 522.4h0M297.1 505.5h0M276.4 522.1h0M288.9 510.9h0M294.5 512.8h0M289.8 512.0h0M295.9 507.3h0M296.3 506.9h0M301.7 502.5h0M283.6 518.9h0M284.9 514.4h0M291.2 514.7h0M275.7 525.2h0M289.6 513.1h0M294.4 505.2h0M295.2 508.2h0M291.4 511.4h0M287.8 513.4h0M297.3 514.1h0M299.8 507.9h0M294.2 508.2h0M298.7 512.9h0M283.5 521.6h0M298.7 507.0h0M299.0 510.4h0M308.8 501.9h0M303.4 503.2h0M297.4 507.8h0M292.7 509.7h0M298.5 511.1h0M290.8 513.7h0M295.9 508.6h0M298.5 507.2h0M281.7 517.1h0M297.7 509.1h0M299.7 506.2h0M290.5 507.9h0M299.9 502.2h0M297.1 503.8h0M287.3 516.3h0M287.6 513.3h0M299.1 508.2h0M293.9 509.2h0M285.3 516.0h0M288.1 515.1h0M296.8 507.3h0M285.3 515.5h0M301.0 504.9h0M293.9 511.2h0M296.2 508.9h0M301.3 506.8h0M310.2 492.4h0M294.6 513.4h0M294.1 514.6h0M281.2 517.0h0M289.5 511.7h0M285.5 519.4h0M293.9 510.5h0M289.6 514.9h0M290.0 511.3h0M296.1 509.7h0M293.7 512.9h0M284.1 518.1h0M290.5 517.6h0M298.9 513.1h0M302.2 502.2h0M285.2 519.3h0M289.8 513.3h0M285.7 519.3h0M293.9 511.7h0M292.7 508.5h0M276.1 524.5h0M286.8 514.7h0M298.4 506.2h0M302.7 503.6h0M297.6 509.0h0M295.5 504.9h0M299.7 505.9h0M286.3 518.8h0M296.5 512.5h0M297.6 508.5h0M283.5 524.7h0M303.5 504.9h0M297.1 511.7h0M287.2 518.4h0M290.5 510.0h0M295.1 510.5h0M305.3 503.9h0M277.8 517.5h0M291.1 512.1h0M283.2 514.6h0M288.8 510.9h0M288.6 517.7h0M292.4 509.2h0M284.0 518.2h0M303.1 501.0h0M302.6 500.5h0M291.7 514.5h0M286.8 516.6h0M283.7 521.1h0M298.9 504.0h0M292.6 510.1h0M297.7 509.9h0M294.9 510.1h0M305.4 494.8h0M289.2 513.0h0M291.7 514.5h0M284.9 513.6h0M285.0 519.4h0M299.8 508.0h0M302.2 501.7h0M299.9 507.6h0M289.6 511.5h0M296.9 505.6h0M288.4 511.8h0M303.9 501.8h0M288.2 514.4h0M290.6 513.5h0M278.4 519.7h0M297.2 511.1h0M285.2 518.1h0" stroke="#e8a0a0" stroke-width="0.8" stroke-linecap="round" opacity="1.0"/>
<path d="M294.1 503.5h0M297.1 504.9h0M303.0 502.8h0M297.5 503.3h0M297.4 501.8h0M303.1 507.9h0M296.7 511.5h0M305.0 501.1h0M304.4 502.6h0M294.9 503.7h0M293.5 506.6h0M309.5 498.8h0M297.1 504.0h0M304.7 498.2h0M307.4 503.3h0M299.2 504.5h0M297.7 503.6h0M305.2 507.1h0M305.1 505.1h0M297.8 508.8h0M295.3 508.4h0M306.8 508.4h0M300.3 505.8h0M293.0 512.4h0M294.2 506.2h0M294.5 511.1h0M299.6 508.6h0M299.1 506.8h0M306.9 502.8h0M305.3 506.4h0M299.2 503.4h0M294.4 505.6h0M300.7 504.1h0M303.3 505.9h0M297.2 509.0h0M305.0 502.1h0M303.3 502.6h0M296.0 508.6h0M293.9 513.5h0M300.2 510.3h0M295.5 510.2h0M301.0 504.5h0M300.2 503.3h0M293.6 506.8h0M296.5 506.3h0M300.3 504.5h0M296.3 506.7h0M292.1 511.5h0M299.4 502.1h0M300.1 508.1h0M297.6 508.6h0M302.3 512.1h0M307.3 503.7h0M298.4 509.5h0M299.9 507.2h0M298.0 508.2h0M297.5 509.1h0M304.6 497.6h0M295.7 511.3h0M302.5 502.7h0M303.0 504.9h0M304.4 506.9h0M298.6 509.4h0M299.7 504.0h0M299.8 501.8h0M296.0 512.9h0M298.5 512.9h0M303.2 501.6h0M292.9 504.6h0M297.0 503.1h0M303.3 497.6h0M295.8 500.5h0M300.8 509.7h0M296.9 505.9h0M298.7 508.3h0M303.1 502.6h0M292.5 513.3h0M307.6 507.3h0M300.9 505.8h0M299.1 509.3h0M305.2 498.2h0M298.6 503.7h0M297.0 507.9h0M300.5 502.8h0M301.1 509.7h0M303.1 505.7h0M301.2 504.3h0M302.5 505.6h0M301.7 508.0h0M301.5 507.8h0M301.3 507.4h0M296.4 507.1h0M297.4 512.2h0M302.3 504.7h0M301.0 502.3h0M299.5 504.7h0M292.2 511.6h0M298.9 511.7h0M296.0 507.3h0M303.8 502.8h0M295.1 510.9h0M299.8 511.8h0M294.6 508.0h0M288.1 513.7h0M307.1 499.6h0M296.7 509.7h0M298.8 506.9h0M313.0 501.7h0M309.0 504.0h0M293.1 505.2h0M303.5 504.3h0M299.9 505.6h0M303.7 504.7h0M301.8 506.1h0M298.6 505.9h0M305.0 500.9h0M308.8 500.7h0M302.1 508.0h0M297.7 507.3h0M298.6 507.1h0M306.1 507.8h0M300.3 502.2h0M293.8 505.2h0M304.3 505.3h0M301.9 505.6h0M302.8 505.1h0M302.9 504.3h0M297.7 511.1h0M302.5 498.4h0M297.2 504.5h0M301.5 503.8h0M307.4 503.5h0M297.4 506.6h0M298.6 509.1h0M297.1 509.9h0M296.2 512.7h0M299.9 502.2h0M297.1 508.9h0M296.4 499.5h0M303.3 508.3h0M296.0 504.8h0M305.1 502.5h0M301.8 506.6h0M294.1 508.7h0M293.7 507.5h0M297.0 505.0h0M307.1 501.7h0M300.5 500.0h0M298.9 506.4h0M301.3 506.3h0" stroke="#ee3030" stroke-width="0.9" stroke-linecap="round" opacity="1.0"/>
<path d="M0,0 C0,-3.38 1.63,-3.75 4.08,-3.75 C9.18,-3.75 16.32,-1.31 20.40,0 C16.32,1.31 9.18,3.75 4.08,3.75 C1.63,3.75 0,3.38 0,0 Z" transform="translate(292.50,511.50) rotate(-36.0)" fill="#ee1010" opacity="1.0" filter="url(#bl3)"/>
<ellipse cx="280.00" cy="520.00" rx="3.00" ry="5.20" transform="rotate(15.0 280.00 520.00)" fill="#ee1010" opacity="1.0" filter="url(#bl3)"/>
<rect x="188.20" y="538.80" width="74.40" height="74.00" fill="none" stroke="#8c8c8c" stroke-width="0.9" />
<path d="M189.7 611.2v1.6M192.3 611.2v1.6M194.9 611.2v1.6M197.5 611.2v1.6M200.1 611.2v1.6M202.7 611.2v1.6M205.3 611.2v1.6M207.9 611.2v1.6M210.5 611.2v1.6M213.1 611.2v1.6M215.7 611.2v1.6M218.3 611.2v1.6M220.9 611.2v1.6M223.5 611.2v1.6M226.1 611.2v1.6M228.7 611.2v1.6M231.3 611.2v1.6M233.9 611.2v1.6M236.5 611.2v1.6M239.1 611.2v1.6M241.7 611.2v1.6M244.3 611.2v1.6M246.9 611.2v1.6M249.5 611.2v1.6M252.1 611.2v1.6M254.7 611.2v1.6M257.3 611.2v1.6M188.2 540.3h1.6M188.2 542.9h1.6M188.2 545.5h1.6M188.2 548.1h1.6M188.2 550.7h1.6M188.2 553.3h1.6M188.2 555.9h1.6M188.2 558.5h1.6M188.2 561.1h1.6M188.2 563.7h1.6M188.2 566.3h1.6M188.2 568.9h1.6M188.2 571.5h1.6M188.2 574.1h1.6M188.2 576.7h1.6M188.2 579.3h1.6M188.2 581.9h1.6M188.2 584.5h1.6M188.2 587.1h1.6M188.2 589.7h1.6M188.2 592.3h1.6M188.2 594.9h1.6M188.2 597.5h1.6M188.2 600.1h1.6M188.2 602.7h1.6M188.2 605.3h1.6M188.2 607.9h1.6" stroke="#555" stroke-width="0.6"/>
<text x="191.20" y="549.11" font-size="9.6" text-anchor="start" font-weight="normal" fill="#000" stroke="#000" stroke-width="0.15" >16m</text>
<rect x="206.50" y="559.60" width="49.00" height="37.50" fill="none" stroke="#c08484" stroke-width="0.9" />
<text x="231.00" y="557.60" font-size="4.8" text-anchor="middle" fill="#cc2a2a" stroke="#cc2a2a" stroke-width="0.12">P3(74.30%)</text>
<text x="194.20" y="620.40" font-size="5.2" text-anchor="middle" fill="#222">0</text>
<text x="215.70" y="620.40" font-size="5.2" text-anchor="middle" fill="#222">10<tspan dy="-1.5" font-size="3.2">3</tspan></text>
<text x="239.20" y="620.40" font-size="5.2" text-anchor="middle" fill="#222">10<tspan dy="-1.5" font-size="3.2">4</tspan></text>
<text x="260.70" y="620.40" font-size="5.2" text-anchor="middle" fill="#222">10<tspan dy="-1.5" font-size="3.2">5</tspan></text>
<text transform="translate(185.20,605.80) rotate(-90)" font-size="5.2" text-anchor="middle" fill="#222">0</text>
<text transform="translate(185.20,584.80) rotate(-90)" font-size="5.2" text-anchor="middle" fill="#222">10<tspan dy="-1.5" font-size="3.2">3</tspan></text>
<text transform="translate(185.20,562.80) rotate(-90)" font-size="5.2" text-anchor="middle" fill="#222">10<tspan dy="-1.5" font-size="3.2">4</tspan></text>
<text transform="translate(185.20,542.80) rotate(-90)" font-size="5.2" text-anchor="middle" fill="#222">10<tspan dy="-1.5" font-size="3.2">5</tspan></text>
<path d="M212.2 595.1h0M204.0 601.4h0M207.7 595.3h0M224.7 582.0h0M210.5 595.3h0M218.6 586.7h0M213.4 588.9h0M206.7 595.8h0M198.1 600.5h0M197.3 604.2h0M208.3 594.7h0M209.0 591.7h0M209.7 594.8h0M214.8 588.0h0M204.6 593.8h0M203.6 594.2h0M200.4 604.7h0M194.1 609.3h0M212.1 591.5h0M214.1 591.8h0M217.7 586.9h0M204.8 597.0h0M202.4 600.3h0M205.2 600.5h0M194.4 604.5h0M200.3 597.3h0M221.8 578.4h0M207.2 595.1h0M220.4 580.6h0M217.3 586.1h0M208.0 594.1h0M213.6 588.3h0M209.8 595.0h0M221.3 578.8h0M222.8 585.5h0M206.7 597.5h0M208.3 599.3h0M211.4 592.4h0M208.0 595.2h0M207.6 593.9h0M223.5 578.1h0M209.3 595.5h0M208.3 595.1h0M213.7 593.2h0M206.1 596.4h0M225.5 582.2h0M205.2 603.5h0M215.3 588.2h0M201.4 602.0h0M202.4 597.9h0M199.5 601.7h0M218.0 586.3h0M199.7 604.3h0M211.5 594.7h0M219.0 586.0h0M208.8 594.9h0M202.1 602.2h0M220.7 585.4h0M207.9 595.2h0M203.1 597.9h0M206.0 595.4h0M204.8 594.6h0M212.7 591.8h0M198.5 598.3h0M211.2 595.6h0M203.8 598.1h0M206.4 598.6h0M204.1 601.3h0M208.8 597.2h0M210.0 593.5h0M197.9 602.6h0M208.8 596.6h0M211.1 591.5h0M214.3 592.7h0M208.4 594.4h0M207.9 597.7h0M213.0 589.3h0M212.3 590.9h0M205.7 600.5h0M215.4 587.7h0M211.2 594.2h0M205.0 598.0h0M213.0 587.2h0M213.4 592.9h0M212.3 588.9h0M211.4 590.8h0M215.1 591.2h0M210.8 591.6h0M206.5 599.0h0M203.7 600.5h0M213.6 590.3h0M228.4 578.7h0M224.1 577.4h0M194.0 609.8h0M214.5 589.5h0M207.4 591.7h0M204.0 596.6h0M209.3 596.6h0M210.8 594.2h0M204.2 597.9h0M210.5 592.9h0M218.7 584.6h0M223.3 580.5h0M217.2 586.1h0M222.8 583.6h0M213.9 592.5h0M203.9 596.7h0M195.9 608.7h0M204.0 597.7h0M212.1 596.9h0M197.1 605.5h0M207.6 597.3h0M195.8 605.0h0M218.2 590.7h0M221.2 582.5h0M210.3 593.5h0M197.8 600.9h0M216.1 589.5h0M210.3 596.6h0M202.9 601.2h0M210.0 593.9h0M214.0 591.1h0M212.3 592.6h0M224.5 581.1h0M218.4 588.3h0M208.2 597.3h0M204.8 601.1h0M203.2 598.5h0M213.4 593.1h0M218.0 589.4h0M207.3 594.0h0M214.6 590.9h0M203.8 601.5h0M210.4 591.4h0M211.8 589.3h0M203.8 600.2h0M198.1 604.1h0M200.5 603.7h0M204.6 598.9h0M198.1 603.2h0M217.8 588.5h0M197.0 607.1h0M216.4 587.7h0M219.6 583.4h0M210.6 596.1h0M221.5 587.3h0M199.6 598.6h0M211.3 589.5h0M207.5 593.1h0" stroke="#e8a0a0" stroke-width="0.8" stroke-linecap="round" opacity="1.0"/>
<path d="M226.4 581.6h0M222.5 582.5h0M219.3 584.3h0M221.9 583.7h0M221.3 582.2h0M230.1 576.9h0M228.9 581.1h0M212.3 586.0h0M225.7 578.6h0M219.6 584.2h0M218.4 582.3h0M218.3 584.6h0M216.0 581.0h0M224.4 581.9h0M209.2 591.5h0M220.6 586.0h0M221.6 587.4h0M218.1 583.1h0M217.0 589.4h0M217.5 589.2h0M225.8 581.4h0M224.7 580.1h0M218.6 584.0h0M213.9 585.0h0M214.9 585.6h0M212.1 591.7h0M221.4 582.3h0M228.2 580.5h0M224.2 579.2h0M212.3 592.7h0M222.2 584.9h0M223.6 585.3h0M218.9 587.5h0M211.3 585.0h0M219.3 589.6h0M212.0 594.3h0M215.3 587.4h0M220.0 585.2h0M214.5 589.6h0M223.1 584.5h0M217.8 591.1h0M233.3 580.6h0M212.6 591.4h0M210.1 594.0h0M220.8 580.5h0M211.3 592.5h0M221.7 580.8h0M214.4 581.7h0M215.9 588.4h0M222.7 587.1h0M210.1 586.2h0M221.0 581.9h0M222.1 585.0h0M224.9 584.8h0M224.3 576.0h0M222.1 588.8h0M218.8 588.5h0M218.6 584.5h0M229.5 579.7h0M219.5 587.7h0M211.4 589.6h0M224.4 581.0h0M214.5 590.6h0M223.2 585.8h0M224.2 580.2h0M216.7 586.9h0M220.4 588.6h0M230.0 580.2h0M221.2 582.9h0M223.8 580.3h0M218.3 581.0h0M219.4 589.4h0M211.8 587.0h0M221.1 588.7h0M226.7 577.8h0M216.8 587.0h0M214.6 589.3h0M215.7 583.8h0M216.0 587.2h0M213.2 586.9h0M227.2 584.3h0M217.3 585.5h0M221.8 582.3h0M217.4 591.0h0M212.8 588.4h0M214.6 586.4h0M219.1 587.1h0M228.2 579.7h0M217.8 582.6h0M217.8 583.6h0M220.4 587.2h0M220.3 583.7h0M215.4 588.4h0M218.7 582.9h0M218.1 588.8h0M210.0 591.7h0M215.5 593.0h0M223.5 583.2h0M222.0 583.7h0M218.7 580.9h0M221.8 584.9h0M213.1 592.9h0M220.8 579.3h0M216.5 586.6h0M217.3 588.1h0M212.3 590.4h0M221.8 585.3h0M219.4 584.4h0M220.2 578.4h0M224.0 580.2h0M212.2 589.9h0M206.7 589.7h0M216.6 585.1h0M222.1 580.1h0M211.1 589.2h0M228.7 577.3h0M214.8 586.0h0M213.4 589.7h0M223.5 585.1h0M226.0 580.3h0M214.7 586.5h0M205.6 593.6h0M221.2 582.5h0M219.5 581.0h0M224.7 581.5h0M220.3 585.5h0M206.7 594.1h0M217.4 592.2h0M217.8 584.9h0M222.5 579.3h0M226.1 577.3h0M217.8 583.7h0M220.6 577.5h0M222.0 580.4h0M218.1 582.8h0M221.0 584.3h0M223.1 582.9h0M224.3 583.9h0M215.7 584.7h0M213.7 592.0h0M219.0 588.5h0M218.2 583.0h0M227.2 584.3h0M217.1 584.2h0M216.3 590.4h0M215.8 586.9h0M223.2 581.9h0M219.3 583.5h0M216.3 588.2h0M221.2 585.3h0M217.3 587.9h0M222.2 583.0h0M224.1 584.2h0M220.7 584.2h0M214.8 589.9h0M218.5 584.9h0M215.9 589.7h0M233.8 574.2h0M220.6 585.4h0M216.5 587.8h0" stroke="#ee3030" stroke-width="0.9" stroke-linecap="round" opacity="1.0"/>
<path d="M197.4 601.0h0M200.9 599.7h0M198.9 599.4h0M199.8 598.1h0M202.0 597.6h0M200.8 600.9h0M200.5 597.1h0M199.6 601.1h0M194.3 600.0h0M199.7 600.1h0M201.4 599.0h0M200.6 599.9h0M204.7 597.0h0M201.3 598.2h0M203.3 596.9h0M200.2 595.7h0M200.7 599.3h0M199.8 602.7h0M201.1 598.8h0M200.2 603.5h0M202.9 598.8h0M198.9 603.5h0M201.4 598.3h0M198.1 598.4h0M200.9 597.1h0M202.2 597.3h0M198.5 602.0h0M199.6 598.2h0M200.4 600.9h0M197.9 599.1h0M198.3 599.5h0M198.3 601.5h0M199.6 599.9h0M195.3 604.6h0M199.0 600.0h0M202.3 601.8h0M194.5 601.5h0M201.6 597.1h0M203.0 595.5h0M199.3 602.2h0" stroke="#d0a0a0" stroke-width="0.7" stroke-linecap="round" opacity="1.0"/>
<path d="M0,0 C0,-3.51 2.43,-3.90 6.08,-3.90 C13.68,-3.90 24.32,-1.36 30.40,0 C24.32,1.36 13.68,3.90 6.08,3.90 C2.43,3.90 0,3.51 0,0 Z" transform="translate(207.00,595.50) rotate(-36.3)" fill="#ee1010" opacity="1.0" filter="url(#bl3)"/>
<ellipse cx="193.60" cy="605.60" rx="3.20" ry="3.70" transform="rotate(30.0 193.60 605.60)" fill="#ee1010" opacity="1.0" filter="url(#bl3)"/>
<rect x="272.70" y="538.60" width="74.50" height="75.00" fill="none" stroke="#8c8c8c" stroke-width="0.9" />
<path d="M274.2 612.0v1.6M276.8 612.0v1.6M279.4 612.0v1.6M282.0 612.0v1.6M284.6 612.0v1.6M287.2 612.0v1.6M289.8 612.0v1.6M292.4 612.0v1.6M295.0 612.0v1.6M297.6 612.0v1.6M300.2 612.0v1.6M302.8 612.0v1.6M305.4 612.0v1.6M308.0 612.0v1.6M310.6 612.0v1.6M313.2 612.0v1.6M315.8 612.0v1.6M318.4 612.0v1.6M321.0 612.0v1.6M323.6 612.0v1.6M326.2 612.0v1.6M328.8 612.0v1.6M331.4 612.0v1.6M334.0 612.0v1.6M336.6 612.0v1.6M339.2 612.0v1.6M341.8 612.0v1.6M272.7 540.1h1.6M272.7 542.7h1.6M272.7 545.3h1.6M272.7 547.9h1.6M272.7 550.5h1.6M272.7 553.1h1.6M272.7 555.7h1.6M272.7 558.3h1.6M272.7 560.9h1.6M272.7 563.5h1.6M272.7 566.1h1.6M272.7 568.7h1.6M272.7 571.3h1.6M272.7 573.9h1.6M272.7 576.5h1.6M272.7 579.1h1.6M272.7 581.7h1.6M272.7 584.3h1.6M272.7 586.9h1.6M272.7 589.5h1.6M272.7 592.1h1.6M272.7 594.7h1.6M272.7 597.3h1.6M272.7 599.9h1.6M272.7 602.5h1.6M272.7 605.1h1.6M272.7 607.7h1.6M272.7 610.3h1.6" stroke="#555" stroke-width="0.6"/>
<text x="275.70" y="548.91" font-size="9.6" text-anchor="start" font-weight="normal" fill="#000" stroke="#000" stroke-width="0.15" >16m+NAC</text>
<rect x="293.80" y="562.50" width="44.70" height="36.40" fill="none" stroke="#c08484" stroke-width="0.9" />
<text x="316.15" y="560.50" font-size="4.8" text-anchor="middle" fill="#cc2a2a" stroke="#cc2a2a" stroke-width="0.12">P3(16.61%)</text>
<text x="278.70" y="621.20" font-size="5.2" text-anchor="middle" fill="#222">0</text>
<text x="300.20" y="621.20" font-size="5.2" text-anchor="middle" fill="#222">10<tspan dy="-1.5" font-size="3.2">3</tspan></text>
<text x="323.70" y="621.20" font-size="5.2" text-anchor="middle" fill="#222">10<tspan dy="-1.5" font-size="3.2">4</tspan></text>
<text x="345.20" y="621.20" font-size="5.2" text-anchor="middle" fill="#222">10<tspan dy="-1.5" font-size="3.2">5</tspan></text>
<text transform="translate(269.70,606.60) rotate(-90)" font-size="5.2" text-anchor="middle" fill="#222">0</text>
<text transform="translate(269.70,585.60) rotate(-90)" font-size="5.2" text-anchor="middle" fill="#222">10<tspan dy="-1.5" font-size="3.2">3</tspan></text>
<text transform="translate(269.70,563.60) rotate(-90)" font-size="5.2" text-anchor="middle" fill="#222">10<tspan dy="-1.5" font-size="3.2">4</tspan></text>
<text transform="translate(269.70,543.60) rotate(-90)" font-size="5.2" text-anchor="middle" fill="#222">10<tspan dy="-1.5" font-size="3.2">5</tspan></text>
<path d="M293.3 600.9h0M289.2 603.8h0M299.9 595.0h0M302.1 587.8h0M291.1 597.8h0M285.6 604.6h0M294.6 599.6h0M300.5 602.2h0M295.3 590.5h0M292.3 597.2h0M290.7 606.5h0M286.3 596.7h0M293.8 597.3h0M281.1 605.3h0M287.2 604.0h0M288.9 602.9h0M304.4 586.2h0M285.3 604.6h0M298.9 591.2h0M300.3 587.6h0M284.0 606.5h0M284.1 604.0h0M296.9 598.9h0M292.3 598.6h0M303.1 592.3h0M292.7 604.5h0M285.4 606.2h0M297.0 595.7h0M288.3 604.6h0M286.6 602.0h0M286.9 609.8h0M290.2 606.4h0M294.4 596.9h0M297.7 596.4h0M290.2 595.8h0M294.4 601.7h0M297.8 599.3h0M304.2 591.4h0M304.0 583.6h0M285.0 595.4h0M298.5 594.9h0M304.2 588.2h0M279.1 605.5h0M292.0 602.7h0M288.5 603.7h0M291.7 600.7h0M296.8 596.6h0M291.6 596.4h0M292.0 601.8h0M299.7 593.0h0M293.4 600.2h0M296.8 596.8h0M289.0 600.4h0M301.2 593.5h0M299.3 608.4h0M300.5 596.4h0M291.1 596.5h0M300.5 592.5h0M294.5 602.2h0M300.3 594.0h0M296.5 605.0h0M294.3 593.8h0M298.1 595.5h0M293.7 601.5h0M297.9 603.4h0M294.1 599.3h0M299.7 591.1h0M299.6 593.3h0M299.3 590.3h0M291.9 593.4h0M288.7 602.9h0M299.9 601.6h0M303.3 584.9h0M288.8 607.9h0M292.5 593.8h0M293.4 594.1h0M282.8 602.4h0M294.6 607.2h0M294.7 597.3h0M310.3 582.7h0M290.3 600.3h0M294.6 596.5h0M302.5 589.9h0M296.8 596.9h0M283.4 603.1h0M286.9 594.7h0M292.3 600.1h0M292.9 598.9h0M294.0 596.9h0M293.6 591.9h0M297.2 592.0h0M294.8 595.7h0M287.1 600.8h0M300.0 588.7h0M283.2 608.3h0M294.1 598.4h0M283.3 604.6h0M296.8 591.7h0M298.2 597.8h0M290.5 596.2h0M306.8 588.1h0M292.7 597.8h0M284.2 605.4h0M291.8 596.7h0M295.3 602.1h0M295.1 597.0h0M301.9 595.5h0M297.3 592.3h0M291.7 598.7h0M294.8 595.8h0M291.0 608.4h0M281.6 612.2h0M303.4 597.8h0M295.0 599.6h0M285.1 605.9h0M274.8 612.1h0M291.6 599.9h0M290.8 605.9h0M280.2 610.5h0M289.1 602.6h0M296.4 604.4h0M286.6 610.1h0M302.4 590.7h0M284.8 600.9h0M289.7 610.5h0M290.6 609.1h0M291.7 594.7h0M288.5 603.8h0M291.0 596.9h0M288.9 600.7h0M296.3 597.6h0M292.5 597.1h0M296.9 593.6h0M284.8 604.3h0M288.9 601.3h0M299.5 599.2h0M290.5 604.4h0M293.6 598.8h0M304.5 587.0h0M292.8 592.1h0M296.0 596.0h0M283.1 605.1h0M287.9 592.5h0M302.3 595.4h0M283.2 601.2h0M278.7 605.9h0M290.7 610.1h0M285.0 609.1h0M299.6 589.7h0M291.4 603.4h0M289.6 607.2h0M308.3 586.1h0M287.0 606.7h0M293.0 596.0h0M291.1 601.1h0M298.2 599.6h0M285.6 599.9h0M288.0 601.7h0M313.1 586.9h0M308.8 585.1h0M285.7 603.1h0M297.8 596.8h0M299.7 603.0h0M300.1 588.6h0M296.6 598.6h0M291.1 610.4h0M302.1 597.8h0M285.6 600.6h0M297.4 594.7h0M287.4 603.5h0M293.9 599.0h0M291.4 602.5h0M316.6 584.2h0M292.3 608.3h0M285.1 599.3h0M277.2 603.9h0M298.5 589.9h0M279.9 607.8h0M287.8 598.3h0M287.6 603.7h0M294.9 593.5h0M296.7 597.1h0M295.0 595.2h0M285.0 609.9h0M295.0 594.6h0M287.3 606.8h0M308.1 587.9h0M311.9 584.5h0M295.6 599.0h0M297.1 589.3h0M295.7 602.2h0M280.4 610.7h0M301.2 599.4h0M303.9 589.8h0M305.5 583.9h0M284.0 612.3h0M294.7 592.9h0M302.1 595.1h0M296.6 594.2h0M278.6 604.1h0M290.0 601.0h0M286.9 602.0h0M296.7 591.2h0M290.4 609.7h0M285.8 602.6h0M296.4 588.7h0M301.8 586.4h0M282.9 602.3h0M283.1 604.4h0M299.0 593.8h0M304.1 593.0h0M282.4 608.1h0M286.4 602.9h0" stroke="#e8a0a0" stroke-width="0.8" stroke-linecap="round" opacity="1.0"/>
<path d="M299.1 592.4h0M296.1 586.3h0M296.6 591.6h0M304.7 585.5h0M297.8 592.1h0M299.0 587.2h0M297.2 592.2h0M297.5 591.6h0M296.0 593.9h0M295.6 599.5h0M294.8 588.4h0M298.5 594.8h0M296.9 592.4h0M291.5 602.3h0M294.9 587.9h0M298.7 596.4h0M296.9 587.8h0M296.2 594.3h0M306.3 585.8h0M300.2 589.0h0M296.4 589.8h0M290.6 593.6h0M297.8 596.4h0M299.8 594.5h0M301.2 589.8h0M299.7 597.9h0M304.4 590.8h0M310.1 586.9h0M299.5 592.0h0M303.9 594.7h0M291.0 591.7h0M296.1 593.6h0M297.3 595.8h0M300.2 590.0h0M301.5 595.6h0M308.6 589.0h0M298.6 595.7h0M290.5 592.1h0M306.1 588.2h0M303.0 592.7h0M304.9 587.2h0M300.1 592.3h0M301.6 589.6h0M297.1 601.3h0M294.2 593.2h0M300.3 589.9h0M304.2 595.1h0M302.8 586.4h0M299.2 590.8h0M301.4 586.1h0M291.6 591.7h0M300.7 591.1h0M302.3 591.3h0M292.8 595.1h0M296.0 597.9h0M299.0 586.3h0M300.4 590.5h0M299.8 593.0h0M295.3 593.3h0M294.4 592.8h0M296.1 597.7h0M300.0 589.6h0M295.6 601.9h0M298.6 592.3h0M303.5 593.3h0M293.0 588.2h0M296.9 592.9h0M298.4 596.8h0M296.9 594.1h0M296.3 596.1h0M296.9 595.9h0M298.9 591.9h0M296.6 587.7h0M296.8 593.9h0M298.7 595.6h0M300.3 587.7h0M302.3 587.7h0M302.3 592.6h0M292.5 593.9h0M297.5 591.7h0M292.8 598.7h0M299.1 591.8h0M300.5 592.4h0M295.5 595.3h0M295.7 592.4h0M296.8 597.2h0M287.6 598.4h0M300.2 589.1h0M297.4 596.2h0M294.1 594.4h0M298.8 589.6h0M296.3 593.8h0M300.3 587.0h0M300.0 590.1h0M294.6 590.4h0M305.7 587.5h0M298.6 590.5h0M303.2 585.5h0M292.9 593.7h0M298.5 592.8h0M290.9 599.0h0M300.9 593.2h0M299.3 596.0h0M304.9 584.4h0M298.8 594.8h0M302.7 588.1h0M299.9 585.2h0M302.4 589.8h0M302.4 590.0h0M300.0 588.9h0M300.0 583.4h0M298.0 589.9h0M303.7 583.4h0M298.6 591.5h0M301.2 589.4h0M293.8 595.1h0M303.9 589.7h0M293.3 591.8h0M293.0 595.9h0M296.9 591.8h0M296.5 594.0h0M304.9 589.7h0M297.8 594.9h0M299.3 595.3h0M303.7 590.5h0M308.4 586.9h0M304.0 591.8h0M293.6 594.7h0M298.3 594.8h0M296.2 589.4h0M294.9 594.0h0M295.6 592.5h0M292.7 597.0h0M292.5 595.4h0M295.3 593.4h0M302.9 586.5h0M292.4 588.3h0M295.2 595.3h0M298.3 594.6h0M298.4 594.5h0M301.0 593.3h0M298.6 594.6h0M295.0 592.0h0M300.2 585.5h0M297.4 598.2h0M299.4 592.2h0M299.0 591.2h0M305.8 585.7h0M303.6 587.3h0M295.0 593.7h0" stroke="#ee3030" stroke-width="0.9" stroke-linecap="round" opacity="1.0"/>
<path d="M319.3 585.5h0M308.7 583.2h0M301.9 589.5h0M312.2 580.0h0M311.7 575.9h0M312.8 577.5h0M320.0 571.0h0M307.9 574.8h0M318.6 571.7h0M308.4 587.5h0M319.3 571.9h0M309.2 573.5h0M294.4 593.6h0M302.4 589.6h0M310.1 581.0h0M309.1 582.7h0M318.5 573.2h0M320.0 575.4h0M306.7 573.7h0M315.5 572.0h0M299.5 578.9h0M302.0 593.4h0M329.2 570.6h0M322.8 559.0h0M314.3 568.9h0M302.5 589.3h0M316.9 569.1h0M295.4 583.7h0M312.8 582.0h0M328.5 566.5h0M301.3 581.3h0M314.0 579.6h0M297.2 591.9h0M309.2 584.7h0M301.6 591.7h0M326.5 573.1h0M324.1 568.4h0M309.8 573.9h0M309.6 575.8h0M318.5 576.4h0M314.9 583.8h0M300.2 584.9h0M324.4 566.2h0M310.6 565.8h0M321.5 566.3h0M309.3 585.4h0M308.0 572.2h0M319.7 566.5h0M307.4 578.4h0M307.3 579.6h0" stroke="#c8c8c8" stroke-width="0.8" stroke-linecap="round" opacity="1.0"/>
<path d="M0,0 C0,-3.15 1.48,-3.50 3.71,-3.50 C8.35,-3.50 14.84,-1.22 18.55,0 C14.84,1.22 8.35,3.50 3.71,3.50 C1.48,3.50 0,3.15 0,0 Z" transform="translate(292.80,596.50) rotate(-42.4)" fill="#ee1010" opacity="1.0" filter="url(#bl3)"/>
<path d="M0,0 C0,-4.05 1.65,-4.50 4.13,-4.50 C9.30,-4.50 16.54,-1.57 20.67,0 C16.54,1.57 9.30,4.50 4.13,4.50 C1.65,4.50 0,4.05 0,0 Z" transform="translate(275.50,609.00) rotate(-32.2)" fill="#ee1010" opacity="1.0" filter="url(#bl3)"/>
<text x="363.21" y="451.46" font-size="13.5" font-weight="bold" stroke="#000" stroke-width="0.35">I</text>
<line x1="405.60" y1="458.35" x2="405.60" y2="549.60" stroke="#000" stroke-width="1.25" />
<line x1="402.20" y1="549.00" x2="405.60" y2="549.00" stroke="#000" stroke-width="1.25" />
<text x="400.00" y="551.86" font-size="8.3" text-anchor="end" font-weight="normal" fill="#000" stroke="#000" stroke-width="0.15" >0</text>
<line x1="402.20" y1="530.97" x2="405.60" y2="530.97" stroke="#000" stroke-width="1.25" />
<text x="400.00" y="533.83" font-size="8.3" text-anchor="end" font-weight="normal" fill="#000" stroke="#000" stroke-width="0.15" >20</text>
<line x1="402.20" y1="512.94" x2="405.60" y2="512.94" stroke="#000" stroke-width="1.25" />
<text x="400.00" y="515.80" font-size="8.3" text-anchor="end" font-weight="normal" fill="#000" stroke="#000" stroke-width="0.15" >40</text>
<line x1="402.20" y1="494.91" x2="405.60" y2="494.91" stroke="#000" stroke-width="1.25" />
<text x="400.00" y="497.77" font-size="8.3" text-anchor="end" font-weight="normal" fill="#000" stroke="#000" stroke-width="0.15" >60</text>
<line x1="402.20" y1="476.88" x2="405.60" y2="476.88" stroke="#000" stroke-width="1.25" />
<text x="400.00" y="479.74" font-size="8.3" text-anchor="end" font-weight="normal" fill="#000" stroke="#000" stroke-width="0.15" >80</text>
<line x1="402.20" y1="458.85" x2="405.60" y2="458.85" stroke="#000" stroke-width="1.25" />
<text x="400.00" y="461.71" font-size="8.3" text-anchor="end" font-weight="normal" fill="#000" stroke="#000" stroke-width="0.15" >100</text>
<line x1="405.00" y1="549.00" x2="504.60" y2="549.00" stroke="#000" stroke-width="1.25" />
<line x1="418.40" y1="549.00" x2="418.40" y2="552.00" stroke="#000" stroke-width="1.25" />
<line x1="442.90" y1="549.00" x2="442.90" y2="552.00" stroke="#000" stroke-width="1.25" />
<line x1="467.60" y1="549.00" x2="467.60" y2="552.00" stroke="#000" stroke-width="1.25" />
<line x1="492.30" y1="549.00" x2="492.30" y2="552.00" stroke="#000" stroke-width="1.25" />
<rect x="410.30" y="508.90" width="16.30" height="40.10" fill="#bfbfbf" stroke="none" stroke-width="1" />
<rect x="435.00" y="503.10" width="15.90" height="45.90" fill="#3f3f3f" stroke="none" stroke-width="1" />
<rect x="459.40" y="479.60" width="16.40" height="69.40" fill="#000" stroke="none" stroke-width="1" />
<rect x="484.40" y="525.40" width="15.40" height="23.60" fill="#7f7f7f" stroke="none" stroke-width="1" />
<line x1="419.40" y1="509.90" x2="419.40" y2="502.50" stroke="#000" stroke-width="1.25" />
<line x1="415.35" y1="502.50" x2="423.45" y2="502.50" stroke="#000" stroke-width="1.25" />
<line x1="443.30" y1="504.10" x2="443.30" y2="496.90" stroke="#000" stroke-width="1.25" />
<line x1="438.75" y1="496.90" x2="447.85" y2="496.90" stroke="#000" stroke-width="1.25" />
<line x1="467.60" y1="480.60" x2="467.60" y2="475.40" stroke="#000" stroke-width="1.25" />
<line x1="463.30" y1="475.40" x2="471.90" y2="475.40" stroke="#000" stroke-width="1.25" />
<line x1="492.40" y1="526.40" x2="492.40" y2="521.50" stroke="#000" stroke-width="1.25" />
<line x1="488.30" y1="521.50" x2="496.50" y2="521.50" stroke="#000" stroke-width="1.25" />
<path d="M421.3,502.5 L421.3,488 L442.9,488 L442.9,496.9" stroke="#000" stroke-width="1.25" fill="none" />
<path d="M415.6,502.5 L415.6,467.8 L464.6,467.8 L464.6,475.4" stroke="#000" stroke-width="1.25" fill="none" />
<path d="M469,475.4 L469,467.7 L492.7,467.7 L492.7,521.5" stroke="#000" stroke-width="1.25" fill="none" />
<text x="439.20" y="465.69" font-size="8.5" text-anchor="middle" font-weight="normal" fill="#000" stroke="#000" stroke-width="0.15" >*</text>
<text x="481.20" y="465.69" font-size="8.5" text-anchor="middle" font-weight="normal" fill="#000" stroke="#000" stroke-width="0.15" >**</text>
<text x="431.90" y="481.45" font-size="10" text-anchor="middle" font-weight="normal" fill="#000" stroke="#000" stroke-width="0.15" >ns</text>
<text x="418.40" y="562.86" font-size="8.3" text-anchor="middle" font-weight="normal" fill="#000" stroke="#000" stroke-width="0.15" >4m</text>
<text x="442.70" y="562.86" font-size="8.3" text-anchor="middle" font-weight="normal" fill="#000" stroke="#000" stroke-width="0.15" >4m</text>
<text x="442.70" y="572.46" font-size="8.3" text-anchor="middle" font-weight="normal" fill="#000" stroke="#000" stroke-width="0.15" >+NAC</text>
<text x="467.70" y="562.86" font-size="8.3" text-anchor="middle" font-weight="normal" fill="#000" stroke="#000" stroke-width="0.15" >16m</text>
<text x="492.10" y="562.86" font-size="8.3" text-anchor="middle" font-weight="normal" fill="#000" stroke="#000" stroke-width="0.15" >16m</text>
<text x="492.10" y="572.46" font-size="8.3" text-anchor="middle" font-weight="normal" fill="#000" stroke="#000" stroke-width="0.15" >+NAC</text>
<text transform="translate(380.98,502.10) rotate(-90)" font-size="8.65" text-anchor="middle" font-weight="normal" fill="#000" stroke="#000" stroke-width="0.15" >Activated platelets percent</text>
<text x="7.12" y="600.16" font-size="13.5" font-weight="bold" stroke="#000" stroke-width="0.35">J</text>
<line x1="42.20" y1="610.00" x2="42.20" y2="695.90" stroke="#000" stroke-width="1.25" />
<line x1="38.80" y1="695.30" x2="42.20" y2="695.30" stroke="#000" stroke-width="1.25" />
<text x="36.60" y="698.16" font-size="8.3" text-anchor="end" font-weight="normal" fill="#000" stroke="#000" stroke-width="0.15" >0</text>
<line x1="38.80" y1="674.10" x2="42.20" y2="674.10" stroke="#000" stroke-width="1.25" />
<text x="36.60" y="676.96" font-size="8.3" text-anchor="end" font-weight="normal" fill="#000" stroke="#000" stroke-width="0.15" >5</text>
<line x1="38.80" y1="652.90" x2="42.20" y2="652.90" stroke="#000" stroke-width="1.25" />
<text x="36.60" y="655.76" font-size="8.3" text-anchor="end" font-weight="normal" fill="#000" stroke="#000" stroke-width="0.15" >10</text>
<line x1="38.80" y1="631.70" x2="42.20" y2="631.70" stroke="#000" stroke-width="1.25" />
<text x="36.60" y="634.56" font-size="8.3" text-anchor="end" font-weight="normal" fill="#000" stroke="#000" stroke-width="0.15" >15</text>
<line x1="38.80" y1="610.50" x2="42.20" y2="610.50" stroke="#000" stroke-width="1.25" />
<text x="36.60" y="613.36" font-size="8.3" text-anchor="end" font-weight="normal" fill="#000" stroke="#000" stroke-width="0.15" >20</text>
<line x1="41.60" y1="695.30" x2="115.40" y2="695.30" stroke="#000" stroke-width="1.25" />
<line x1="60.50" y1="695.30" x2="60.50" y2="698.30" stroke="#000" stroke-width="1.25" />
<line x1="99.20" y1="695.30" x2="99.20" y2="698.30" stroke="#000" stroke-width="1.25" />
<rect x="48.90" y="657.70" width="12.30" height="37.60" fill="#c0c0c0" stroke="none" stroke-width="1" />
<rect x="61.20" y="659.30" width="12.20" height="36.00" fill="#000" stroke="none" stroke-width="1" />
<rect x="87.00" y="634.60" width="12.20" height="60.70" fill="#c0c0c0" stroke="none" stroke-width="1" />
<rect x="99.20" y="681.50" width="12.80" height="13.80" fill="#000" stroke="none" stroke-width="1" />
<line x1="55.00" y1="658.70" x2="55.00" y2="653.80" stroke="#000" stroke-width="1.25" />
<line x1="51.50" y1="653.80" x2="58.50" y2="653.80" stroke="#000" stroke-width="1.25" />
<line x1="67.30" y1="660.30" x2="67.30" y2="656.50" stroke="#000" stroke-width="1.25" />
<line x1="63.80" y1="656.50" x2="70.80" y2="656.50" stroke="#000" stroke-width="1.25" />
<line x1="93.10" y1="635.60" x2="93.10" y2="631.20" stroke="#000" stroke-width="1.25" />
<line x1="89.60" y1="631.20" x2="96.60" y2="631.20" stroke="#000" stroke-width="1.25" />
<line x1="105.60" y1="682.50" x2="105.60" y2="680.80" stroke="#000" stroke-width="1.25" />
<line x1="102.10" y1="680.80" x2="109.10" y2="680.80" stroke="#000" stroke-width="1.25" />
<path d="M54.9,653.8 L54.9,623.8 L92.3,623.8 L92.3,631.2" stroke="#000" stroke-width="1.25" fill="none" />
<path d="M94.6,631.2 L94.6,623.8 L105.7,623.8 L105.7,680.8" stroke="#000" stroke-width="1.25" fill="none" />
<text x="73.40" y="622.50" font-size="8.5" text-anchor="middle" font-weight="normal" fill="#000" stroke="#000" stroke-width="0.15" >**</text>
<text x="99.70" y="622.50" font-size="8.5" text-anchor="middle" font-weight="normal" fill="#000" stroke="#000" stroke-width="0.15" >**</text>
<text x="61.20" y="708.36" font-size="8.3" text-anchor="middle" font-weight="normal" fill="#000" stroke="#000" stroke-width="0.15" >4m</text>
<text x="98.80" y="708.36" font-size="8.3" text-anchor="middle" font-weight="normal" fill="#000" stroke="#000" stroke-width="0.15" >16m</text>
<text transform="translate(21.61,652.00) rotate(-90)" font-size="9.0" text-anchor="middle" font-weight="normal" fill="#000" stroke="#000" stroke-width="0.15" >Thrombus weight (mg)</text>
<rect x="117.60" y="623.00" width="9.80" height="4.50" fill="#c0c0c0" stroke="none" stroke-width="1" />
<rect x="117.60" y="634.60" width="9.80" height="4.40" fill="#000" stroke="none" stroke-width="1" />
<text x="129.80" y="627.52" font-size="7.6" text-anchor="start" font-weight="normal" fill="#000" stroke="#000" stroke-width="0.15" >CON</text>
<text x="129.80" y="639.02" font-size="7.6" text-anchor="start" font-weight="normal" fill="#000" stroke="#000" stroke-width="0.15" >NAC</text>
<text x="362.84" y="599.91" font-size="13.5" font-weight="bold" stroke="#000" stroke-width="0.35">K</text>
<line x1="405.60" y1="613.80" x2="405.60" y2="695.70" stroke="#000" stroke-width="1.25" />
<line x1="402.20" y1="695.10" x2="405.60" y2="695.10" stroke="#000" stroke-width="1.25" />
<text x="400.00" y="697.96" font-size="8.3" text-anchor="end" font-weight="normal" fill="#000" stroke="#000" stroke-width="0.15" >0</text>
<line x1="402.20" y1="678.94" x2="405.60" y2="678.94" stroke="#000" stroke-width="1.25" />
<text x="400.00" y="681.80" font-size="8.3" text-anchor="end" font-weight="normal" fill="#000" stroke="#000" stroke-width="0.15" >2</text>
<line x1="402.20" y1="662.78" x2="405.60" y2="662.78" stroke="#000" stroke-width="1.25" />
<text x="400.00" y="665.64" font-size="8.3" text-anchor="end" font-weight="normal" fill="#000" stroke="#000" stroke-width="0.15" >4</text>
<line x1="402.20" y1="646.62" x2="405.60" y2="646.62" stroke="#000" stroke-width="1.25" />
<text x="400.00" y="649.48" font-size="8.3" text-anchor="end" font-weight="normal" fill="#000" stroke="#000" stroke-width="0.15" >6</text>
<line x1="402.20" y1="630.46" x2="405.60" y2="630.46" stroke="#000" stroke-width="1.25" />
<text x="400.00" y="633.32" font-size="8.3" text-anchor="end" font-weight="normal" fill="#000" stroke="#000" stroke-width="0.15" >8</text>
<line x1="402.20" y1="614.30" x2="405.60" y2="614.30" stroke="#000" stroke-width="1.25" />
<text x="400.00" y="617.16" font-size="8.3" text-anchor="end" font-weight="normal" fill="#000" stroke="#000" stroke-width="0.15" >10</text>
<line x1="405.00" y1="695.10" x2="478.90" y2="695.10" stroke="#000" stroke-width="1.25" />
<line x1="424.60" y1="695.10" x2="424.60" y2="698.10" stroke="#000" stroke-width="1.25" />
<line x1="462.70" y1="695.10" x2="462.70" y2="698.10" stroke="#000" stroke-width="1.25" />
<rect x="412.60" y="653.50" width="12.00" height="41.60" fill="#c0c0c0" stroke="none" stroke-width="1" />
<rect x="424.60" y="654.90" width="12.30" height="40.20" fill="#000" stroke="none" stroke-width="1" />
<rect x="450.50" y="632.30" width="12.20" height="62.80" fill="#c0c0c0" stroke="none" stroke-width="1" />
<rect x="462.70" y="670.40" width="12.00" height="24.70" fill="#000" stroke="none" stroke-width="1" />
<line x1="418.60" y1="654.50" x2="418.60" y2="650.30" stroke="#000" stroke-width="1.25" />
<line x1="415.10" y1="650.30" x2="422.10" y2="650.30" stroke="#000" stroke-width="1.25" />
<line x1="430.80" y1="655.90" x2="430.80" y2="650.30" stroke="#000" stroke-width="1.25" />
<line x1="427.30" y1="650.30" x2="434.30" y2="650.30" stroke="#000" stroke-width="1.25" />
<line x1="456.60" y1="633.30" x2="456.60" y2="627.70" stroke="#000" stroke-width="1.25" />
<line x1="453.10" y1="627.70" x2="460.10" y2="627.70" stroke="#000" stroke-width="1.25" />
<line x1="468.70" y1="671.40" x2="468.70" y2="666.50" stroke="#000" stroke-width="1.25" />
<line x1="465.20" y1="666.50" x2="472.20" y2="666.50" stroke="#000" stroke-width="1.25" />
<path d="M418.8,650.3 L418.8,620.8 L455,620.8 L455,627.7" stroke="#000" stroke-width="1.25" fill="none" />
<path d="M458,627.7 L458,620.8 L468.5,620.8 L468.5,666.5" stroke="#000" stroke-width="1.25" fill="none" />
<text x="436.60" y="619.70" font-size="8.5" text-anchor="middle" font-weight="normal" fill="#000" stroke="#000" stroke-width="0.15" >**</text>
<text x="462.70" y="619.70" font-size="8.5" text-anchor="middle" font-weight="normal" fill="#000" stroke="#000" stroke-width="0.15" >**</text>
<text x="424.60" y="709.46" font-size="8.3" text-anchor="middle" font-weight="normal" fill="#000" stroke="#000" stroke-width="0.15" >4m</text>
<text x="462.70" y="709.46" font-size="8.3" text-anchor="middle" font-weight="normal" fill="#000" stroke="#000" stroke-width="0.15" >16m</text>
<text transform="translate(385.67,654.20) rotate(-90)" font-size="8.9" text-anchor="middle" font-weight="normal" fill="#000" stroke="#000" stroke-width="0.15" >Thrombus length (mm)</text>
<rect x="483.50" y="623.00" width="9.70" height="4.50" fill="#c0c0c0" stroke="none" stroke-width="1" />
<rect x="483.50" y="634.60" width="9.70" height="4.40" fill="#000" stroke="none" stroke-width="1" />
<text x="495.90" y="627.52" font-size="7.6" text-anchor="start" font-weight="normal" fill="#000" stroke="#000" stroke-width="0.15" >CON</text>
<text x="495.90" y="639.02" font-size="7.6" text-anchor="start" font-weight="normal" fill="#000" stroke="#000" stroke-width="0.15" >NAC</text>
</svg>
<div class="frame"></div>
</body></html>
